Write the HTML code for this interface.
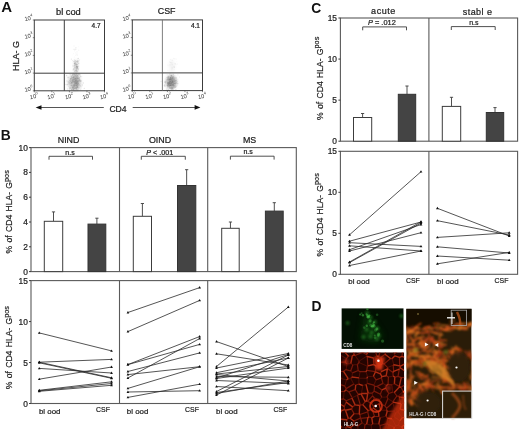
<!DOCTYPE html>
<html><head><meta charset="utf-8"><style>
html,body{margin:0;padding:0;background:#fff;width:520px;height:429px;overflow:hidden}
svg{display:block;filter:grayscale(0)}
text{font-family:"Liberation Sans",sans-serif}
</style></head><body>
<svg width="520" height="429" viewBox="0 0 520 429" font-family="Liberation Sans, sans-serif">
<defs>
<filter id="bl1" x="-50%" y="-50%" width="200%" height="200%"><feGaussianBlur stdDeviation="1.6"/></filter>
<filter id="bl2" x="-50%" y="-50%" width="200%" height="200%"><feGaussianBlur stdDeviation="1.8"/></filter>
<filter id="bl3" x="-50%" y="-50%" width="200%" height="200%"><feGaussianBlur stdDeviation="0.7"/></filter>
<filter id="bl4" x="-50%" y="-50%" width="200%" height="200%"><feGaussianBlur stdDeviation="3"/></filter>
<filter id="bl6" x="-50%" y="-50%" width="200%" height="200%"><feGaussianBlur stdDeviation="1.0"/></filter>
<filter id="bl7" x="-50%" y="-50%" width="200%" height="200%"><feGaussianBlur stdDeviation="0.35"/></filter>
<filter id="bl8" x="-20%" y="-20%" width="140%" height="140%"><feGaussianBlur stdDeviation="0.9"/></filter>
<filter id="bl5" x="-50%" y="-50%" width="200%" height="200%"><feGaussianBlur stdDeviation="0.4"/></filter>
<clipPath id="cg"><rect x="341.4" y="308.2" width="62.3" height="40.7"/></clipPath>
<clipPath id="cr"><rect x="341" y="352.3" width="63.2" height="77"/></clipPath>
<clipPath id="cm"><rect x="406.3" y="308.8" width="65.3" height="109.6"/></clipPath>
</defs>
<text x="1.2" y="12.0" font-size="15" text-anchor="start" font-weight="bold" fill="#111"  >A</text>
<ellipse cx="74.5" cy="82.5" rx="6.2" ry="8" fill="#6a6a6a" opacity="0.34" filter="url(#bl1)"/>
<ellipse cx="76" cy="81" rx="2.2" ry="9" fill="#6a6a6a" opacity="0.25" filter="url(#bl1)"/>
<ellipse cx="76" cy="66" rx="2.0" ry="6.5" fill="#6a6a6a" opacity="0.2" filter="url(#bl1)"/>
<g filter="url(#bl7)">
<circle cx="75.2" cy="75.1" r="0.60" fill="#666" opacity="0.13"/>
<circle cx="75.7" cy="83.2" r="0.70" fill="#666" opacity="0.13"/>
<circle cx="75.0" cy="81.4" r="0.58" fill="#666" opacity="0.15"/>
<circle cx="75.7" cy="80.7" r="0.46" fill="#666" opacity="0.14"/>
<circle cx="78.1" cy="78.7" r="0.51" fill="#666" opacity="0.13"/>
<circle cx="77.4" cy="83.2" r="0.58" fill="#666" opacity="0.13"/>
<circle cx="75.3" cy="88.5" r="0.52" fill="#666" opacity="0.13"/>
<circle cx="74.8" cy="83.8" r="0.70" fill="#666" opacity="0.14"/>
<circle cx="73.6" cy="77.5" r="0.75" fill="#666" opacity="0.17"/>
<circle cx="77.2" cy="87.6" r="0.67" fill="#666" opacity="0.15"/>
<circle cx="78.3" cy="78.3" r="0.70" fill="#666" opacity="0.15"/>
<circle cx="70.5" cy="81.6" r="0.46" fill="#666" opacity="0.11"/>
<circle cx="72.4" cy="88.9" r="0.60" fill="#666" opacity="0.16"/>
<circle cx="71.6" cy="80.8" r="0.60" fill="#666" opacity="0.09"/>
<circle cx="80.1" cy="85.8" r="0.74" fill="#666" opacity="0.14"/>
<circle cx="73.4" cy="85.4" r="0.60" fill="#666" opacity="0.18"/>
<circle cx="76.6" cy="77.0" r="0.60" fill="#666" opacity="0.18"/>
<circle cx="71.7" cy="77.3" r="0.53" fill="#666" opacity="0.14"/>
<circle cx="75.4" cy="81.7" r="0.69" fill="#666" opacity="0.16"/>
<circle cx="71.7" cy="78.4" r="0.47" fill="#666" opacity="0.17"/>
<circle cx="72.9" cy="79.4" r="0.60" fill="#666" opacity="0.13"/>
<circle cx="73.1" cy="88.5" r="0.61" fill="#666" opacity="0.15"/>
<circle cx="72.1" cy="75.5" r="0.46" fill="#666" opacity="0.11"/>
<circle cx="74.3" cy="78.7" r="0.46" fill="#666" opacity="0.09"/>
<circle cx="75.1" cy="75.2" r="0.48" fill="#666" opacity="0.15"/>
<circle cx="74.3" cy="84.8" r="0.50" fill="#666" opacity="0.14"/>
<circle cx="76.3" cy="88.3" r="0.66" fill="#666" opacity="0.13"/>
<circle cx="78.3" cy="83.3" r="0.58" fill="#666" opacity="0.11"/>
<circle cx="72.7" cy="81.6" r="0.63" fill="#666" opacity="0.16"/>
<circle cx="75.6" cy="82.2" r="0.49" fill="#666" opacity="0.15"/>
<circle cx="71.5" cy="89.2" r="0.55" fill="#666" opacity="0.15"/>
<circle cx="77.7" cy="84.7" r="0.74" fill="#666" opacity="0.17"/>
<circle cx="75.0" cy="83.2" r="0.71" fill="#666" opacity="0.09"/>
<circle cx="73.1" cy="79.6" r="0.71" fill="#666" opacity="0.18"/>
<circle cx="72.7" cy="87.8" r="0.51" fill="#666" opacity="0.15"/>
<circle cx="73.0" cy="84.4" r="0.48" fill="#666" opacity="0.15"/>
<circle cx="75.5" cy="81.0" r="0.51" fill="#666" opacity="0.12"/>
<circle cx="80.9" cy="80.7" r="0.55" fill="#666" opacity="0.11"/>
<circle cx="77.8" cy="78.6" r="0.71" fill="#666" opacity="0.15"/>
<circle cx="65.2" cy="84.5" r="0.52" fill="#666" opacity="0.16"/>
<circle cx="76.8" cy="84.8" r="0.72" fill="#666" opacity="0.11"/>
<circle cx="76.8" cy="74.8" r="0.55" fill="#666" opacity="0.12"/>
<circle cx="81.8" cy="76.7" r="0.49" fill="#666" opacity="0.14"/>
<circle cx="75.8" cy="83.5" r="0.47" fill="#666" opacity="0.17"/>
<circle cx="72.8" cy="79.2" r="0.47" fill="#666" opacity="0.11"/>
<circle cx="78.4" cy="74.6" r="0.73" fill="#666" opacity="0.13"/>
<circle cx="75.3" cy="80.7" r="0.65" fill="#666" opacity="0.10"/>
<circle cx="77.4" cy="83.7" r="0.75" fill="#666" opacity="0.13"/>
<circle cx="76.5" cy="85.6" r="0.52" fill="#666" opacity="0.16"/>
<circle cx="77.4" cy="77.9" r="0.53" fill="#666" opacity="0.13"/>
<circle cx="79.0" cy="89.7" r="0.46" fill="#666" opacity="0.09"/>
<circle cx="77.8" cy="81.2" r="0.63" fill="#666" opacity="0.13"/>
<circle cx="74.5" cy="85.0" r="0.72" fill="#666" opacity="0.18"/>
<circle cx="76.6" cy="81.2" r="0.51" fill="#666" opacity="0.15"/>
<circle cx="79.2" cy="80.6" r="0.66" fill="#666" opacity="0.15"/>
<circle cx="74.1" cy="88.3" r="0.47" fill="#666" opacity="0.12"/>
<circle cx="78.7" cy="81.0" r="0.65" fill="#666" opacity="0.15"/>
<circle cx="78.2" cy="78.7" r="0.54" fill="#666" opacity="0.12"/>
<circle cx="77.3" cy="77.3" r="0.55" fill="#666" opacity="0.14"/>
<circle cx="71.0" cy="76.2" r="0.52" fill="#666" opacity="0.09"/>
<circle cx="75.1" cy="85.5" r="0.62" fill="#666" opacity="0.10"/>
<circle cx="79.3" cy="87.8" r="0.54" fill="#666" opacity="0.16"/>
<circle cx="68.2" cy="82.8" r="0.50" fill="#666" opacity="0.14"/>
<circle cx="75.4" cy="78.5" r="0.73" fill="#666" opacity="0.11"/>
<circle cx="76.3" cy="74.9" r="0.48" fill="#666" opacity="0.14"/>
<circle cx="77.5" cy="78.4" r="0.72" fill="#666" opacity="0.10"/>
<circle cx="75.7" cy="80.8" r="0.54" fill="#666" opacity="0.17"/>
<circle cx="74.2" cy="76.8" r="0.58" fill="#666" opacity="0.10"/>
<circle cx="75.0" cy="85.3" r="0.74" fill="#666" opacity="0.16"/>
<circle cx="71.0" cy="78.6" r="0.71" fill="#666" opacity="0.13"/>
<circle cx="72.5" cy="87.0" r="0.53" fill="#666" opacity="0.09"/>
<circle cx="72.9" cy="74.6" r="0.62" fill="#666" opacity="0.10"/>
<circle cx="73.9" cy="85.9" r="0.49" fill="#666" opacity="0.11"/>
<circle cx="76.6" cy="74.0" r="0.57" fill="#666" opacity="0.15"/>
<circle cx="75.0" cy="83.1" r="0.61" fill="#666" opacity="0.14"/>
<circle cx="72.8" cy="74.2" r="0.66" fill="#666" opacity="0.16"/>
<circle cx="72.6" cy="82.9" r="0.57" fill="#666" opacity="0.14"/>
<circle cx="76.3" cy="83.0" r="0.60" fill="#666" opacity="0.17"/>
<circle cx="77.2" cy="76.8" r="0.66" fill="#666" opacity="0.17"/>
<circle cx="79.3" cy="79.1" r="0.50" fill="#666" opacity="0.11"/>
<circle cx="75.1" cy="79.1" r="0.65" fill="#666" opacity="0.15"/>
<circle cx="84.3" cy="88.4" r="0.69" fill="#666" opacity="0.15"/>
<circle cx="76.8" cy="80.8" r="0.68" fill="#666" opacity="0.17"/>
<circle cx="67.7" cy="88.9" r="0.74" fill="#666" opacity="0.12"/>
<circle cx="76.5" cy="88.9" r="0.49" fill="#666" opacity="0.17"/>
<circle cx="76.7" cy="80.9" r="0.63" fill="#666" opacity="0.13"/>
<circle cx="77.1" cy="87.1" r="0.52" fill="#666" opacity="0.16"/>
<circle cx="77.2" cy="82.1" r="0.58" fill="#666" opacity="0.09"/>
<circle cx="76.2" cy="76.7" r="0.54" fill="#666" opacity="0.14"/>
<circle cx="79.2" cy="80.1" r="0.60" fill="#666" opacity="0.17"/>
<circle cx="72.9" cy="86.9" r="0.48" fill="#666" opacity="0.16"/>
<circle cx="66.6" cy="75.5" r="0.68" fill="#666" opacity="0.18"/>
<circle cx="77.6" cy="90.0" r="0.62" fill="#666" opacity="0.12"/>
<circle cx="71.8" cy="81.8" r="0.61" fill="#666" opacity="0.09"/>
<circle cx="71.5" cy="85.5" r="0.54" fill="#666" opacity="0.13"/>
<circle cx="70.1" cy="82.6" r="0.56" fill="#666" opacity="0.11"/>
<circle cx="77.7" cy="82.2" r="0.63" fill="#666" opacity="0.17"/>
<circle cx="78.8" cy="81.2" r="0.70" fill="#666" opacity="0.13"/>
<circle cx="74.3" cy="87.2" r="0.64" fill="#666" opacity="0.14"/>
<circle cx="74.8" cy="82.6" r="0.57" fill="#666" opacity="0.13"/>
<circle cx="70.2" cy="74.6" r="0.72" fill="#666" opacity="0.16"/>
<circle cx="69.4" cy="82.7" r="0.64" fill="#666" opacity="0.15"/>
<circle cx="72.6" cy="75.3" r="0.64" fill="#666" opacity="0.15"/>
<circle cx="80.5" cy="75.9" r="0.70" fill="#666" opacity="0.16"/>
<circle cx="73.4" cy="87.7" r="0.66" fill="#666" opacity="0.17"/>
<circle cx="73.1" cy="80.6" r="0.70" fill="#666" opacity="0.13"/>
<circle cx="74.0" cy="82.6" r="0.60" fill="#666" opacity="0.16"/>
<circle cx="72.2" cy="85.9" r="0.65" fill="#666" opacity="0.09"/>
<circle cx="66.8" cy="81.0" r="0.66" fill="#666" opacity="0.13"/>
<circle cx="75.6" cy="87.9" r="0.72" fill="#666" opacity="0.11"/>
<circle cx="80.7" cy="89.7" r="0.61" fill="#666" opacity="0.12"/>
<circle cx="69.5" cy="80.9" r="0.50" fill="#666" opacity="0.15"/>
<circle cx="77.0" cy="76.0" r="0.52" fill="#666" opacity="0.18"/>
<circle cx="82.2" cy="85.7" r="0.64" fill="#666" opacity="0.12"/>
<circle cx="69.8" cy="88.3" r="0.69" fill="#666" opacity="0.11"/>
<circle cx="73.6" cy="78.1" r="0.74" fill="#666" opacity="0.13"/>
<circle cx="79.7" cy="74.5" r="0.63" fill="#666" opacity="0.11"/>
<circle cx="73.2" cy="81.2" r="0.49" fill="#666" opacity="0.15"/>
<circle cx="74.4" cy="74.5" r="0.48" fill="#666" opacity="0.13"/>
<circle cx="73.4" cy="82.2" r="0.51" fill="#666" opacity="0.09"/>
<circle cx="75.2" cy="84.3" r="0.66" fill="#666" opacity="0.16"/>
<circle cx="79.6" cy="79.2" r="0.55" fill="#666" opacity="0.17"/>
<circle cx="77.8" cy="87.1" r="0.60" fill="#666" opacity="0.12"/>
<circle cx="76.2" cy="87.7" r="0.70" fill="#666" opacity="0.13"/>
<circle cx="72.9" cy="79.0" r="0.66" fill="#666" opacity="0.12"/>
<circle cx="76.0" cy="81.9" r="0.69" fill="#666" opacity="0.17"/>
<circle cx="73.6" cy="90.0" r="0.62" fill="#666" opacity="0.17"/>
<circle cx="75.1" cy="76.8" r="0.72" fill="#666" opacity="0.09"/>
<circle cx="78.1" cy="85.1" r="0.49" fill="#666" opacity="0.13"/>
<circle cx="76.2" cy="82.7" r="0.70" fill="#666" opacity="0.09"/>
<circle cx="74.7" cy="86.4" r="0.48" fill="#666" opacity="0.09"/>
<circle cx="73.2" cy="74.4" r="0.64" fill="#666" opacity="0.18"/>
<circle cx="73.4" cy="76.8" r="0.47" fill="#666" opacity="0.17"/>
<circle cx="72.3" cy="77.5" r="0.63" fill="#666" opacity="0.14"/>
<circle cx="73.8" cy="81.6" r="0.56" fill="#666" opacity="0.13"/>
<circle cx="70.5" cy="88.1" r="0.66" fill="#666" opacity="0.16"/>
<circle cx="76.4" cy="83.3" r="0.69" fill="#666" opacity="0.13"/>
<circle cx="79.1" cy="84.8" r="0.58" fill="#666" opacity="0.10"/>
<circle cx="75.6" cy="80.6" r="0.61" fill="#666" opacity="0.10"/>
<circle cx="75.4" cy="78.4" r="0.46" fill="#666" opacity="0.12"/>
<circle cx="74.7" cy="74.2" r="0.49" fill="#666" opacity="0.16"/>
<circle cx="73.5" cy="89.2" r="0.69" fill="#666" opacity="0.18"/>
<circle cx="73.6" cy="79.9" r="0.65" fill="#666" opacity="0.13"/>
<circle cx="80.4" cy="80.9" r="0.70" fill="#666" opacity="0.15"/>
<circle cx="67.9" cy="77.7" r="0.70" fill="#666" opacity="0.12"/>
<circle cx="76.8" cy="89.2" r="0.61" fill="#666" opacity="0.10"/>
<circle cx="81.0" cy="86.5" r="0.65" fill="#666" opacity="0.12"/>
<circle cx="74.1" cy="90.0" r="0.55" fill="#666" opacity="0.16"/>
<circle cx="70.8" cy="81.9" r="0.49" fill="#666" opacity="0.17"/>
<circle cx="73.6" cy="89.1" r="0.47" fill="#666" opacity="0.18"/>
<circle cx="67.5" cy="84.5" r="0.73" fill="#666" opacity="0.18"/>
<circle cx="80.4" cy="74.4" r="0.49" fill="#666" opacity="0.14"/>
<circle cx="79.6" cy="77.4" r="0.57" fill="#666" opacity="0.13"/>
<circle cx="79.2" cy="80.6" r="0.50" fill="#666" opacity="0.10"/>
<circle cx="76.8" cy="78.8" r="0.57" fill="#666" opacity="0.16"/>
<circle cx="76.5" cy="83.3" r="0.61" fill="#666" opacity="0.11"/>
<circle cx="77.1" cy="86.4" r="0.64" fill="#666" opacity="0.14"/>
<circle cx="76.2" cy="83.7" r="0.71" fill="#666" opacity="0.15"/>
<circle cx="78.2" cy="83.2" r="0.70" fill="#666" opacity="0.15"/>
<circle cx="77.8" cy="76.1" r="0.65" fill="#666" opacity="0.14"/>
<circle cx="80.7" cy="76.5" r="0.67" fill="#666" opacity="0.16"/>
<circle cx="77.6" cy="81.9" r="0.51" fill="#666" opacity="0.16"/>
<circle cx="71.6" cy="82.7" r="0.71" fill="#666" opacity="0.16"/>
<circle cx="74.2" cy="80.7" r="0.71" fill="#666" opacity="0.13"/>
<circle cx="76.1" cy="89.1" r="0.66" fill="#666" opacity="0.09"/>
<circle cx="77.1" cy="87.2" r="0.72" fill="#666" opacity="0.16"/>
<circle cx="79.2" cy="79.9" r="0.62" fill="#666" opacity="0.14"/>
<circle cx="70.8" cy="80.2" r="0.70" fill="#666" opacity="0.18"/>
<circle cx="71.0" cy="88.9" r="0.54" fill="#666" opacity="0.12"/>
<circle cx="70.5" cy="81.5" r="0.61" fill="#666" opacity="0.18"/>
<circle cx="80.5" cy="81.5" r="0.62" fill="#666" opacity="0.12"/>
<circle cx="79.0" cy="73.8" r="0.72" fill="#666" opacity="0.17"/>
<circle cx="76.9" cy="74.7" r="0.59" fill="#666" opacity="0.16"/>
<circle cx="71.9" cy="82.9" r="0.59" fill="#666" opacity="0.10"/>
<circle cx="72.9" cy="89.4" r="0.46" fill="#666" opacity="0.11"/>
<circle cx="72.6" cy="78.0" r="0.75" fill="#666" opacity="0.11"/>
<circle cx="69.4" cy="80.7" r="0.66" fill="#666" opacity="0.13"/>
<circle cx="80.3" cy="79.5" r="0.48" fill="#666" opacity="0.10"/>
<circle cx="77.4" cy="80.6" r="0.46" fill="#666" opacity="0.11"/>
<circle cx="66.7" cy="84.8" r="0.57" fill="#666" opacity="0.16"/>
<circle cx="75.7" cy="78.6" r="0.63" fill="#666" opacity="0.18"/>
<circle cx="71.0" cy="78.6" r="0.55" fill="#666" opacity="0.18"/>
<circle cx="76.6" cy="81.2" r="0.62" fill="#666" opacity="0.13"/>
<circle cx="74.2" cy="78.0" r="0.53" fill="#666" opacity="0.12"/>
<circle cx="69.0" cy="84.0" r="0.71" fill="#666" opacity="0.16"/>
<circle cx="74.4" cy="78.6" r="0.57" fill="#666" opacity="0.15"/>
<circle cx="76.4" cy="79.5" r="0.71" fill="#666" opacity="0.10"/>
<circle cx="77.8" cy="81.6" r="0.60" fill="#666" opacity="0.17"/>
<circle cx="72.7" cy="80.3" r="0.68" fill="#666" opacity="0.12"/>
<circle cx="74.6" cy="82.1" r="0.75" fill="#666" opacity="0.15"/>
<circle cx="69.7" cy="87.6" r="0.70" fill="#666" opacity="0.11"/>
<circle cx="73.5" cy="84.5" r="0.51" fill="#666" opacity="0.14"/>
<circle cx="70.4" cy="79.5" r="0.49" fill="#666" opacity="0.13"/>
<circle cx="74.7" cy="88.2" r="0.56" fill="#666" opacity="0.13"/>
<circle cx="77.8" cy="84.9" r="0.66" fill="#666" opacity="0.15"/>
<circle cx="74.1" cy="86.1" r="0.49" fill="#666" opacity="0.11"/>
<circle cx="78.6" cy="87.9" r="0.66" fill="#666" opacity="0.14"/>
<circle cx="74.0" cy="76.1" r="0.51" fill="#666" opacity="0.14"/>
<circle cx="77.7" cy="75.7" r="0.45" fill="#666" opacity="0.09"/>
<circle cx="77.1" cy="85.3" r="0.65" fill="#666" opacity="0.18"/>
<circle cx="74.3" cy="81.8" r="0.55" fill="#666" opacity="0.10"/>
<circle cx="74.6" cy="79.6" r="0.47" fill="#666" opacity="0.16"/>
<circle cx="77.4" cy="86.7" r="0.53" fill="#666" opacity="0.09"/>
<circle cx="76.8" cy="83.0" r="0.57" fill="#666" opacity="0.17"/>
<circle cx="73.4" cy="76.9" r="0.65" fill="#666" opacity="0.11"/>
<circle cx="72.0" cy="81.2" r="0.73" fill="#666" opacity="0.12"/>
<circle cx="77.4" cy="75.3" r="0.65" fill="#666" opacity="0.15"/>
<circle cx="70.7" cy="80.0" r="0.61" fill="#666" opacity="0.13"/>
<circle cx="78.9" cy="74.4" r="0.61" fill="#666" opacity="0.09"/>
<circle cx="72.9" cy="81.7" r="0.51" fill="#666" opacity="0.13"/>
<circle cx="72.5" cy="80.1" r="0.53" fill="#666" opacity="0.14"/>
<circle cx="71.6" cy="83.5" r="0.48" fill="#666" opacity="0.12"/>
<circle cx="68.7" cy="77.2" r="0.67" fill="#666" opacity="0.15"/>
<circle cx="77.9" cy="83.5" r="0.65" fill="#666" opacity="0.10"/>
<circle cx="76.6" cy="79.4" r="0.71" fill="#666" opacity="0.11"/>
<circle cx="72.3" cy="88.6" r="0.49" fill="#666" opacity="0.14"/>
<circle cx="83.4" cy="83.1" r="0.73" fill="#666" opacity="0.15"/>
<circle cx="71.8" cy="89.9" r="0.71" fill="#666" opacity="0.13"/>
<circle cx="71.1" cy="88.7" r="0.47" fill="#666" opacity="0.13"/>
<circle cx="80.2" cy="85.3" r="0.45" fill="#666" opacity="0.09"/>
<circle cx="76.4" cy="85.2" r="0.60" fill="#666" opacity="0.12"/>
<circle cx="79.2" cy="74.9" r="0.69" fill="#666" opacity="0.16"/>
<circle cx="73.7" cy="86.1" r="0.68" fill="#666" opacity="0.17"/>
<circle cx="80.8" cy="81.6" r="0.47" fill="#666" opacity="0.13"/>
<circle cx="73.0" cy="87.3" r="0.69" fill="#666" opacity="0.13"/>
<circle cx="73.9" cy="81.6" r="0.65" fill="#666" opacity="0.17"/>
<circle cx="71.9" cy="82.6" r="0.66" fill="#666" opacity="0.18"/>
<circle cx="82.2" cy="84.6" r="0.56" fill="#666" opacity="0.17"/>
<circle cx="77.5" cy="86.8" r="0.74" fill="#666" opacity="0.15"/>
<circle cx="71.1" cy="83.9" r="0.68" fill="#666" opacity="0.16"/>
<circle cx="70.7" cy="78.9" r="0.73" fill="#666" opacity="0.17"/>
<circle cx="76.9" cy="89.1" r="0.48" fill="#666" opacity="0.09"/>
<circle cx="76.9" cy="84.6" r="0.68" fill="#666" opacity="0.15"/>
<circle cx="75.8" cy="74.9" r="0.50" fill="#666" opacity="0.18"/>
<circle cx="78.4" cy="83.1" r="0.64" fill="#666" opacity="0.16"/>
<circle cx="78.6" cy="76.2" r="0.57" fill="#666" opacity="0.09"/>
<circle cx="79.2" cy="74.7" r="0.55" fill="#666" opacity="0.11"/>
<circle cx="77.0" cy="80.6" r="0.63" fill="#666" opacity="0.14"/>
<circle cx="69.6" cy="89.0" r="0.73" fill="#666" opacity="0.16"/>
<circle cx="71.7" cy="89.5" r="0.64" fill="#666" opacity="0.13"/>
<circle cx="77.5" cy="81.1" r="0.45" fill="#666" opacity="0.18"/>
<circle cx="74.0" cy="88.7" r="0.57" fill="#666" opacity="0.14"/>
<circle cx="80.3" cy="80.8" r="0.55" fill="#666" opacity="0.14"/>
<circle cx="71.2" cy="85.4" r="0.58" fill="#666" opacity="0.11"/>
<circle cx="72.3" cy="87.5" r="0.51" fill="#666" opacity="0.16"/>
<circle cx="73.8" cy="86.0" r="0.62" fill="#666" opacity="0.17"/>
<circle cx="74.6" cy="73.9" r="0.49" fill="#666" opacity="0.11"/>
<circle cx="73.4" cy="87.9" r="0.59" fill="#666" opacity="0.10"/>
<circle cx="76.8" cy="87.0" r="0.51" fill="#666" opacity="0.16"/>
<circle cx="72.8" cy="80.6" r="0.58" fill="#666" opacity="0.17"/>
<circle cx="71.2" cy="76.6" r="0.57" fill="#666" opacity="0.11"/>
<circle cx="74.0" cy="79.4" r="0.69" fill="#666" opacity="0.10"/>
<circle cx="77.9" cy="90.1" r="0.47" fill="#666" opacity="0.11"/>
<circle cx="72.9" cy="87.0" r="0.65" fill="#666" opacity="0.18"/>
<circle cx="71.1" cy="75.2" r="0.68" fill="#666" opacity="0.11"/>
<circle cx="81.0" cy="88.0" r="0.54" fill="#666" opacity="0.16"/>
<circle cx="79.6" cy="78.6" r="0.48" fill="#666" opacity="0.17"/>
<circle cx="73.3" cy="77.0" r="0.51" fill="#666" opacity="0.14"/>
<circle cx="75.0" cy="82.8" r="0.49" fill="#666" opacity="0.11"/>
<circle cx="70.3" cy="83.4" r="0.53" fill="#666" opacity="0.15"/>
<circle cx="68.3" cy="81.7" r="0.74" fill="#666" opacity="0.16"/>
<circle cx="72.6" cy="85.4" r="0.48" fill="#666" opacity="0.16"/>
<circle cx="78.0" cy="90.4" r="0.59" fill="#666" opacity="0.09"/>
<circle cx="67.5" cy="77.1" r="0.72" fill="#666" opacity="0.10"/>
<circle cx="74.6" cy="79.6" r="0.58" fill="#666" opacity="0.13"/>
<circle cx="79.4" cy="78.8" r="0.51" fill="#666" opacity="0.14"/>
<circle cx="72.8" cy="81.2" r="0.56" fill="#666" opacity="0.17"/>
<circle cx="80.8" cy="80.2" r="0.47" fill="#666" opacity="0.17"/>
<circle cx="68.8" cy="86.4" r="0.50" fill="#666" opacity="0.10"/>
<circle cx="77.3" cy="77.9" r="0.46" fill="#666" opacity="0.14"/>
<circle cx="81.4" cy="81.0" r="0.57" fill="#666" opacity="0.18"/>
<circle cx="72.9" cy="74.8" r="0.72" fill="#666" opacity="0.13"/>
<circle cx="79.0" cy="77.4" r="0.72" fill="#666" opacity="0.13"/>
<circle cx="70.9" cy="87.3" r="0.55" fill="#666" opacity="0.10"/>
<circle cx="78.4" cy="89.7" r="0.45" fill="#666" opacity="0.17"/>
<circle cx="73.3" cy="89.4" r="0.62" fill="#666" opacity="0.15"/>
<circle cx="71.6" cy="76.9" r="0.64" fill="#666" opacity="0.17"/>
<circle cx="71.2" cy="85.5" r="0.69" fill="#666" opacity="0.09"/>
<circle cx="76.6" cy="88.8" r="0.51" fill="#666" opacity="0.17"/>
<circle cx="76.0" cy="85.5" r="0.55" fill="#666" opacity="0.14"/>
<circle cx="76.2" cy="82.8" r="0.64" fill="#666" opacity="0.16"/>
<circle cx="70.8" cy="78.3" r="0.64" fill="#666" opacity="0.10"/>
<circle cx="74.8" cy="85.7" r="0.53" fill="#666" opacity="0.16"/>
<circle cx="74.8" cy="88.2" r="0.53" fill="#666" opacity="0.13"/>
<circle cx="74.8" cy="74.4" r="0.71" fill="#666" opacity="0.18"/>
<circle cx="75.6" cy="78.8" r="0.54" fill="#666" opacity="0.17"/>
<circle cx="76.2" cy="78.3" r="0.58" fill="#666" opacity="0.12"/>
<circle cx="75.0" cy="79.8" r="0.54" fill="#666" opacity="0.16"/>
<circle cx="75.7" cy="80.3" r="0.63" fill="#666" opacity="0.15"/>
<circle cx="77.5" cy="75.2" r="0.74" fill="#666" opacity="0.11"/>
<circle cx="76.3" cy="85.1" r="0.63" fill="#666" opacity="0.10"/>
<circle cx="74.8" cy="87.9" r="0.47" fill="#666" opacity="0.18"/>
<circle cx="74.6" cy="75.7" r="0.73" fill="#666" opacity="0.09"/>
<circle cx="75.9" cy="81.7" r="0.53" fill="#666" opacity="0.14"/>
<circle cx="80.8" cy="82.9" r="0.48" fill="#666" opacity="0.16"/>
<circle cx="79.1" cy="84.4" r="0.51" fill="#666" opacity="0.12"/>
<circle cx="71.7" cy="82.5" r="0.57" fill="#666" opacity="0.15"/>
<circle cx="75.7" cy="87.4" r="0.66" fill="#666" opacity="0.12"/>
<circle cx="78.3" cy="78.1" r="0.59" fill="#666" opacity="0.09"/>
<circle cx="76.6" cy="82.5" r="0.64" fill="#666" opacity="0.15"/>
<circle cx="77.5" cy="64.4" r="0.66" fill="#666" opacity="0.12"/>
<circle cx="77.4" cy="68.3" r="0.66" fill="#666" opacity="0.16"/>
<circle cx="78.7" cy="63.2" r="0.62" fill="#666" opacity="0.14"/>
<circle cx="74.3" cy="66.0" r="0.65" fill="#666" opacity="0.14"/>
<circle cx="77.0" cy="61.7" r="0.59" fill="#666" opacity="0.16"/>
<circle cx="75.2" cy="60.6" r="0.62" fill="#666" opacity="0.16"/>
<circle cx="75.1" cy="63.6" r="0.54" fill="#666" opacity="0.14"/>
<circle cx="77.6" cy="67.6" r="0.72" fill="#666" opacity="0.11"/>
<circle cx="73.8" cy="68.7" r="0.73" fill="#666" opacity="0.15"/>
<circle cx="75.0" cy="62.5" r="0.58" fill="#666" opacity="0.15"/>
<circle cx="74.4" cy="72.9" r="0.45" fill="#666" opacity="0.16"/>
<circle cx="75.9" cy="61.7" r="0.45" fill="#666" opacity="0.12"/>
<circle cx="73.8" cy="61.3" r="0.71" fill="#666" opacity="0.11"/>
<circle cx="76.7" cy="67.2" r="0.75" fill="#666" opacity="0.15"/>
<circle cx="77.6" cy="71.5" r="0.74" fill="#666" opacity="0.14"/>
<circle cx="75.7" cy="63.0" r="0.68" fill="#666" opacity="0.14"/>
<circle cx="74.7" cy="63.9" r="0.54" fill="#666" opacity="0.13"/>
<circle cx="74.4" cy="65.1" r="0.71" fill="#666" opacity="0.10"/>
<circle cx="74.4" cy="61.7" r="0.64" fill="#666" opacity="0.11"/>
<circle cx="75.2" cy="68.1" r="0.50" fill="#666" opacity="0.18"/>
<circle cx="78.3" cy="66.1" r="0.54" fill="#666" opacity="0.13"/>
<circle cx="75.8" cy="64.9" r="0.56" fill="#666" opacity="0.14"/>
<circle cx="77.3" cy="61.7" r="0.55" fill="#666" opacity="0.14"/>
<circle cx="74.9" cy="63.9" r="0.61" fill="#666" opacity="0.11"/>
<circle cx="77.3" cy="66.3" r="0.48" fill="#666" opacity="0.13"/>
<circle cx="73.0" cy="65.9" r="0.67" fill="#666" opacity="0.16"/>
<circle cx="77.2" cy="65.7" r="0.56" fill="#666" opacity="0.11"/>
<circle cx="77.4" cy="69.6" r="0.60" fill="#666" opacity="0.10"/>
<circle cx="79.7" cy="59.5" r="0.47" fill="#666" opacity="0.09"/>
<circle cx="78.3" cy="69.1" r="0.71" fill="#666" opacity="0.10"/>
<circle cx="77.9" cy="66.3" r="0.55" fill="#666" opacity="0.09"/>
<circle cx="77.0" cy="66.2" r="0.51" fill="#666" opacity="0.12"/>
<circle cx="74.9" cy="64.8" r="0.52" fill="#666" opacity="0.11"/>
<circle cx="76.8" cy="63.6" r="0.62" fill="#666" opacity="0.13"/>
<circle cx="75.2" cy="70.5" r="0.45" fill="#666" opacity="0.11"/>
<circle cx="74.4" cy="59.5" r="0.52" fill="#666" opacity="0.11"/>
<circle cx="76.6" cy="64.7" r="0.69" fill="#666" opacity="0.17"/>
<circle cx="76.3" cy="67.2" r="0.54" fill="#666" opacity="0.12"/>
<circle cx="74.6" cy="63.1" r="0.69" fill="#666" opacity="0.15"/>
<circle cx="76.7" cy="68.3" r="0.67" fill="#666" opacity="0.10"/>
<circle cx="78.6" cy="63.3" r="0.52" fill="#666" opacity="0.12"/>
<circle cx="76.0" cy="71.2" r="0.52" fill="#666" opacity="0.09"/>
<circle cx="76.0" cy="69.3" r="0.55" fill="#666" opacity="0.13"/>
<circle cx="77.6" cy="60.8" r="0.63" fill="#666" opacity="0.17"/>
<circle cx="74.8" cy="69.4" r="0.52" fill="#666" opacity="0.16"/>
<circle cx="78.4" cy="58.3" r="0.63" fill="#666" opacity="0.10"/>
<circle cx="78.4" cy="69.9" r="0.72" fill="#666" opacity="0.14"/>
<circle cx="79.0" cy="60.5" r="0.68" fill="#666" opacity="0.12"/>
<circle cx="74.7" cy="67.3" r="0.57" fill="#666" opacity="0.13"/>
<circle cx="76.8" cy="66.3" r="0.50" fill="#666" opacity="0.14"/>
<circle cx="77.6" cy="60.3" r="0.49" fill="#666" opacity="0.13"/>
<circle cx="75.4" cy="64.1" r="0.47" fill="#666" opacity="0.15"/>
<circle cx="76.2" cy="73.2" r="0.50" fill="#666" opacity="0.17"/>
<circle cx="75.4" cy="70.9" r="0.61" fill="#666" opacity="0.17"/>
<circle cx="78.5" cy="61.2" r="0.66" fill="#666" opacity="0.10"/>
<circle cx="76.7" cy="71.7" r="0.75" fill="#666" opacity="0.16"/>
<circle cx="76.5" cy="70.4" r="0.74" fill="#666" opacity="0.14"/>
<circle cx="78.0" cy="58.8" r="0.68" fill="#666" opacity="0.15"/>
<circle cx="75.3" cy="62.0" r="0.49" fill="#666" opacity="0.18"/>
<circle cx="77.2" cy="66.8" r="0.63" fill="#666" opacity="0.18"/>
<circle cx="76.3" cy="69.6" r="0.70" fill="#666" opacity="0.12"/>
<circle cx="74.8" cy="68.7" r="0.46" fill="#666" opacity="0.17"/>
<circle cx="75.9" cy="65.4" r="0.48" fill="#666" opacity="0.10"/>
<circle cx="76.7" cy="68.8" r="0.54" fill="#666" opacity="0.14"/>
<circle cx="77.5" cy="62.4" r="0.72" fill="#666" opacity="0.14"/>
<circle cx="73.2" cy="70.2" r="0.62" fill="#666" opacity="0.13"/>
<circle cx="74.6" cy="65.6" r="0.58" fill="#666" opacity="0.10"/>
<circle cx="76.7" cy="68.5" r="0.50" fill="#666" opacity="0.12"/>
<circle cx="77.4" cy="67.4" r="0.63" fill="#666" opacity="0.15"/>
<circle cx="76.4" cy="64.4" r="0.64" fill="#666" opacity="0.11"/>
<circle cx="74.9" cy="71.5" r="0.70" fill="#666" opacity="0.15"/>
<circle cx="76.3" cy="65.9" r="0.54" fill="#666" opacity="0.13"/>
<circle cx="76.5" cy="66.4" r="0.56" fill="#666" opacity="0.14"/>
<circle cx="76.4" cy="67.4" r="0.55" fill="#666" opacity="0.16"/>
<circle cx="71.4" cy="59.1" r="0.63" fill="#666" opacity="0.17"/>
<circle cx="74.5" cy="63.5" r="0.57" fill="#666" opacity="0.10"/>
<circle cx="78.0" cy="68.8" r="0.71" fill="#666" opacity="0.09"/>
<circle cx="76.6" cy="70.0" r="0.54" fill="#666" opacity="0.17"/>
<circle cx="76.0" cy="70.3" r="0.60" fill="#666" opacity="0.18"/>
<circle cx="75.4" cy="72.8" r="0.46" fill="#666" opacity="0.13"/>
<circle cx="76.9" cy="64.5" r="0.56" fill="#666" opacity="0.15"/>
<circle cx="74.2" cy="63.4" r="0.63" fill="#666" opacity="0.15"/>
<circle cx="75.4" cy="70.2" r="0.57" fill="#666" opacity="0.14"/>
<circle cx="73.2" cy="61.8" r="0.57" fill="#666" opacity="0.13"/>
<circle cx="77.7" cy="67.4" r="0.62" fill="#666" opacity="0.15"/>
<circle cx="78.3" cy="61.6" r="0.62" fill="#666" opacity="0.13"/>
<circle cx="77.9" cy="66.5" r="0.62" fill="#666" opacity="0.16"/>
<circle cx="77.0" cy="71.7" r="0.47" fill="#666" opacity="0.16"/>
<circle cx="76.7" cy="61.2" r="0.66" fill="#666" opacity="0.15"/>
<circle cx="75.8" cy="68.0" r="0.68" fill="#666" opacity="0.12"/>
<circle cx="76.9" cy="70.6" r="0.70" fill="#666" opacity="0.18"/>
<circle cx="72.4" cy="60.6" r="0.50" fill="#666" opacity="0.13"/>
<circle cx="77.1" cy="66.2" r="0.71" fill="#666" opacity="0.10"/>
<circle cx="75.0" cy="61.1" r="0.75" fill="#666" opacity="0.18"/>
<circle cx="76.8" cy="68.7" r="0.75" fill="#666" opacity="0.12"/>
<circle cx="75.0" cy="63.1" r="0.62" fill="#666" opacity="0.13"/>
<circle cx="74.2" cy="67.7" r="0.50" fill="#666" opacity="0.15"/>
<circle cx="77.9" cy="64.1" r="0.69" fill="#666" opacity="0.12"/>
<circle cx="76.1" cy="66.5" r="0.74" fill="#666" opacity="0.10"/>
<circle cx="74.4" cy="71.0" r="0.67" fill="#666" opacity="0.15"/>
<circle cx="73.4" cy="69.4" r="0.58" fill="#666" opacity="0.17"/>
<circle cx="78.3" cy="68.7" r="0.48" fill="#666" opacity="0.12"/>
<circle cx="75.1" cy="67.1" r="0.58" fill="#666" opacity="0.17"/>
<circle cx="77.0" cy="66.7" r="0.74" fill="#666" opacity="0.13"/>
<circle cx="73.5" cy="73.1" r="0.68" fill="#666" opacity="0.11"/>
<circle cx="75.2" cy="64.2" r="0.68" fill="#666" opacity="0.14"/>
<circle cx="76.2" cy="64.3" r="0.73" fill="#666" opacity="0.11"/>
<circle cx="76.9" cy="61.6" r="0.72" fill="#666" opacity="0.10"/>
<circle cx="77.6" cy="67.9" r="0.73" fill="#666" opacity="0.13"/>
<circle cx="75.1" cy="65.9" r="0.61" fill="#666" opacity="0.13"/>
<circle cx="78.5" cy="46.7" r="0.59" fill="#666" opacity="0.03"/>
<circle cx="74.9" cy="49.7" r="0.69" fill="#666" opacity="0.04"/>
<circle cx="72.1" cy="54.9" r="0.48" fill="#666" opacity="0.03"/>
<circle cx="77.1" cy="52.9" r="0.56" fill="#666" opacity="0.04"/>
<circle cx="75.9" cy="52.8" r="0.60" fill="#666" opacity="0.04"/>
<circle cx="75.9" cy="47.8" r="0.62" fill="#666" opacity="0.04"/>
<circle cx="76.0" cy="48.9" r="0.60" fill="#666" opacity="0.04"/>
<circle cx="73.6" cy="53.6" r="0.61" fill="#666" opacity="0.04"/>
<circle cx="73.4" cy="49.4" r="0.67" fill="#666" opacity="0.04"/>
<circle cx="74.1" cy="48.9" r="0.60" fill="#666" opacity="0.04"/>
<circle cx="74.6" cy="51.2" r="0.52" fill="#666" opacity="0.04"/>
<circle cx="74.8" cy="49.9" r="0.68" fill="#666" opacity="0.06"/>
<circle cx="76.1" cy="47.5" r="0.73" fill="#666" opacity="0.04"/>
<circle cx="74.3" cy="57.1" r="0.65" fill="#666" opacity="0.04"/>
<circle cx="75.7" cy="55.5" r="0.57" fill="#666" opacity="0.05"/>
<circle cx="75.4" cy="49.3" r="0.57" fill="#666" opacity="0.06"/>
<circle cx="78.6" cy="50.3" r="0.68" fill="#666" opacity="0.06"/>
<circle cx="76.1" cy="53.8" r="0.63" fill="#666" opacity="0.04"/>
<circle cx="75.6" cy="48.0" r="0.58" fill="#666" opacity="0.05"/>
<circle cx="77.7" cy="54.8" r="0.50" fill="#666" opacity="0.05"/>
<circle cx="76.0" cy="49.2" r="0.58" fill="#666" opacity="0.05"/>
<circle cx="74.0" cy="46.1" r="0.74" fill="#666" opacity="0.06"/>
<circle cx="76.3" cy="54.8" r="0.74" fill="#666" opacity="0.03"/>
<circle cx="77.0" cy="51.5" r="0.63" fill="#666" opacity="0.03"/>
<circle cx="77.2" cy="55.4" r="0.69" fill="#666" opacity="0.05"/>
</g>
<rect x="34.3" y="20.0" width="70.20" height="70.80" fill="none" stroke="#3c3c3c" stroke-width="1.0"/>
<line x1="64.3" y1="20.0" x2="64.3" y2="90.8" stroke="#3c3c3c" stroke-width="1.0"/>
<line x1="34.3" y1="73.2" x2="104.5" y2="73.2" stroke="#3c3c3c" stroke-width="1.0"/>
<text x="68.4" y="15.1" font-size="9.3" text-anchor="middle" font-weight="normal" fill="#222" stroke="#222" stroke-width="0.22" >bl cod</text>
<text x="100.6" y="28.0" font-size="6.5" text-anchor="end" font-weight="normal" fill="#222" stroke="#222" stroke-width="0.22" >4.7</text>
<line x1="32.8" y1="90.8" x2="34.3" y2="90.8" stroke="#3c3c3c" stroke-width="0.6"/>
<text transform="translate(28.699999999999996,89.0) rotate(-12)" font-size="5.7" text-anchor="middle" dominant-baseline="central" fill="#333" font-family="Liberation Sans, sans-serif">10<tspan font-size="3.8" dy="-2.2">0</tspan></text>
<line x1="32.8" y1="73.1" x2="34.3" y2="73.1" stroke="#3c3c3c" stroke-width="0.6"/>
<text transform="translate(28.699999999999996,71.3) rotate(-12)" font-size="5.7" text-anchor="middle" dominant-baseline="central" fill="#333" font-family="Liberation Sans, sans-serif">10<tspan font-size="3.8" dy="-2.2">1</tspan></text>
<line x1="32.8" y1="55.4" x2="34.3" y2="55.4" stroke="#3c3c3c" stroke-width="0.6"/>
<text transform="translate(28.699999999999996,53.6) rotate(-12)" font-size="5.7" text-anchor="middle" dominant-baseline="central" fill="#333" font-family="Liberation Sans, sans-serif">10<tspan font-size="3.8" dy="-2.2">2</tspan></text>
<line x1="32.8" y1="37.7" x2="34.3" y2="37.7" stroke="#3c3c3c" stroke-width="0.6"/>
<text transform="translate(28.699999999999996,35.900000000000006) rotate(-12)" font-size="5.7" text-anchor="middle" dominant-baseline="central" fill="#333" font-family="Liberation Sans, sans-serif">10<tspan font-size="3.8" dy="-2.2">3</tspan></text>
<line x1="32.8" y1="20.0" x2="34.3" y2="20.0" stroke="#3c3c3c" stroke-width="0.6"/>
<text transform="translate(28.699999999999996,18.2) rotate(-12)" font-size="5.7" text-anchor="middle" dominant-baseline="central" fill="#333" font-family="Liberation Sans, sans-serif">10<tspan font-size="3.8" dy="-2.2">4</tspan></text>
<line x1="34.3" y1="90.8" x2="34.3" y2="92.3" stroke="#3c3c3c" stroke-width="0.6"/>
<text transform="translate(34.0,96.39999999999999) rotate(-12)" font-size="5.7" text-anchor="middle" dominant-baseline="central" fill="#333" font-family="Liberation Sans, sans-serif">10<tspan font-size="3.8" dy="-2.2">0</tspan></text>
<line x1="51.849999999999994" y1="90.8" x2="51.849999999999994" y2="92.3" stroke="#3c3c3c" stroke-width="0.6"/>
<text transform="translate(51.55,96.39999999999999) rotate(-12)" font-size="5.7" text-anchor="middle" dominant-baseline="central" fill="#333" font-family="Liberation Sans, sans-serif">10<tspan font-size="3.8" dy="-2.2">1</tspan></text>
<line x1="69.4" y1="90.8" x2="69.4" y2="92.3" stroke="#3c3c3c" stroke-width="0.6"/>
<text transform="translate(69.10000000000001,96.39999999999999) rotate(-12)" font-size="5.7" text-anchor="middle" dominant-baseline="central" fill="#333" font-family="Liberation Sans, sans-serif">10<tspan font-size="3.8" dy="-2.2">2</tspan></text>
<line x1="86.95" y1="90.8" x2="86.95" y2="92.3" stroke="#3c3c3c" stroke-width="0.6"/>
<text transform="translate(86.65,96.39999999999999) rotate(-12)" font-size="5.7" text-anchor="middle" dominant-baseline="central" fill="#333" font-family="Liberation Sans, sans-serif">10<tspan font-size="3.8" dy="-2.2">3</tspan></text>
<line x1="104.5" y1="90.8" x2="104.5" y2="92.3" stroke="#3c3c3c" stroke-width="0.6"/>
<text transform="translate(104.2,96.39999999999999) rotate(-12)" font-size="5.7" text-anchor="middle" dominant-baseline="central" fill="#333" font-family="Liberation Sans, sans-serif">10<tspan font-size="3.8" dy="-2.2">4</tspan></text>
<ellipse cx="171.3" cy="82" rx="5.4" ry="7" fill="#6a6a6a" opacity="0.45" filter="url(#bl1)"/>
<ellipse cx="171.5" cy="82" rx="2.5" ry="5" fill="#6a6a6a" opacity="0.2" filter="url(#bl1)"/>
<ellipse cx="172" cy="66" rx="2.8" ry="6" fill="#6a6a6a" opacity="0.08" filter="url(#bl1)"/>
<g filter="url(#bl7)">
<circle cx="177.8" cy="79.7" r="0.47" fill="#666" opacity="0.11"/>
<circle cx="173.6" cy="76.6" r="0.65" fill="#666" opacity="0.13"/>
<circle cx="168.3" cy="79.0" r="0.62" fill="#666" opacity="0.11"/>
<circle cx="168.8" cy="84.3" r="0.67" fill="#666" opacity="0.20"/>
<circle cx="174.6" cy="80.9" r="0.58" fill="#666" opacity="0.13"/>
<circle cx="171.9" cy="82.7" r="0.59" fill="#666" opacity="0.13"/>
<circle cx="167.0" cy="88.6" r="0.61" fill="#666" opacity="0.15"/>
<circle cx="171.4" cy="83.4" r="0.55" fill="#666" opacity="0.11"/>
<circle cx="161.1" cy="81.5" r="0.65" fill="#666" opacity="0.12"/>
<circle cx="175.2" cy="77.9" r="0.67" fill="#666" opacity="0.19"/>
<circle cx="171.7" cy="75.1" r="0.56" fill="#666" opacity="0.20"/>
<circle cx="172.9" cy="81.9" r="0.68" fill="#666" opacity="0.17"/>
<circle cx="168.0" cy="83.7" r="0.60" fill="#666" opacity="0.19"/>
<circle cx="166.0" cy="82.5" r="0.56" fill="#666" opacity="0.19"/>
<circle cx="173.8" cy="79.7" r="0.62" fill="#666" opacity="0.19"/>
<circle cx="170.8" cy="77.7" r="0.52" fill="#666" opacity="0.13"/>
<circle cx="170.8" cy="80.1" r="0.72" fill="#666" opacity="0.13"/>
<circle cx="173.3" cy="80.6" r="0.74" fill="#666" opacity="0.17"/>
<circle cx="167.9" cy="82.4" r="0.65" fill="#666" opacity="0.16"/>
<circle cx="170.6" cy="85.2" r="0.60" fill="#666" opacity="0.19"/>
<circle cx="170.5" cy="81.3" r="0.70" fill="#666" opacity="0.17"/>
<circle cx="172.8" cy="81.0" r="0.67" fill="#666" opacity="0.10"/>
<circle cx="170.0" cy="79.8" r="0.52" fill="#666" opacity="0.19"/>
<circle cx="174.0" cy="85.7" r="0.71" fill="#666" opacity="0.12"/>
<circle cx="167.4" cy="85.6" r="0.46" fill="#666" opacity="0.13"/>
<circle cx="173.3" cy="88.0" r="0.47" fill="#666" opacity="0.19"/>
<circle cx="175.8" cy="83.6" r="0.46" fill="#666" opacity="0.12"/>
<circle cx="171.9" cy="80.2" r="0.51" fill="#666" opacity="0.17"/>
<circle cx="170.7" cy="83.3" r="0.75" fill="#666" opacity="0.11"/>
<circle cx="173.8" cy="83.4" r="0.63" fill="#666" opacity="0.17"/>
<circle cx="173.2" cy="85.0" r="0.46" fill="#666" opacity="0.14"/>
<circle cx="171.8" cy="75.6" r="0.72" fill="#666" opacity="0.17"/>
<circle cx="174.1" cy="77.5" r="0.59" fill="#666" opacity="0.12"/>
<circle cx="170.0" cy="79.4" r="0.48" fill="#666" opacity="0.14"/>
<circle cx="172.3" cy="80.9" r="0.63" fill="#666" opacity="0.14"/>
<circle cx="169.7" cy="82.3" r="0.74" fill="#666" opacity="0.12"/>
<circle cx="169.0" cy="79.8" r="0.46" fill="#666" opacity="0.15"/>
<circle cx="171.9" cy="83.6" r="0.46" fill="#666" opacity="0.11"/>
<circle cx="174.6" cy="85.9" r="0.60" fill="#666" opacity="0.20"/>
<circle cx="179.6" cy="77.0" r="0.52" fill="#666" opacity="0.14"/>
<circle cx="171.3" cy="88.1" r="0.64" fill="#666" opacity="0.18"/>
<circle cx="170.8" cy="79.4" r="0.58" fill="#666" opacity="0.15"/>
<circle cx="172.1" cy="82.5" r="0.57" fill="#666" opacity="0.11"/>
<circle cx="171.0" cy="79.4" r="0.48" fill="#666" opacity="0.12"/>
<circle cx="171.5" cy="85.4" r="0.61" fill="#666" opacity="0.14"/>
<circle cx="169.8" cy="88.1" r="0.51" fill="#666" opacity="0.19"/>
<circle cx="175.7" cy="80.9" r="0.58" fill="#666" opacity="0.15"/>
<circle cx="170.5" cy="81.8" r="0.58" fill="#666" opacity="0.15"/>
<circle cx="171.8" cy="84.2" r="0.69" fill="#666" opacity="0.14"/>
<circle cx="165.0" cy="81.4" r="0.63" fill="#666" opacity="0.13"/>
<circle cx="174.0" cy="82.1" r="0.46" fill="#666" opacity="0.17"/>
<circle cx="173.2" cy="84.6" r="0.70" fill="#666" opacity="0.17"/>
<circle cx="174.4" cy="83.0" r="0.57" fill="#666" opacity="0.15"/>
<circle cx="172.3" cy="87.9" r="0.47" fill="#666" opacity="0.13"/>
<circle cx="166.7" cy="89.5" r="0.47" fill="#666" opacity="0.17"/>
<circle cx="172.6" cy="87.6" r="0.57" fill="#666" opacity="0.14"/>
<circle cx="171.4" cy="78.3" r="0.49" fill="#666" opacity="0.11"/>
<circle cx="176.1" cy="86.5" r="0.64" fill="#666" opacity="0.19"/>
<circle cx="171.1" cy="81.6" r="0.65" fill="#666" opacity="0.18"/>
<circle cx="170.8" cy="77.6" r="0.56" fill="#666" opacity="0.14"/>
<circle cx="172.0" cy="79.3" r="0.61" fill="#666" opacity="0.15"/>
<circle cx="176.2" cy="80.4" r="0.73" fill="#666" opacity="0.18"/>
<circle cx="170.7" cy="85.4" r="0.60" fill="#666" opacity="0.12"/>
<circle cx="167.5" cy="85.3" r="0.73" fill="#666" opacity="0.16"/>
<circle cx="171.8" cy="80.8" r="0.56" fill="#666" opacity="0.20"/>
<circle cx="173.1" cy="86.0" r="0.47" fill="#666" opacity="0.11"/>
<circle cx="177.9" cy="74.8" r="0.64" fill="#666" opacity="0.11"/>
<circle cx="170.7" cy="85.4" r="0.65" fill="#666" opacity="0.17"/>
<circle cx="168.1" cy="84.4" r="0.48" fill="#666" opacity="0.15"/>
<circle cx="175.8" cy="80.3" r="0.48" fill="#666" opacity="0.15"/>
<circle cx="170.8" cy="79.3" r="0.72" fill="#666" opacity="0.14"/>
<circle cx="170.5" cy="78.4" r="0.75" fill="#666" opacity="0.18"/>
<circle cx="169.9" cy="81.5" r="0.58" fill="#666" opacity="0.10"/>
<circle cx="166.5" cy="77.6" r="0.50" fill="#666" opacity="0.15"/>
<circle cx="168.5" cy="83.0" r="0.66" fill="#666" opacity="0.19"/>
<circle cx="170.4" cy="77.9" r="0.74" fill="#666" opacity="0.13"/>
<circle cx="171.2" cy="76.3" r="0.68" fill="#666" opacity="0.18"/>
<circle cx="171.9" cy="88.3" r="0.57" fill="#666" opacity="0.17"/>
<circle cx="175.2" cy="81.7" r="0.45" fill="#666" opacity="0.14"/>
<circle cx="169.9" cy="74.0" r="0.65" fill="#666" opacity="0.18"/>
<circle cx="178.0" cy="83.6" r="0.67" fill="#666" opacity="0.16"/>
<circle cx="176.1" cy="77.6" r="0.48" fill="#666" opacity="0.18"/>
<circle cx="171.5" cy="79.7" r="0.67" fill="#666" opacity="0.16"/>
<circle cx="173.1" cy="89.6" r="0.49" fill="#666" opacity="0.16"/>
<circle cx="169.3" cy="83.8" r="0.62" fill="#666" opacity="0.15"/>
<circle cx="171.5" cy="82.6" r="0.60" fill="#666" opacity="0.18"/>
<circle cx="168.7" cy="76.6" r="0.60" fill="#666" opacity="0.17"/>
<circle cx="170.2" cy="85.4" r="0.60" fill="#666" opacity="0.10"/>
<circle cx="175.4" cy="85.9" r="0.50" fill="#666" opacity="0.17"/>
<circle cx="171.9" cy="78.3" r="0.65" fill="#666" opacity="0.18"/>
<circle cx="172.3" cy="80.8" r="0.50" fill="#666" opacity="0.14"/>
<circle cx="169.0" cy="83.3" r="0.45" fill="#666" opacity="0.15"/>
<circle cx="173.9" cy="81.7" r="0.61" fill="#666" opacity="0.14"/>
<circle cx="166.0" cy="85.5" r="0.54" fill="#666" opacity="0.16"/>
<circle cx="167.8" cy="83.0" r="0.72" fill="#666" opacity="0.11"/>
<circle cx="172.4" cy="79.3" r="0.64" fill="#666" opacity="0.18"/>
<circle cx="169.7" cy="79.1" r="0.70" fill="#666" opacity="0.11"/>
<circle cx="169.4" cy="79.4" r="0.61" fill="#666" opacity="0.18"/>
<circle cx="172.5" cy="76.9" r="0.54" fill="#666" opacity="0.12"/>
<circle cx="169.3" cy="83.3" r="0.53" fill="#666" opacity="0.19"/>
<circle cx="175.2" cy="87.5" r="0.56" fill="#666" opacity="0.14"/>
<circle cx="170.8" cy="84.0" r="0.59" fill="#666" opacity="0.12"/>
<circle cx="169.1" cy="83.7" r="0.72" fill="#666" opacity="0.19"/>
<circle cx="167.6" cy="84.6" r="0.73" fill="#666" opacity="0.13"/>
<circle cx="173.0" cy="84.3" r="0.51" fill="#666" opacity="0.17"/>
<circle cx="169.5" cy="85.3" r="0.69" fill="#666" opacity="0.12"/>
<circle cx="172.7" cy="77.0" r="0.57" fill="#666" opacity="0.18"/>
<circle cx="168.2" cy="89.7" r="0.73" fill="#666" opacity="0.15"/>
<circle cx="171.1" cy="75.5" r="0.71" fill="#666" opacity="0.19"/>
<circle cx="170.3" cy="88.2" r="0.65" fill="#666" opacity="0.14"/>
<circle cx="169.9" cy="84.1" r="0.74" fill="#666" opacity="0.13"/>
<circle cx="165.4" cy="83.8" r="0.51" fill="#666" opacity="0.19"/>
<circle cx="171.8" cy="83.2" r="0.56" fill="#666" opacity="0.13"/>
<circle cx="176.3" cy="78.2" r="0.68" fill="#666" opacity="0.14"/>
<circle cx="169.3" cy="81.7" r="0.70" fill="#666" opacity="0.14"/>
<circle cx="170.4" cy="88.3" r="0.50" fill="#666" opacity="0.13"/>
<circle cx="172.4" cy="81.7" r="0.49" fill="#666" opacity="0.12"/>
<circle cx="171.3" cy="86.9" r="0.53" fill="#666" opacity="0.13"/>
<circle cx="171.3" cy="85.6" r="0.63" fill="#666" opacity="0.13"/>
<circle cx="168.0" cy="87.6" r="0.47" fill="#666" opacity="0.11"/>
<circle cx="173.1" cy="78.9" r="0.68" fill="#666" opacity="0.11"/>
<circle cx="165.9" cy="81.3" r="0.55" fill="#666" opacity="0.18"/>
<circle cx="169.1" cy="79.8" r="0.75" fill="#666" opacity="0.14"/>
<circle cx="167.5" cy="83.5" r="0.55" fill="#666" opacity="0.18"/>
<circle cx="168.2" cy="79.3" r="0.61" fill="#666" opacity="0.20"/>
<circle cx="176.7" cy="81.9" r="0.59" fill="#666" opacity="0.14"/>
<circle cx="170.4" cy="82.3" r="0.48" fill="#666" opacity="0.20"/>
<circle cx="175.9" cy="89.6" r="0.65" fill="#666" opacity="0.19"/>
<circle cx="173.4" cy="84.2" r="0.69" fill="#666" opacity="0.10"/>
<circle cx="173.3" cy="84.9" r="0.50" fill="#666" opacity="0.11"/>
<circle cx="170.7" cy="80.9" r="0.74" fill="#666" opacity="0.16"/>
<circle cx="177.0" cy="85.3" r="0.52" fill="#666" opacity="0.15"/>
<circle cx="169.9" cy="81.7" r="0.60" fill="#666" opacity="0.10"/>
<circle cx="172.8" cy="77.9" r="0.65" fill="#666" opacity="0.19"/>
<circle cx="173.4" cy="86.3" r="0.49" fill="#666" opacity="0.11"/>
<circle cx="172.8" cy="84.3" r="0.47" fill="#666" opacity="0.12"/>
<circle cx="168.5" cy="86.5" r="0.71" fill="#666" opacity="0.19"/>
<circle cx="170.6" cy="77.6" r="0.73" fill="#666" opacity="0.12"/>
<circle cx="175.4" cy="87.3" r="0.64" fill="#666" opacity="0.12"/>
<circle cx="169.6" cy="85.0" r="0.58" fill="#666" opacity="0.14"/>
<circle cx="167.3" cy="87.0" r="0.69" fill="#666" opacity="0.15"/>
<circle cx="169.0" cy="83.1" r="0.68" fill="#666" opacity="0.20"/>
<circle cx="171.9" cy="89.0" r="0.66" fill="#666" opacity="0.16"/>
<circle cx="174.8" cy="83.5" r="0.51" fill="#666" opacity="0.12"/>
<circle cx="167.8" cy="79.6" r="0.64" fill="#666" opacity="0.17"/>
<circle cx="170.4" cy="77.9" r="0.46" fill="#666" opacity="0.18"/>
<circle cx="173.7" cy="75.3" r="0.63" fill="#666" opacity="0.10"/>
<circle cx="171.7" cy="84.4" r="0.64" fill="#666" opacity="0.15"/>
<circle cx="177.2" cy="81.3" r="0.59" fill="#666" opacity="0.13"/>
<circle cx="172.6" cy="90.1" r="0.66" fill="#666" opacity="0.13"/>
<circle cx="174.3" cy="79.4" r="0.57" fill="#666" opacity="0.14"/>
<circle cx="170.7" cy="77.9" r="0.65" fill="#666" opacity="0.11"/>
<circle cx="170.6" cy="79.3" r="0.72" fill="#666" opacity="0.12"/>
<circle cx="169.6" cy="87.0" r="0.57" fill="#666" opacity="0.15"/>
<circle cx="173.0" cy="81.2" r="0.68" fill="#666" opacity="0.17"/>
<circle cx="172.0" cy="78.0" r="0.59" fill="#666" opacity="0.13"/>
<circle cx="169.2" cy="83.0" r="0.51" fill="#666" opacity="0.15"/>
<circle cx="172.4" cy="86.9" r="0.62" fill="#666" opacity="0.13"/>
<circle cx="173.1" cy="87.5" r="0.71" fill="#666" opacity="0.12"/>
<circle cx="168.2" cy="78.4" r="0.72" fill="#666" opacity="0.17"/>
<circle cx="170.6" cy="85.2" r="0.70" fill="#666" opacity="0.13"/>
<circle cx="176.9" cy="83.2" r="0.51" fill="#666" opacity="0.13"/>
<circle cx="170.4" cy="85.4" r="0.67" fill="#666" opacity="0.13"/>
<circle cx="168.6" cy="84.1" r="0.70" fill="#666" opacity="0.10"/>
<circle cx="170.0" cy="81.4" r="0.50" fill="#666" opacity="0.16"/>
<circle cx="170.6" cy="83.6" r="0.63" fill="#666" opacity="0.19"/>
<circle cx="169.3" cy="78.6" r="0.69" fill="#666" opacity="0.19"/>
<circle cx="172.7" cy="85.4" r="0.74" fill="#666" opacity="0.19"/>
<circle cx="172.6" cy="88.8" r="0.71" fill="#666" opacity="0.16"/>
<circle cx="170.3" cy="77.6" r="0.52" fill="#666" opacity="0.12"/>
<circle cx="175.1" cy="84.9" r="0.49" fill="#666" opacity="0.16"/>
<circle cx="169.0" cy="85.3" r="0.74" fill="#666" opacity="0.14"/>
<circle cx="168.6" cy="83.1" r="0.51" fill="#666" opacity="0.12"/>
<circle cx="166.2" cy="80.9" r="0.48" fill="#666" opacity="0.19"/>
<circle cx="170.9" cy="81.3" r="0.66" fill="#666" opacity="0.14"/>
<circle cx="170.0" cy="82.3" r="0.60" fill="#666" opacity="0.15"/>
<circle cx="172.0" cy="77.1" r="0.66" fill="#666" opacity="0.17"/>
<circle cx="171.4" cy="83.4" r="0.59" fill="#666" opacity="0.11"/>
<circle cx="172.9" cy="85.4" r="0.61" fill="#666" opacity="0.16"/>
<circle cx="167.2" cy="74.5" r="0.48" fill="#666" opacity="0.15"/>
<circle cx="174.9" cy="85.7" r="0.58" fill="#666" opacity="0.11"/>
<circle cx="169.8" cy="88.2" r="0.59" fill="#666" opacity="0.19"/>
<circle cx="169.7" cy="85.5" r="0.73" fill="#666" opacity="0.16"/>
<circle cx="175.1" cy="87.1" r="0.56" fill="#666" opacity="0.19"/>
<circle cx="168.0" cy="76.8" r="0.72" fill="#666" opacity="0.15"/>
<circle cx="171.9" cy="82.3" r="0.55" fill="#666" opacity="0.18"/>
<circle cx="175.5" cy="82.8" r="0.75" fill="#666" opacity="0.17"/>
<circle cx="172.0" cy="81.2" r="0.61" fill="#666" opacity="0.16"/>
<circle cx="168.6" cy="84.2" r="0.69" fill="#666" opacity="0.12"/>
<circle cx="174.9" cy="84.1" r="0.74" fill="#666" opacity="0.18"/>
<circle cx="170.2" cy="79.4" r="0.72" fill="#666" opacity="0.10"/>
<circle cx="171.4" cy="89.9" r="0.72" fill="#666" opacity="0.14"/>
<circle cx="172.4" cy="81.4" r="0.63" fill="#666" opacity="0.11"/>
<circle cx="171.5" cy="85.2" r="0.45" fill="#666" opacity="0.14"/>
<circle cx="169.0" cy="82.5" r="0.65" fill="#666" opacity="0.10"/>
<circle cx="167.9" cy="81.9" r="0.57" fill="#666" opacity="0.19"/>
<circle cx="173.4" cy="85.7" r="0.59" fill="#666" opacity="0.14"/>
<circle cx="174.9" cy="81.6" r="0.60" fill="#666" opacity="0.14"/>
<circle cx="164.9" cy="86.4" r="0.69" fill="#666" opacity="0.16"/>
<circle cx="173.3" cy="87.3" r="0.49" fill="#666" opacity="0.13"/>
<circle cx="175.6" cy="83.4" r="0.74" fill="#666" opacity="0.16"/>
<circle cx="169.4" cy="81.1" r="0.58" fill="#666" opacity="0.14"/>
<circle cx="169.3" cy="84.0" r="0.52" fill="#666" opacity="0.17"/>
<circle cx="176.3" cy="80.2" r="0.64" fill="#666" opacity="0.10"/>
<circle cx="174.8" cy="81.6" r="0.62" fill="#666" opacity="0.17"/>
<circle cx="171.4" cy="89.1" r="0.56" fill="#666" opacity="0.18"/>
<circle cx="167.3" cy="84.0" r="0.62" fill="#666" opacity="0.15"/>
<circle cx="164.6" cy="85.0" r="0.68" fill="#666" opacity="0.14"/>
<circle cx="165.3" cy="82.2" r="0.67" fill="#666" opacity="0.16"/>
<circle cx="172.7" cy="82.0" r="0.63" fill="#666" opacity="0.16"/>
<circle cx="164.4" cy="85.5" r="0.74" fill="#666" opacity="0.14"/>
<circle cx="167.7" cy="77.7" r="0.66" fill="#666" opacity="0.13"/>
<circle cx="172.1" cy="78.8" r="0.49" fill="#666" opacity="0.16"/>
<circle cx="169.6" cy="79.0" r="0.60" fill="#666" opacity="0.20"/>
<circle cx="172.3" cy="78.5" r="0.72" fill="#666" opacity="0.16"/>
<circle cx="168.0" cy="85.9" r="0.69" fill="#666" opacity="0.19"/>
<circle cx="169.3" cy="77.0" r="0.57" fill="#666" opacity="0.10"/>
<circle cx="170.0" cy="83.1" r="0.73" fill="#666" opacity="0.13"/>
<circle cx="167.7" cy="78.3" r="0.50" fill="#666" opacity="0.18"/>
<circle cx="170.8" cy="84.0" r="0.63" fill="#666" opacity="0.14"/>
<circle cx="174.0" cy="80.3" r="0.48" fill="#666" opacity="0.10"/>
<circle cx="174.5" cy="83.4" r="0.66" fill="#666" opacity="0.10"/>
<circle cx="169.8" cy="86.7" r="0.72" fill="#666" opacity="0.20"/>
<circle cx="174.1" cy="78.3" r="0.62" fill="#666" opacity="0.12"/>
<circle cx="170.0" cy="80.9" r="0.54" fill="#666" opacity="0.18"/>
<circle cx="167.2" cy="79.7" r="0.59" fill="#666" opacity="0.13"/>
<circle cx="167.6" cy="82.4" r="0.52" fill="#666" opacity="0.18"/>
<circle cx="173.1" cy="82.2" r="0.52" fill="#666" opacity="0.18"/>
<circle cx="170.9" cy="79.5" r="0.63" fill="#666" opacity="0.12"/>
<circle cx="173.7" cy="78.3" r="0.60" fill="#666" opacity="0.12"/>
<circle cx="168.7" cy="85.2" r="0.56" fill="#666" opacity="0.12"/>
<circle cx="172.7" cy="88.7" r="0.73" fill="#666" opacity="0.18"/>
<circle cx="167.6" cy="77.6" r="0.49" fill="#666" opacity="0.12"/>
<circle cx="171.3" cy="82.3" r="0.48" fill="#666" opacity="0.18"/>
<circle cx="171.9" cy="85.0" r="0.57" fill="#666" opacity="0.18"/>
<circle cx="177.0" cy="83.1" r="0.54" fill="#666" opacity="0.16"/>
<circle cx="169.9" cy="82.9" r="0.74" fill="#666" opacity="0.12"/>
<circle cx="173.2" cy="74.4" r="0.59" fill="#666" opacity="0.19"/>
<circle cx="172.8" cy="83.4" r="0.60" fill="#666" opacity="0.11"/>
<circle cx="172.5" cy="77.7" r="0.69" fill="#666" opacity="0.13"/>
<circle cx="177.1" cy="84.0" r="0.51" fill="#666" opacity="0.14"/>
<circle cx="173.9" cy="86.5" r="0.59" fill="#666" opacity="0.12"/>
<circle cx="173.8" cy="83.4" r="0.69" fill="#666" opacity="0.11"/>
<circle cx="171.8" cy="88.3" r="0.64" fill="#666" opacity="0.18"/>
<circle cx="168.0" cy="76.0" r="0.50" fill="#666" opacity="0.19"/>
<circle cx="172.7" cy="82.9" r="0.48" fill="#666" opacity="0.18"/>
<circle cx="165.0" cy="82.2" r="0.74" fill="#666" opacity="0.19"/>
<circle cx="169.3" cy="79.9" r="0.74" fill="#666" opacity="0.17"/>
<circle cx="172.5" cy="87.5" r="0.46" fill="#666" opacity="0.10"/>
<circle cx="168.4" cy="77.4" r="0.71" fill="#666" opacity="0.17"/>
<circle cx="174.3" cy="87.7" r="0.74" fill="#666" opacity="0.17"/>
<circle cx="169.0" cy="82.9" r="0.47" fill="#666" opacity="0.16"/>
<circle cx="172.6" cy="82.0" r="0.70" fill="#666" opacity="0.19"/>
<circle cx="168.1" cy="89.0" r="0.50" fill="#666" opacity="0.13"/>
<circle cx="166.0" cy="79.0" r="0.61" fill="#666" opacity="0.11"/>
<circle cx="174.6" cy="80.2" r="0.68" fill="#666" opacity="0.12"/>
<circle cx="170.7" cy="84.1" r="0.51" fill="#666" opacity="0.14"/>
<circle cx="167.8" cy="85.8" r="0.70" fill="#666" opacity="0.13"/>
<circle cx="174.9" cy="79.7" r="0.55" fill="#666" opacity="0.12"/>
<circle cx="175.2" cy="80.8" r="0.46" fill="#666" opacity="0.17"/>
<circle cx="169.2" cy="85.5" r="0.68" fill="#666" opacity="0.12"/>
<circle cx="170.9" cy="87.7" r="0.72" fill="#666" opacity="0.11"/>
<circle cx="173.6" cy="76.7" r="0.50" fill="#666" opacity="0.16"/>
<circle cx="168.1" cy="77.9" r="0.61" fill="#666" opacity="0.13"/>
<circle cx="169.2" cy="82.4" r="0.59" fill="#666" opacity="0.14"/>
<circle cx="172.9" cy="84.4" r="0.55" fill="#666" opacity="0.14"/>
<circle cx="167.0" cy="79.8" r="0.53" fill="#666" opacity="0.15"/>
<circle cx="170.2" cy="85.1" r="0.49" fill="#666" opacity="0.19"/>
<circle cx="176.1" cy="79.2" r="0.50" fill="#666" opacity="0.11"/>
<circle cx="173.2" cy="84.7" r="0.58" fill="#666" opacity="0.10"/>
<circle cx="167.5" cy="85.5" r="0.70" fill="#666" opacity="0.12"/>
<circle cx="176.3" cy="82.6" r="0.56" fill="#666" opacity="0.13"/>
<circle cx="172.5" cy="85.2" r="0.53" fill="#666" opacity="0.12"/>
<circle cx="171.7" cy="87.5" r="0.69" fill="#666" opacity="0.13"/>
<circle cx="168.5" cy="84.9" r="0.70" fill="#666" opacity="0.17"/>
<circle cx="173.0" cy="82.3" r="0.69" fill="#666" opacity="0.13"/>
<circle cx="168.3" cy="80.1" r="0.62" fill="#666" opacity="0.13"/>
<circle cx="171.6" cy="82.7" r="0.73" fill="#666" opacity="0.19"/>
<circle cx="170.1" cy="83.0" r="0.70" fill="#666" opacity="0.15"/>
<circle cx="167.4" cy="83.6" r="0.50" fill="#666" opacity="0.12"/>
<circle cx="173.6" cy="58.5" r="0.75" fill="#666" opacity="0.05"/>
<circle cx="177.2" cy="64.1" r="0.60" fill="#666" opacity="0.07"/>
<circle cx="172.5" cy="67.6" r="0.69" fill="#666" opacity="0.04"/>
<circle cx="167.9" cy="65.2" r="0.65" fill="#666" opacity="0.04"/>
<circle cx="172.2" cy="64.6" r="0.62" fill="#666" opacity="0.07"/>
<circle cx="170.0" cy="64.8" r="0.75" fill="#666" opacity="0.06"/>
<circle cx="175.0" cy="63.4" r="0.70" fill="#666" opacity="0.05"/>
<circle cx="171.9" cy="70.0" r="0.53" fill="#666" opacity="0.04"/>
<circle cx="170.2" cy="62.5" r="0.72" fill="#666" opacity="0.04"/>
<circle cx="172.3" cy="62.8" r="0.55" fill="#666" opacity="0.05"/>
<circle cx="175.5" cy="64.1" r="0.59" fill="#666" opacity="0.04"/>
<circle cx="174.3" cy="67.4" r="0.74" fill="#666" opacity="0.05"/>
<circle cx="174.1" cy="67.3" r="0.58" fill="#666" opacity="0.04"/>
<circle cx="169.2" cy="71.1" r="0.49" fill="#666" opacity="0.06"/>
<circle cx="167.9" cy="70.6" r="0.74" fill="#666" opacity="0.06"/>
<circle cx="174.4" cy="66.6" r="0.74" fill="#666" opacity="0.06"/>
<circle cx="172.2" cy="60.3" r="0.73" fill="#666" opacity="0.07"/>
<circle cx="169.5" cy="61.7" r="0.48" fill="#666" opacity="0.04"/>
<circle cx="174.5" cy="59.0" r="0.72" fill="#666" opacity="0.04"/>
<circle cx="173.9" cy="66.7" r="0.46" fill="#666" opacity="0.06"/>
<circle cx="176.8" cy="61.4" r="0.48" fill="#666" opacity="0.06"/>
<circle cx="170.3" cy="59.6" r="0.57" fill="#666" opacity="0.04"/>
<circle cx="176.1" cy="58.9" r="0.66" fill="#666" opacity="0.06"/>
<circle cx="174.0" cy="66.8" r="0.52" fill="#666" opacity="0.04"/>
<circle cx="171.3" cy="63.2" r="0.72" fill="#666" opacity="0.04"/>
<circle cx="175.2" cy="64.2" r="0.64" fill="#666" opacity="0.05"/>
<circle cx="172.4" cy="68.6" r="0.69" fill="#666" opacity="0.04"/>
<circle cx="174.3" cy="69.6" r="0.51" fill="#666" opacity="0.04"/>
<circle cx="171.8" cy="68.1" r="0.70" fill="#666" opacity="0.06"/>
<circle cx="170.8" cy="62.6" r="0.68" fill="#666" opacity="0.07"/>
</g>
<rect x="132.3" y="19.9" width="70.20" height="70.70" fill="none" stroke="#3c3c3c" stroke-width="1.0"/>
<line x1="162.4" y1="19.9" x2="162.4" y2="90.6" stroke="#707070" stroke-width="0.9"/>
<line x1="132.3" y1="72.9" x2="202.5" y2="72.9" stroke="#3c3c3c" stroke-width="1.0"/>
<text x="166.6" y="13.9" font-size="8.9" text-anchor="middle" font-weight="normal" fill="#222" stroke="#222" stroke-width="0.22" >CSF</text>
<text x="200" y="28.0" font-size="6.5" text-anchor="end" font-weight="normal" fill="#222" stroke="#222" stroke-width="0.22" >4.1</text>
<line x1="130.8" y1="90.6" x2="132.3" y2="90.6" stroke="#3c3c3c" stroke-width="0.6"/>
<text transform="translate(126.70000000000002,88.8) rotate(-12)" font-size="5.7" text-anchor="middle" dominant-baseline="central" fill="#333" font-family="Liberation Sans, sans-serif">10<tspan font-size="3.8" dy="-2.2">0</tspan></text>
<line x1="130.8" y1="72.925" x2="132.3" y2="72.925" stroke="#3c3c3c" stroke-width="0.6"/>
<text transform="translate(126.70000000000002,71.125) rotate(-12)" font-size="5.7" text-anchor="middle" dominant-baseline="central" fill="#333" font-family="Liberation Sans, sans-serif">10<tspan font-size="3.8" dy="-2.2">1</tspan></text>
<line x1="130.8" y1="55.25" x2="132.3" y2="55.25" stroke="#3c3c3c" stroke-width="0.6"/>
<text transform="translate(126.70000000000002,53.45) rotate(-12)" font-size="5.7" text-anchor="middle" dominant-baseline="central" fill="#333" font-family="Liberation Sans, sans-serif">10<tspan font-size="3.8" dy="-2.2">2</tspan></text>
<line x1="130.8" y1="37.575" x2="132.3" y2="37.575" stroke="#3c3c3c" stroke-width="0.6"/>
<text transform="translate(126.70000000000002,35.775000000000006) rotate(-12)" font-size="5.7" text-anchor="middle" dominant-baseline="central" fill="#333" font-family="Liberation Sans, sans-serif">10<tspan font-size="3.8" dy="-2.2">3</tspan></text>
<line x1="130.8" y1="19.900000000000006" x2="132.3" y2="19.900000000000006" stroke="#3c3c3c" stroke-width="0.6"/>
<text transform="translate(126.70000000000002,18.100000000000005) rotate(-12)" font-size="5.7" text-anchor="middle" dominant-baseline="central" fill="#333" font-family="Liberation Sans, sans-serif">10<tspan font-size="3.8" dy="-2.2">4</tspan></text>
<line x1="132.3" y1="90.6" x2="132.3" y2="92.1" stroke="#3c3c3c" stroke-width="0.6"/>
<text transform="translate(132.0,96.19999999999999) rotate(-12)" font-size="5.7" text-anchor="middle" dominant-baseline="central" fill="#333" font-family="Liberation Sans, sans-serif">10<tspan font-size="3.8" dy="-2.2">0</tspan></text>
<line x1="149.85000000000002" y1="90.6" x2="149.85000000000002" y2="92.1" stroke="#3c3c3c" stroke-width="0.6"/>
<text transform="translate(149.55,96.19999999999999) rotate(-12)" font-size="5.7" text-anchor="middle" dominant-baseline="central" fill="#333" font-family="Liberation Sans, sans-serif">10<tspan font-size="3.8" dy="-2.2">1</tspan></text>
<line x1="167.4" y1="90.6" x2="167.4" y2="92.1" stroke="#3c3c3c" stroke-width="0.6"/>
<text transform="translate(167.1,96.19999999999999) rotate(-12)" font-size="5.7" text-anchor="middle" dominant-baseline="central" fill="#333" font-family="Liberation Sans, sans-serif">10<tspan font-size="3.8" dy="-2.2">2</tspan></text>
<line x1="184.95" y1="90.6" x2="184.95" y2="92.1" stroke="#3c3c3c" stroke-width="0.6"/>
<text transform="translate(184.64999999999998,96.19999999999999) rotate(-12)" font-size="5.7" text-anchor="middle" dominant-baseline="central" fill="#333" font-family="Liberation Sans, sans-serif">10<tspan font-size="3.8" dy="-2.2">3</tspan></text>
<line x1="202.5" y1="90.6" x2="202.5" y2="92.1" stroke="#3c3c3c" stroke-width="0.6"/>
<text transform="translate(202.2,96.19999999999999) rotate(-12)" font-size="5.7" text-anchor="middle" dominant-baseline="central" fill="#333" font-family="Liberation Sans, sans-serif">10<tspan font-size="3.8" dy="-2.2">4</tspan></text>
<text transform="translate(19.3,56) rotate(-90)" font-size="9" text-anchor="middle" fill="#222" stroke="#222" stroke-width="0.22" font-family="Liberation Sans, sans-serif">HLA- G</text>
<text x="118" y="111.9" font-size="8.6" text-anchor="middle" font-weight="normal" fill="#222" stroke="#222" stroke-width="0.22" >CD4</text>
<line x1="38" y1="107.5" x2="103.8" y2="107.5" stroke="#555" stroke-width="1"/>
<line x1="132.7" y1="107.5" x2="198" y2="107.5" stroke="#555" stroke-width="1"/>
<polygon points="35.6,107.5 41.5,105.2 41.5,109.8" fill="#111"/>
<polygon points="200.4,107.4 194.6,105.1 194.6,109.7" fill="#111"/>
<text x="0.8" y="139.6" font-size="13.8" text-anchor="start" font-weight="bold" fill="#111"  >B</text>
<rect x="31.0" y="147.6" width="265.30" height="124.00" fill="none" stroke="#5a5a5a" stroke-width="1.1"/>
<line x1="119.5" y1="147.6" x2="119.5" y2="271.6" stroke="#5a5a5a" stroke-width="1.1"/>
<line x1="207.7" y1="147.6" x2="207.7" y2="271.6" stroke="#5a5a5a" stroke-width="1.1"/>
<line x1="29.0" y1="271.6" x2="31.0" y2="271.6" stroke="#3c3c3c" stroke-width="1.0"/>
<text x="27.8" y="274.6" font-size="8.4" text-anchor="end" font-weight="normal" fill="#222" stroke="#222" stroke-width="0.22" >0</text>
<line x1="29.0" y1="246.8" x2="31.0" y2="246.8" stroke="#3c3c3c" stroke-width="1.0"/>
<text x="27.8" y="249.8" font-size="8.4" text-anchor="end" font-weight="normal" fill="#222" stroke="#222" stroke-width="0.22" >2</text>
<line x1="29.0" y1="222.0" x2="31.0" y2="222.0" stroke="#3c3c3c" stroke-width="1.0"/>
<text x="27.8" y="225.0" font-size="8.4" text-anchor="end" font-weight="normal" fill="#222" stroke="#222" stroke-width="0.22" >4</text>
<line x1="29.0" y1="197.2" x2="31.0" y2="197.2" stroke="#3c3c3c" stroke-width="1.0"/>
<text x="27.8" y="200.2" font-size="8.4" text-anchor="end" font-weight="normal" fill="#222" stroke="#222" stroke-width="0.22" >6</text>
<line x1="29.0" y1="172.4" x2="31.0" y2="172.4" stroke="#3c3c3c" stroke-width="1.0"/>
<text x="27.8" y="175.4" font-size="8.4" text-anchor="end" font-weight="normal" fill="#222" stroke="#222" stroke-width="0.22" >8</text>
<line x1="29.0" y1="147.6" x2="31.0" y2="147.6" stroke="#3c3c3c" stroke-width="1.0"/>
<text x="27.8" y="150.6" font-size="8.4" text-anchor="end" font-weight="normal" fill="#222" stroke="#222" stroke-width="0.22" >10</text>
<text x="68.6" y="142.8" font-size="8.9" text-anchor="middle" font-weight="normal" fill="#222" stroke="#222" stroke-width="0.22" >NIND</text>
<text x="160.0" y="142.8" font-size="8.9" text-anchor="middle" font-weight="normal" fill="#222" stroke="#222" stroke-width="0.22" >OIND</text>
<text x="249.6" y="142.8" font-size="8.9" text-anchor="middle" font-weight="normal" fill="#222" stroke="#222" stroke-width="0.22" >MS</text>
<polyline points="49,159.70000000000002 49,156.3 92.5,156.3 92.5,159.70000000000002" fill="none" stroke="#3c3c3c" stroke-width="0.9"/>
<text x="70" y="154.8" font-size="7" text-anchor="middle" font-weight="normal" fill="#222" stroke="#222" stroke-width="0.22" >n.s</text>
<polyline points="141.3,159.70000000000002 141.3,156.3 185.3,156.3 185.3,159.70000000000002" fill="none" stroke="#3c3c3c" stroke-width="0.9"/>
<text x="146.2" y="154.8" font-size="7.2" fill="#222" stroke="#222" stroke-width="0.22" font-family="Liberation Sans, sans-serif"><tspan font-style="italic">P</tspan> &lt; .001</text>
<polyline points="230.4,159.6 230.4,156.2 274.1,156.2 274.1,159.6" fill="none" stroke="#3c3c3c" stroke-width="0.9"/>
<text x="248.1" y="154.4" font-size="7" text-anchor="middle" font-weight="normal" fill="#222" stroke="#222" stroke-width="0.22" >n.s</text>
<line x1="53.5" y1="211.9" x2="53.5" y2="221.3" stroke="#3c3c3c" stroke-width="0.9"/>
<line x1="51.9" y1="211.9" x2="55.1" y2="211.9" stroke="#3c3c3c" stroke-width="0.9"/>
<rect x="44.3" y="221.3" width="18.40" height="50.30" fill="#fff" stroke="#3c3c3c" stroke-width="1.0"/>
<line x1="96.9" y1="218.2" x2="96.9" y2="224.1" stroke="#3c3c3c" stroke-width="0.9"/>
<line x1="95.30000000000001" y1="218.2" x2="98.5" y2="218.2" stroke="#3c3c3c" stroke-width="0.9"/>
<rect x="88" y="224.1" width="17.80" height="47.50" fill="#444" stroke="#333" stroke-width="1.0"/>
<line x1="142.4" y1="203.5" x2="142.4" y2="216.3" stroke="#3c3c3c" stroke-width="0.9"/>
<line x1="140.8" y1="203.5" x2="144.0" y2="203.5" stroke="#3c3c3c" stroke-width="0.9"/>
<rect x="133.3" y="216.3" width="18.20" height="55.30" fill="#fff" stroke="#3c3c3c" stroke-width="1.0"/>
<line x1="186.65" y1="169.7" x2="186.65" y2="185.5" stroke="#3c3c3c" stroke-width="0.9"/>
<line x1="185.05" y1="169.7" x2="188.25" y2="169.7" stroke="#3c3c3c" stroke-width="0.9"/>
<rect x="177.5" y="185.5" width="18.30" height="86.10" fill="#444" stroke="#333" stroke-width="1.0"/>
<line x1="230.45" y1="222" x2="230.45" y2="228.3" stroke="#3c3c3c" stroke-width="0.9"/>
<line x1="228.85" y1="222" x2="232.04999999999998" y2="222" stroke="#3c3c3c" stroke-width="0.9"/>
<rect x="221.7" y="228.3" width="17.50" height="43.30" fill="#fff" stroke="#3c3c3c" stroke-width="1.0"/>
<line x1="274.29999999999995" y1="202.7" x2="274.29999999999995" y2="211.1" stroke="#3c3c3c" stroke-width="0.9"/>
<line x1="272.69999999999993" y1="202.7" x2="275.9" y2="202.7" stroke="#3c3c3c" stroke-width="0.9"/>
<rect x="265.4" y="211.1" width="17.80" height="60.50" fill="#444" stroke="#333" stroke-width="1.0"/>
<text transform="translate(12.4,211.8) rotate(-90)" font-size="8.6" word-spacing="0.9" text-anchor="middle" fill="#222" stroke="#222" stroke-width="0.2" font-family="Liberation Sans, sans-serif">% of CD4 HLA- G<tspan font-size="7.3" dy="-3.2">pos</tspan></text>
<rect x="31.0" y="280.6" width="265.30" height="122.90" fill="none" stroke="#5a5a5a" stroke-width="1.1"/>
<line x1="119.5" y1="280.6" x2="119.5" y2="403.5" stroke="#5a5a5a" stroke-width="1.1"/>
<line x1="207.7" y1="280.6" x2="207.7" y2="403.5" stroke="#5a5a5a" stroke-width="1.1"/>
<line x1="29.0" y1="403.5" x2="31.0" y2="403.5" stroke="#3c3c3c" stroke-width="1.0"/>
<text x="27.8" y="406.5" font-size="8.4" text-anchor="end" font-weight="normal" fill="#222" stroke="#222" stroke-width="0.22" >0</text>
<line x1="29.0" y1="362.53333333333336" x2="31.0" y2="362.53333333333336" stroke="#3c3c3c" stroke-width="1.0"/>
<text x="27.8" y="365.53333333333336" font-size="8.4" text-anchor="end" font-weight="normal" fill="#222" stroke="#222" stroke-width="0.22" >5</text>
<line x1="29.0" y1="321.56666666666666" x2="31.0" y2="321.56666666666666" stroke="#3c3c3c" stroke-width="1.0"/>
<text x="27.8" y="324.56666666666666" font-size="8.4" text-anchor="end" font-weight="normal" fill="#222" stroke="#222" stroke-width="0.22" >10</text>
<line x1="29.0" y1="280.6" x2="31.0" y2="280.6" stroke="#3c3c3c" stroke-width="1.0"/>
<text x="27.8" y="283.6" font-size="8.4" text-anchor="end" font-weight="normal" fill="#222" stroke="#222" stroke-width="0.22" >15</text>
<text transform="translate(12.4,347.6) rotate(-90)" font-size="8.6" word-spacing="0.9" text-anchor="middle" fill="#222" stroke="#222" stroke-width="0.2" font-family="Liberation Sans, sans-serif">% of CD4 HLA- G<tspan font-size="7.3" dy="-3.2">pos</tspan></text>
<line x1="39.2" y1="332.9" x2="111.6" y2="350.9" stroke="#2a2a2a" stroke-width="0.8"/>
<line x1="39.2" y1="362.2" x2="111.6" y2="359.4" stroke="#2a2a2a" stroke-width="0.8"/>
<line x1="39.2" y1="362.2" x2="111.6" y2="377.8" stroke="#2a2a2a" stroke-width="0.8"/>
<line x1="39.2" y1="362.8" x2="111.6" y2="378.3" stroke="#2a2a2a" stroke-width="0.8"/>
<line x1="39.2" y1="368.4" x2="111.6" y2="373" stroke="#2a2a2a" stroke-width="0.8"/>
<line x1="39.2" y1="379.2" x2="111.6" y2="367" stroke="#2a2a2a" stroke-width="0.8"/>
<line x1="39.2" y1="390.3" x2="111.6" y2="381.8" stroke="#2a2a2a" stroke-width="0.8"/>
<line x1="39.2" y1="390.8" x2="111.6" y2="383.5" stroke="#2a2a2a" stroke-width="0.8"/>
<line x1="39.2" y1="391.3" x2="111.6" y2="385.3" stroke="#2a2a2a" stroke-width="0.8"/>
<polygon points="39.2,331.4 37.9,333.8 40.6,333.8" fill="#111"/>
<polygon points="111.6,349.4 110.2,351.8 112.9,351.8" fill="#111"/>
<polygon points="39.2,360.7 37.9,363.1 40.6,363.1" fill="#111"/>
<polygon points="111.6,357.9 110.2,360.3 112.9,360.3" fill="#111"/>
<polygon points="39.2,360.7 37.9,363.1 40.6,363.1" fill="#111"/>
<polygon points="111.6,376.3 110.2,378.8 112.9,378.8" fill="#111"/>
<polygon points="39.2,361.3 37.9,363.8 40.6,363.8" fill="#111"/>
<polygon points="111.6,376.8 110.2,379.2 112.9,379.2" fill="#111"/>
<polygon points="39.2,366.9 37.9,369.3 40.6,369.3" fill="#111"/>
<polygon points="111.6,371.5 110.2,373.9 112.9,373.9" fill="#111"/>
<polygon points="39.2,377.7 37.9,380.1 40.6,380.1" fill="#111"/>
<polygon points="111.6,365.5 110.2,367.9 112.9,367.9" fill="#111"/>
<polygon points="39.2,388.8 37.9,391.2 40.6,391.2" fill="#111"/>
<polygon points="111.6,380.3 110.2,382.8 112.9,382.8" fill="#111"/>
<polygon points="39.2,389.3 37.9,391.8 40.6,391.8" fill="#111"/>
<polygon points="111.6,382.0 110.2,384.4 112.9,384.4" fill="#111"/>
<polygon points="39.2,389.8 37.9,392.2 40.6,392.2" fill="#111"/>
<polygon points="111.6,383.8 110.2,386.2 112.9,386.2" fill="#111"/>
<line x1="127.9" y1="312.5" x2="199.7" y2="287.6" stroke="#2a2a2a" stroke-width="0.8"/>
<line x1="127.9" y1="331.6" x2="199.7" y2="300.4" stroke="#2a2a2a" stroke-width="0.8"/>
<line x1="127.9" y1="364.6" x2="199.7" y2="336.5" stroke="#2a2a2a" stroke-width="0.8"/>
<line x1="127.9" y1="364.6" x2="199.7" y2="344.4" stroke="#2a2a2a" stroke-width="0.8"/>
<line x1="127.9" y1="371.5" x2="199.7" y2="352.9" stroke="#2a2a2a" stroke-width="0.8"/>
<line x1="127.9" y1="374.6" x2="199.7" y2="366.7" stroke="#2a2a2a" stroke-width="0.8"/>
<line x1="127.9" y1="378" x2="199.7" y2="338.5" stroke="#2a2a2a" stroke-width="0.8"/>
<line x1="127.9" y1="388.4" x2="199.7" y2="366.7" stroke="#2a2a2a" stroke-width="0.8"/>
<line x1="127.9" y1="392" x2="199.7" y2="390.7" stroke="#2a2a2a" stroke-width="0.8"/>
<line x1="127.9" y1="397.4" x2="199.7" y2="384.2" stroke="#2a2a2a" stroke-width="0.8"/>
<polygon points="127.9,311.0 126.6,313.4 129.2,313.4" fill="#111"/>
<polygon points="199.7,286.1 198.3,288.6 201.0,288.6" fill="#111"/>
<polygon points="127.9,330.1 126.6,332.6 129.2,332.6" fill="#111"/>
<polygon points="199.7,298.9 198.3,301.3 201.0,301.3" fill="#111"/>
<polygon points="127.9,363.1 126.6,365.6 129.2,365.6" fill="#111"/>
<polygon points="199.7,335.0 198.3,337.4 201.0,337.4" fill="#111"/>
<polygon points="127.9,363.1 126.6,365.6 129.2,365.6" fill="#111"/>
<polygon points="199.7,342.9 198.3,345.3 201.0,345.3" fill="#111"/>
<polygon points="127.9,370.0 126.6,372.4 129.2,372.4" fill="#111"/>
<polygon points="199.7,351.4 198.3,353.8 201.0,353.8" fill="#111"/>
<polygon points="127.9,373.1 126.6,375.6 129.2,375.6" fill="#111"/>
<polygon points="199.7,365.2 198.3,367.6 201.0,367.6" fill="#111"/>
<polygon points="127.9,376.5 126.6,378.9 129.2,378.9" fill="#111"/>
<polygon points="199.7,337.0 198.3,339.4 201.0,339.4" fill="#111"/>
<polygon points="127.9,386.9 126.6,389.3 129.2,389.3" fill="#111"/>
<polygon points="199.7,365.2 198.3,367.6 201.0,367.6" fill="#111"/>
<polygon points="127.9,390.5 126.6,392.9 129.2,392.9" fill="#111"/>
<polygon points="199.7,389.2 198.3,391.6 201.0,391.6" fill="#111"/>
<polygon points="127.9,395.9 126.6,398.3 129.2,398.3" fill="#111"/>
<polygon points="199.7,382.7 198.3,385.1 201.0,385.1" fill="#111"/>
<line x1="216.5" y1="341.6" x2="288.3" y2="366.5" stroke="#2a2a2a" stroke-width="0.8"/>
<line x1="216.5" y1="353.8" x2="288.3" y2="365" stroke="#2a2a2a" stroke-width="0.8"/>
<line x1="216.5" y1="366.5" x2="288.3" y2="307" stroke="#2a2a2a" stroke-width="0.8"/>
<line x1="216.5" y1="368" x2="288.3" y2="353.5" stroke="#2a2a2a" stroke-width="0.8"/>
<line x1="216.5" y1="372.7" x2="288.3" y2="358" stroke="#2a2a2a" stroke-width="0.8"/>
<line x1="216.5" y1="374.5" x2="288.3" y2="381" stroke="#2a2a2a" stroke-width="0.8"/>
<line x1="216.5" y1="376.5" x2="288.3" y2="377.3" stroke="#2a2a2a" stroke-width="0.8"/>
<line x1="216.5" y1="378.5" x2="288.3" y2="368" stroke="#2a2a2a" stroke-width="0.8"/>
<line x1="216.5" y1="380.5" x2="288.3" y2="383.5" stroke="#2a2a2a" stroke-width="0.8"/>
<line x1="216.5" y1="386.5" x2="288.3" y2="390.7" stroke="#2a2a2a" stroke-width="0.8"/>
<line x1="216.5" y1="391.5" x2="288.3" y2="355" stroke="#2a2a2a" stroke-width="0.8"/>
<line x1="216.5" y1="395" x2="288.3" y2="358" stroke="#2a2a2a" stroke-width="0.8"/>
<line x1="216.5" y1="393.5" x2="288.3" y2="381" stroke="#2a2a2a" stroke-width="0.8"/>
<line x1="216.5" y1="392.5" x2="288.3" y2="382.5" stroke="#2a2a2a" stroke-width="0.8"/>
<line x1="216.5" y1="374" x2="288.3" y2="366.5" stroke="#2a2a2a" stroke-width="0.8"/>
<line x1="216.5" y1="378" x2="288.3" y2="354.5" stroke="#2a2a2a" stroke-width="0.8"/>
<polygon points="216.5,340.1 215.2,342.6 217.8,342.6" fill="#111"/>
<polygon points="288.3,365.0 286.9,367.4 289.7,367.4" fill="#111"/>
<polygon points="216.5,352.3 215.2,354.8 217.8,354.8" fill="#111"/>
<polygon points="288.3,363.5 286.9,365.9 289.7,365.9" fill="#111"/>
<polygon points="216.5,365.0 215.2,367.4 217.8,367.4" fill="#111"/>
<polygon points="288.3,305.5 286.9,307.9 289.7,307.9" fill="#111"/>
<polygon points="216.5,366.5 215.2,368.9 217.8,368.9" fill="#111"/>
<polygon points="288.3,352.0 286.9,354.4 289.7,354.4" fill="#111"/>
<polygon points="216.5,371.2 215.2,373.6 217.8,373.6" fill="#111"/>
<polygon points="288.3,356.5 286.9,358.9 289.7,358.9" fill="#111"/>
<polygon points="216.5,373.0 215.2,375.4 217.8,375.4" fill="#111"/>
<polygon points="288.3,379.5 286.9,381.9 289.7,381.9" fill="#111"/>
<polygon points="216.5,375.0 215.2,377.4 217.8,377.4" fill="#111"/>
<polygon points="288.3,375.8 286.9,378.2 289.7,378.2" fill="#111"/>
<polygon points="216.5,377.0 215.2,379.4 217.8,379.4" fill="#111"/>
<polygon points="288.3,366.5 286.9,368.9 289.7,368.9" fill="#111"/>
<polygon points="216.5,379.0 215.2,381.4 217.8,381.4" fill="#111"/>
<polygon points="288.3,382.0 286.9,384.4 289.7,384.4" fill="#111"/>
<polygon points="216.5,385.0 215.2,387.4 217.8,387.4" fill="#111"/>
<polygon points="288.3,389.2 286.9,391.6 289.7,391.6" fill="#111"/>
<polygon points="216.5,390.0 215.2,392.4 217.8,392.4" fill="#111"/>
<polygon points="288.3,353.5 286.9,355.9 289.7,355.9" fill="#111"/>
<polygon points="216.5,393.5 215.2,395.9 217.8,395.9" fill="#111"/>
<polygon points="288.3,356.5 286.9,358.9 289.7,358.9" fill="#111"/>
<polygon points="216.5,392.0 215.2,394.4 217.8,394.4" fill="#111"/>
<polygon points="288.3,379.5 286.9,381.9 289.7,381.9" fill="#111"/>
<polygon points="216.5,391.0 215.2,393.4 217.8,393.4" fill="#111"/>
<polygon points="288.3,381.0 286.9,383.4 289.7,383.4" fill="#111"/>
<polygon points="216.5,372.5 215.2,374.9 217.8,374.9" fill="#111"/>
<polygon points="288.3,365.0 286.9,367.4 289.7,367.4" fill="#111"/>
<polygon points="216.5,376.5 215.2,378.9 217.8,378.9" fill="#111"/>
<polygon points="288.3,353.0 286.9,355.4 289.7,355.4" fill="#111"/>
<text x="49.7" y="413.8" font-size="7.9" text-anchor="middle" font-weight="normal" fill="#222" stroke="#222" stroke-width="0.22" >bl  ood</text>
<text x="137.6" y="413.8" font-size="7.9" text-anchor="middle" font-weight="normal" fill="#222" stroke="#222" stroke-width="0.22" >bl  ood</text>
<text x="226.8" y="413.8" font-size="7.9" text-anchor="middle" font-weight="normal" fill="#222" stroke="#222" stroke-width="0.22" >bl  ood</text>
<text x="103" y="412" font-size="7.6" text-anchor="middle" font-weight="normal" fill="#222" stroke="#222" stroke-width="0.22" textLength="13.8" lengthAdjust="spacingAndGlyphs">CSF</text>
<text x="192" y="412" font-size="7.6" text-anchor="middle" font-weight="normal" fill="#222" stroke="#222" stroke-width="0.22" textLength="13.8" lengthAdjust="spacingAndGlyphs">CSF</text>
<text x="280.3" y="412" font-size="7.6" text-anchor="middle" font-weight="normal" fill="#222" stroke="#222" stroke-width="0.22" textLength="13.8" lengthAdjust="spacingAndGlyphs">CSF</text>
<text x="311.3" y="12.6" font-size="13.8" text-anchor="start" font-weight="bold" fill="#111"  >C</text>
<rect x="340.4" y="18.0" width="177.20" height="123.20" fill="none" stroke="#5a5a5a" stroke-width="1.1"/>
<line x1="428.9" y1="18.0" x2="428.9" y2="141.2" stroke="#5a5a5a" stroke-width="1.1"/>
<line x1="338.4" y1="141.2" x2="340.4" y2="141.2" stroke="#3c3c3c" stroke-width="1.0"/>
<text x="337" y="144.2" font-size="8.4" text-anchor="end" font-weight="normal" fill="#222" stroke="#222" stroke-width="0.22" >0</text>
<line x1="338.4" y1="100.13333333333333" x2="340.4" y2="100.13333333333333" stroke="#3c3c3c" stroke-width="1.0"/>
<text x="337" y="103.13333333333333" font-size="8.4" text-anchor="end" font-weight="normal" fill="#222" stroke="#222" stroke-width="0.22" >5</text>
<line x1="338.4" y1="59.06666666666665" x2="340.4" y2="59.06666666666665" stroke="#3c3c3c" stroke-width="1.0"/>
<text x="337" y="62.06666666666665" font-size="8.4" text-anchor="end" font-weight="normal" fill="#222" stroke="#222" stroke-width="0.22" >10</text>
<line x1="338.4" y1="18.0" x2="340.4" y2="18.0" stroke="#3c3c3c" stroke-width="1.0"/>
<text x="337" y="21.0" font-size="8.4" text-anchor="end" font-weight="normal" fill="#222" stroke="#222" stroke-width="0.22" >15</text>
<text x="383.5" y="14.3" font-size="9" text-anchor="middle" font-weight="normal" fill="#222" stroke="#222" stroke-width="0.22" letter-spacing="0.55">acute</text>
<text x="477.6" y="14.7" font-size="9" text-anchor="middle" font-weight="normal" fill="#222" stroke="#222" stroke-width="0.22" letter-spacing="0.45">stabl e</text>
<polyline points="362.7,30.299999999999997 362.7,26.9 406.5,26.9 406.5,30.299999999999997" fill="none" stroke="#3c3c3c" stroke-width="0.9"/>
<text x="368" y="25.2" font-size="7.4" fill="#222" stroke="#222" stroke-width="0.22" font-family="Liberation Sans, sans-serif"><tspan font-style="italic">P</tspan> = .012</text>
<polyline points="451.3,30.0 451.3,26.6 495.2,26.6 495.2,30.0" fill="none" stroke="#3c3c3c" stroke-width="0.9"/>
<text x="473.8" y="24.7" font-size="7" text-anchor="middle" font-weight="normal" fill="#222" stroke="#222" stroke-width="0.22" >n.s</text>
<line x1="362.6" y1="113.5" x2="362.6" y2="117.5" stroke="#3c3c3c" stroke-width="0.9"/>
<line x1="361.0" y1="113.5" x2="364.20000000000005" y2="113.5" stroke="#3c3c3c" stroke-width="0.9"/>
<rect x="353.5" y="117.5" width="18.20" height="23.70" fill="#fff" stroke="#3c3c3c" stroke-width="1.0"/>
<line x1="407.0" y1="86" x2="407.0" y2="94.3" stroke="#3c3c3c" stroke-width="0.9"/>
<line x1="405.4" y1="86" x2="408.6" y2="86" stroke="#3c3c3c" stroke-width="0.9"/>
<rect x="398.3" y="94.3" width="17.40" height="46.90" fill="#444" stroke="#333" stroke-width="1.0"/>
<line x1="451.5" y1="97.3" x2="451.5" y2="106.4" stroke="#3c3c3c" stroke-width="0.9"/>
<line x1="449.9" y1="97.3" x2="453.1" y2="97.3" stroke="#3c3c3c" stroke-width="0.9"/>
<rect x="442.3" y="106.4" width="18.40" height="34.80" fill="#fff" stroke="#3c3c3c" stroke-width="1.0"/>
<line x1="495.0" y1="107.6" x2="495.0" y2="112.5" stroke="#3c3c3c" stroke-width="0.9"/>
<line x1="493.4" y1="107.6" x2="496.6" y2="107.6" stroke="#3c3c3c" stroke-width="0.9"/>
<rect x="486.3" y="112.5" width="17.40" height="28.70" fill="#444" stroke="#333" stroke-width="1.0"/>
<text transform="translate(322.6,78.3) rotate(-90)" font-size="8.6" word-spacing="0.9" text-anchor="middle" fill="#222" stroke="#222" stroke-width="0.2" font-family="Liberation Sans, sans-serif">% of CD4 HLA- G<tspan font-size="7.3" dy="-3.2">pos</tspan></text>
<rect x="340.4" y="151.3" width="177.20" height="123.00" fill="none" stroke="#5a5a5a" stroke-width="1.1"/>
<line x1="428.9" y1="151.3" x2="428.9" y2="274.3" stroke="#5a5a5a" stroke-width="1.1"/>
<line x1="338.4" y1="274.3" x2="340.4" y2="274.3" stroke="#3c3c3c" stroke-width="1.0"/>
<text x="337" y="277.3" font-size="8.4" text-anchor="end" font-weight="normal" fill="#222" stroke="#222" stroke-width="0.22" >0</text>
<line x1="338.4" y1="233.3" x2="340.4" y2="233.3" stroke="#3c3c3c" stroke-width="1.0"/>
<text x="337" y="236.3" font-size="8.4" text-anchor="end" font-weight="normal" fill="#222" stroke="#222" stroke-width="0.22" >5</text>
<line x1="338.4" y1="192.3" x2="340.4" y2="192.3" stroke="#3c3c3c" stroke-width="1.0"/>
<text x="337" y="195.3" font-size="8.4" text-anchor="end" font-weight="normal" fill="#222" stroke="#222" stroke-width="0.22" >10</text>
<line x1="338.4" y1="151.3" x2="340.4" y2="151.3" stroke="#3c3c3c" stroke-width="1.0"/>
<text x="337" y="154.3" font-size="8.4" text-anchor="end" font-weight="normal" fill="#222" stroke="#222" stroke-width="0.22" >15</text>
<text transform="translate(322.6,214.8) rotate(-90)" font-size="8.6" word-spacing="0.9" text-anchor="middle" fill="#222" stroke="#222" stroke-width="0.2" font-family="Liberation Sans, sans-serif">% of CD4 HLA- G<tspan font-size="7.3" dy="-3.2">pos</tspan></text>
<line x1="349.5" y1="234.8" x2="421" y2="171.7" stroke="#2a2a2a" stroke-width="0.8"/>
<line x1="349.5" y1="241.2" x2="421" y2="222" stroke="#2a2a2a" stroke-width="0.8"/>
<line x1="349.5" y1="242.7" x2="421" y2="246.4" stroke="#2a2a2a" stroke-width="0.8"/>
<line x1="349.5" y1="245.8" x2="421" y2="251" stroke="#2a2a2a" stroke-width="0.8"/>
<line x1="349.5" y1="249.7" x2="421" y2="224.5" stroke="#2a2a2a" stroke-width="0.8"/>
<line x1="349.5" y1="251" x2="421" y2="232.7" stroke="#2a2a2a" stroke-width="0.8"/>
<line x1="349.5" y1="262" x2="421" y2="221.8" stroke="#2a2a2a" stroke-width="0.8"/>
<line x1="349.5" y1="262.6" x2="421" y2="223" stroke="#2a2a2a" stroke-width="0.8"/>
<line x1="349.5" y1="265.5" x2="421" y2="251" stroke="#2a2a2a" stroke-width="0.8"/>
<polygon points="349.5,233.3 348.1,235.8 350.9,235.8" fill="#111"/>
<polygon points="421.0,170.2 419.6,172.6 422.4,172.6" fill="#111"/>
<polygon points="349.5,239.7 348.1,242.1 350.9,242.1" fill="#111"/>
<polygon points="421.0,220.5 419.6,222.9 422.4,222.9" fill="#111"/>
<polygon points="349.5,241.2 348.1,243.6 350.9,243.6" fill="#111"/>
<polygon points="421.0,244.9 419.6,247.3 422.4,247.3" fill="#111"/>
<polygon points="349.5,244.3 348.1,246.8 350.9,246.8" fill="#111"/>
<polygon points="421.0,249.5 419.6,251.9 422.4,251.9" fill="#111"/>
<polygon points="349.5,248.2 348.1,250.6 350.9,250.6" fill="#111"/>
<polygon points="421.0,223.0 419.6,225.4 422.4,225.4" fill="#111"/>
<polygon points="349.5,249.5 348.1,251.9 350.9,251.9" fill="#111"/>
<polygon points="421.0,231.2 419.6,233.6 422.4,233.6" fill="#111"/>
<polygon points="349.5,260.5 348.1,262.9 350.9,262.9" fill="#111"/>
<polygon points="421.0,220.3 419.6,222.8 422.4,222.8" fill="#111"/>
<polygon points="349.5,261.1 348.1,263.6 350.9,263.6" fill="#111"/>
<polygon points="421.0,221.5 419.6,223.9 422.4,223.9" fill="#111"/>
<polygon points="349.5,264.0 348.1,266.4 350.9,266.4" fill="#111"/>
<polygon points="421.0,249.5 419.6,251.9 422.4,251.9" fill="#111"/>
<line x1="437.4" y1="208.3" x2="509.2" y2="236" stroke="#2a2a2a" stroke-width="0.8"/>
<line x1="437.4" y1="220.7" x2="509.2" y2="235" stroke="#2a2a2a" stroke-width="0.8"/>
<line x1="437.4" y1="237.4" x2="509.2" y2="232.8" stroke="#2a2a2a" stroke-width="0.8"/>
<line x1="437.4" y1="246.8" x2="509.2" y2="253" stroke="#2a2a2a" stroke-width="0.8"/>
<line x1="437.4" y1="256" x2="509.2" y2="260.2" stroke="#2a2a2a" stroke-width="0.8"/>
<line x1="437.4" y1="263.8" x2="509.2" y2="252.4" stroke="#2a2a2a" stroke-width="0.8"/>
<polygon points="437.4,206.8 436.0,209.2 438.8,209.2" fill="#111"/>
<polygon points="509.2,234.5 507.8,236.9 510.6,236.9" fill="#111"/>
<polygon points="437.4,219.2 436.0,221.6 438.8,221.6" fill="#111"/>
<polygon points="509.2,233.5 507.8,235.9 510.6,235.9" fill="#111"/>
<polygon points="437.4,235.9 436.0,238.3 438.8,238.3" fill="#111"/>
<polygon points="509.2,231.3 507.8,233.8 510.6,233.8" fill="#111"/>
<polygon points="437.4,245.3 436.0,247.8 438.8,247.8" fill="#111"/>
<polygon points="509.2,251.5 507.8,253.9 510.6,253.9" fill="#111"/>
<polygon points="437.4,254.5 436.0,256.9 438.8,256.9" fill="#111"/>
<polygon points="509.2,258.7 507.8,261.1 510.6,261.1" fill="#111"/>
<polygon points="437.4,262.3 436.0,264.8 438.8,264.8" fill="#111"/>
<polygon points="509.2,250.9 507.8,253.3 510.6,253.3" fill="#111"/>
<text x="359" y="284.4" font-size="7.9" text-anchor="middle" font-weight="normal" fill="#222" stroke="#222" stroke-width="0.22" >bl  ood</text>
<text x="412.9" y="282.7" font-size="7.6" text-anchor="middle" font-weight="normal" fill="#222" stroke="#222" stroke-width="0.22" textLength="13.8" lengthAdjust="spacingAndGlyphs">CSF</text>
<text x="447.8" y="284.4" font-size="7.9" text-anchor="middle" font-weight="normal" fill="#222" stroke="#222" stroke-width="0.22" >bl  ood</text>
<text x="501.5" y="282.7" font-size="7.6" text-anchor="middle" font-weight="normal" fill="#222" stroke="#222" stroke-width="0.22" textLength="13.8" lengthAdjust="spacingAndGlyphs">CSF</text>
<text x="311.5" y="311.1" font-size="13.8" text-anchor="start" font-weight="bold" fill="#111"  >D</text>
<g clip-path="url(#cg)">
<rect x="341.4" y="308.2" width="62.3" height="40.7" fill="#031003"/>
<path d="M365,310 L383,336 L377,343 L360,340 Z" fill="#114a11" opacity="0.55" filter="url(#bl4)"/>
<circle cx="367.3" cy="313" r="2.0" fill="#2a8a2a" opacity="0.55" filter="url(#bl6)"/>
<circle cx="370.5" cy="317.4" r="2.0" fill="#2a8a2a" opacity="0.55" filter="url(#bl6)"/>
<circle cx="369.8" cy="321.9" r="2.0" fill="#2a8a2a" opacity="0.55" filter="url(#bl6)"/>
<circle cx="374.9" cy="321.9" r="2.0" fill="#2a8a2a" opacity="0.55" filter="url(#bl6)"/>
<circle cx="373" cy="326.3" r="2.0" fill="#2a8a2a" opacity="0.55" filter="url(#bl6)"/>
<circle cx="377.4" cy="328.2" r="2.0" fill="#2a8a2a" opacity="0.55" filter="url(#bl6)"/>
<circle cx="366.6" cy="329.5" r="2.0" fill="#2a8a2a" opacity="0.55" filter="url(#bl6)"/>
<circle cx="371.7" cy="332.6" r="2.0" fill="#2a8a2a" opacity="0.55" filter="url(#bl6)"/>
<circle cx="378.7" cy="335.8" r="2.0" fill="#2a8a2a" opacity="0.55" filter="url(#bl6)"/>
<circle cx="370.5" cy="336.5" r="2.0" fill="#2a8a2a" opacity="0.55" filter="url(#bl6)"/>
<circle cx="363.5" cy="337.1" r="2.0" fill="#2a8a2a" opacity="0.55" filter="url(#bl6)"/>
<circle cx="376.8" cy="339" r="2.0" fill="#2a8a2a" opacity="0.55" filter="url(#bl6)"/>
<circle cx="347.6" cy="323" r="2.0" fill="#2a8a2a" opacity="0.55" filter="url(#bl6)"/>
<circle cx="401.5" cy="316" r="2.0" fill="#2a8a2a" opacity="0.55" filter="url(#bl6)"/>
<circle cx="370.8" cy="325.3" r="1.5" fill="#48c048" opacity="0.30" filter="url(#bl3)"/>
<circle cx="373.6" cy="325.1" r="1.3" fill="#48c048" opacity="0.48" filter="url(#bl3)"/>
<circle cx="362.9" cy="315.3" r="1.2" fill="#48c048" opacity="0.52" filter="url(#bl3)"/>
<circle cx="368.2" cy="317.2" r="1.3" fill="#48c048" opacity="0.58" filter="url(#bl3)"/>
<circle cx="374.2" cy="326.0" r="1.4" fill="#48c048" opacity="0.33" filter="url(#bl3)"/>
<circle cx="367.4" cy="317.0" r="1.2" fill="#48c048" opacity="0.33" filter="url(#bl3)"/>
<circle cx="370.1" cy="320.8" r="1.5" fill="#48c048" opacity="0.36" filter="url(#bl3)"/>
<circle cx="378.3" cy="335.5" r="1.2" fill="#48c048" opacity="0.45" filter="url(#bl3)"/>
<circle cx="360.1" cy="314.6" r="1.0" fill="#48c048" opacity="0.48" filter="url(#bl3)"/>
<circle cx="361.6" cy="313.3" r="1.0" fill="#48c048" opacity="0.30" filter="url(#bl3)"/>
<circle cx="366.5" cy="314.2" r="1.0" fill="#48c048" opacity="0.45" filter="url(#bl3)"/>
<circle cx="375.1" cy="337.8" r="1.3" fill="#48c048" opacity="0.33" filter="url(#bl3)"/>
<circle cx="375.6" cy="330.1" r="1.6" fill="#48c048" opacity="0.32" filter="url(#bl3)"/>
<circle cx="371.8" cy="326.3" r="1.1" fill="#48c048" opacity="0.60" filter="url(#bl3)"/>
<circle cx="382.6" cy="341.1" r="1.6" fill="#48c048" opacity="0.37" filter="url(#bl3)"/>
<circle cx="376.9" cy="329.0" r="1.4" fill="#48c048" opacity="0.48" filter="url(#bl3)"/>
<circle cx="378.6" cy="333.9" r="1.5" fill="#48c048" opacity="0.48" filter="url(#bl3)"/>
<circle cx="364.2" cy="327.6" r="1.3" fill="#48c048" opacity="0.31" filter="url(#bl3)"/>
<circle cx="374.8" cy="335.5" r="1.0" fill="#48c048" opacity="0.43" filter="url(#bl3)"/>
<circle cx="374.0" cy="322.3" r="1.0" fill="#48c048" opacity="0.54" filter="url(#bl3)"/>
<circle cx="367.4" cy="309.1" r="1.2" fill="#48c048" opacity="0.51" filter="url(#bl3)"/>
<circle cx="369.0" cy="316.6" r="1.1" fill="#48c048" opacity="0.59" filter="url(#bl3)"/>
<circle cx="366.8" cy="325.7" r="1.2" fill="#48c048" opacity="0.50" filter="url(#bl3)"/>
<circle cx="369.6" cy="315.3" r="0.9" fill="#48c048" opacity="0.59" filter="url(#bl3)"/>
<circle cx="377.1" cy="314.7" r="1.3" fill="#48c048" opacity="0.30" filter="url(#bl3)"/>
<circle cx="367.6" cy="315.6" r="1.3" fill="#48c048" opacity="0.59" filter="url(#bl3)"/>
<circle cx="373.2" cy="323.6" r="1.0" fill="#48c048" opacity="0.33" filter="url(#bl3)"/>
<circle cx="372.8" cy="326.3" r="1.2" fill="#48c048" opacity="0.51" filter="url(#bl3)"/>
</g>
<text x="343.2" y="346.8" font-size="4.6" text-anchor="start" font-weight="bold" fill="#ddd"  >CD8</text>
<g clip-path="url(#cr)">
<rect x="341.0" y="352.3" width="63.2" height="76.7" fill="#240401"/>
<path d="M381,432 C388,418 396,404 406,390 L406,432 Z" fill="#d0300f" opacity="0.75" filter="url(#bl2)"/>
<path d="M345.2,434.1L345.3,434.0M371.6,431.9L371.2,425.1M378.8,423.9L372.7,423.9M366.7,424.2L371.2,425.1M331.8,406.0L332.4,406.5M332.3,413.2L326.5,414.9M408.5,343.7L408.9,344.6M408.9,344.6L438.3,348.6M406.5,358.2L409.5,351.5M401.7,348.4L402.8,349.3M407.7,359.9L423.0,351.5M409.7,363.7L408.1,371.5M396.4,344.3L393.0,340.6M333.4,409.5L340.9,411.3M334.4,416.5L339.4,417.1M380.1,417.6L378.9,416.5M357.5,395.3L352.2,397.7M358.3,394.5L357.5,395.3M366.0,384.4L362.7,385.5M362.7,385.5L361.5,393.5M403.0,391.3L398.4,396.1M408.8,410.8L408.4,411.1M404.8,417.5L408.4,411.1M386.9,397.0L381.8,397.2M381.8,397.2L379.7,399.6M379.7,399.6L379.3,403.5M394.3,392.5L392.7,392.2M388.0,398.6L392.9,401.7M406.9,379.9L404.7,377.3M331.3,368.7L334.0,371.7M334.0,371.7L330.6,378.2M335.5,383.4L332.4,379.0M353.7,384.1L355.7,385.0M346.1,427.4L341.5,427.0M365.0,424.6L362.1,423.1M358.1,431.2L357.8,426.1M372.2,393.2L372.6,395.8M344.2,391.5L343.5,398.8M339.4,399.5L336.8,397.8M337.8,384.0L338.5,383.8M395.0,411.0L392.9,402.6M396.4,411.8L395.0,411.0M393.0,402.1L392.9,402.6M380.7,410.1L386.7,410.4M380.1,417.6L385.9,416.3M340.3,371.7L339.6,375.5M338.5,383.8L340.9,378.5M344.8,386.2L346.5,379.9M340.9,378.5L346.5,379.9M394.1,416.8L392.1,418.8M385.5,431.6L387.7,424.4M386.4,385.5L383.0,383.4M373.8,385.2L376.1,379.8M373.4,376.2L367.5,376.7M367.3,383.3L367.0,378.4M366.0,384.4L367.3,383.3M359.0,378.0L358.8,384.1M359.0,378.0L367.0,378.4M359.0,377.9L360.0,371.7M366.0,371.6L367.5,376.7M394.7,355.9L394.3,353.8M396.4,344.3L392.1,350.4M394.3,353.8L392.1,350.4M340.3,371.7L340.4,371.5M350.8,363.5L347.0,363.9M348.5,356.2L352.3,355.8M339.6,352.9L337.1,350.0M331.1,355.1L335.5,357.6M335.5,357.6L338.2,356.9M333.0,351.1L336.4,349.9M337.1,350.0L336.4,349.9M346.4,358.6L339.3,354.6M332.1,344.4L336.4,349.9M348.8,343.6L350.8,343.9M344.1,351.4L344.6,350.5M346.0,344.8L340.9,342.6M392.7,392.2L391.9,384.8M394.4,383.7L391.9,384.8M381.1,343.6L385.8,342.2M381.1,343.6L382.3,348.4M387.9,343.5L385.8,342.2M350.7,371.0L352.5,372.8M352.5,372.8L351.8,377.0M350.8,378.4L348.2,378.6M347.0,363.9L346.1,369.6M350.8,363.5L352.9,364.7M352.9,364.7L357.4,364.6M353.7,384.1L350.8,378.4M359.0,362.5L367.4,366.3M381.2,371.6L380.7,364.9M380.7,364.9L376.2,366.1M363.3,343.2L370.9,343.7M363.3,343.2L377.3,269.9M370.9,343.7L377.4,281.7M388.4,376.9L393.2,376.2M400.0,366.3L399.6,365.9M387.5,367.4L393.2,365.2M392.2,358.5L393.8,364.8M380.9,348.9L374.6,348.9M380.8,357.4L378.7,356.5M373.6,358.0L376.9,356.1M373.2,347.6L374.6,348.9M366.8,356.1L359.1,361.1M355.0,355.5L359.1,361.1M366.8,356.1L366.5,354.5M363.3,343.2L363.0,343.4M353.9,354.1L360.9,348.4M353.3,346.5L360.4,345.1" stroke="#8a1e0c" stroke-width="1.1" fill="none" opacity="0.4" filter="url(#bl3)"/>
<path d="M372.3,432.5L378.2,433.1M372.3,432.5L371.6,431.9M406.9,379.9L421.2,374.8M380.5,430.9L385.0,431.9M399.9,435.1L394.7,433.5M345.3,434.0L346.1,427.4M345.3,434.0L352.7,435.4M352.7,435.4L353.9,433.9M353.9,433.9L350.5,427.5M347.0,426.6L346.1,427.4M356.5,433.1L353.9,433.9M380.5,430.9L380.0,425.5M378.8,423.9L380.0,425.5M371.2,425.1L372.7,423.9M366.7,424.2L365.0,424.6M365.0,424.6L364.2,431.0M358.1,431.2L364.2,431.0M332.4,406.5L333.4,409.5M399.9,435.1L403.9,430.4M407.4,433.4L404.5,430.5M403.9,430.4L404.5,430.5M401.0,387.3L403.0,391.3M401.0,387.3L407.4,383.4M408.5,343.7L401.5,342.9M402.8,349.3L402.0,356.3M409.5,351.5L406.7,349.3M407.7,359.9L406.5,358.2M407.7,359.9L408.0,362.1M400.0,344.8L396.4,344.3M402.3,417.6L397.7,411.7M396.4,411.8L397.7,411.7M396.4,411.8L394.1,416.8M399.9,420.7L394.1,416.8M351.5,409.0L352.6,406.9M344.3,406.5L346.2,402.1M344.3,406.5L344.4,409.6M337.6,404.7L341.7,410.7M337.6,404.7L338.9,403.4M337.6,404.7L332.4,406.5M332.3,413.2L334.4,416.5M348.3,418.4L346.8,419.8M339.4,417.1L340.8,419.3M331.3,421.9L331.3,422.2M372.1,409.2L373.3,408.0M372.1,409.2L374.5,416.4M374.5,416.4L378.9,416.5M357.5,395.3L360.4,405.1M360.4,405.1L359.7,405.5M352.2,397.7L352.0,398.2M352.6,406.9L355.1,404.9M346.2,400.8L346.2,402.1M346.2,400.8L352.0,398.2M348.9,391.9L355.3,389.6M348.9,391.9L352.2,397.7M358.3,394.5L355.3,389.6M351.5,409.0L354.1,413.6M348.3,418.4L350.1,418.3M354.1,413.6L359.3,413.8M368.2,393.0L367.7,393.3M362.7,404.6L360.4,405.1M362.7,404.6L365.3,401.6M373.3,408.0L373.7,406.5M373.7,406.5L379.1,403.8M335.5,383.4L331.1,387.8M335.5,383.4L337.8,384.0M337.8,384.0L337.5,390.1M337.5,390.1L331.4,392.1M331.8,397.4L331.4,392.1M404.8,417.6L404.8,417.5M407.3,422.5L412.2,424.7M401.6,427.0L398.2,425.1M398.2,425.1L399.9,420.7M404.5,430.5L412.2,424.7M394.3,392.5L396.9,396.0M396.9,396.0L398.4,396.1M398.4,396.1L399.1,396.9M405.1,402.7L408.6,406.9M405.1,402.7L401.2,404.0M408.6,406.9L408.8,410.8M407.1,398.6L405.1,402.7M401.0,403.8L399.1,396.9M401.0,403.8L401.2,404.0M397.7,411.7L400.1,409.3M386.9,397.0L388.0,398.6M379.3,403.5L384.9,405.8M388.0,398.6L384.9,405.8M392.7,392.2L388.7,393.5M388.7,393.5L386.9,397.0M396.9,396.0L392.9,401.7M392.9,401.7L393.0,402.1M408.1,371.5L406.5,372.2M404.7,377.3L406.5,372.2M332.4,379.0L330.6,378.2M348.9,391.9L346.1,389.9M346.1,389.9L346.1,388.6M346.1,388.6L353.7,384.1M358.8,384.1L355.7,385.0M385.5,431.6L393.8,429.0M341.5,427.0L339.2,431.8M338.5,423.8L334.3,425.0M334.3,425.0L333.3,430.6M339.2,431.8L334.0,431.4M333.3,430.6L334.0,431.4M347.0,426.6L346.8,419.8M340.8,419.3L338.5,423.8M341.5,434.2L339.2,431.8M331.3,422.2L334.3,425.0M362.1,423.1L357.8,426.1M357.8,426.1L354.5,424.5M354.5,424.5L353.8,421.0M359.9,414.5L360.5,418.1M359.9,414.5L367.7,411.9M367.7,411.9L368.9,416.8M360.7,418.4L360.5,418.1M360.7,418.4L367.9,417.7M353.8,421.0L360.5,418.1M368.3,410.7L367.7,411.9M371.8,417.9L368.9,416.8M372.1,409.2L368.3,410.7M362.1,423.1L360.7,418.4M367.5,401.3L372.6,395.8M367.5,401.3L371.7,403.6M371.7,403.6L374.5,398.0M372.6,395.8L374.5,398.0M372.2,393.2L368.2,393.0M366.6,401.2L367.5,401.3M373.7,406.5L371.7,403.6M379.7,399.6L374.5,398.0M374.1,391.1L372.2,393.2M374.1,391.1L380.4,394.3M380.4,394.3L381.8,397.2M344.2,391.5L340.1,391.7M340.1,391.7L336.8,397.8M343.5,398.8L339.4,399.5M346.1,388.6L344.8,386.2M337.5,390.1L340.1,391.7M338.5,383.8L344.8,386.2M346.2,400.8L343.5,398.8M331.8,397.4L336.8,397.8M395.0,411.0L387.2,411.3M392.9,402.6L386.6,408.2M386.6,408.2L386.7,410.4M384.9,405.8L386.6,408.2M399.6,386.7L399.3,386.4M404.7,377.3L401.3,377.7M388.7,393.5L385.8,388.1M380.4,394.3L382.0,389.9M374.1,391.1L374.6,386.3M374.6,386.3L377.1,386.4M382.0,389.9L377.1,386.4M334.0,371.7L340.3,371.7M332.4,379.0L339.6,375.5M331.9,364.5L331.0,363.1M387.6,418.2L387.0,423.7M392.1,418.8L395.8,425.8M387.0,423.7L387.7,424.4M387.7,424.4L394.3,427.1M395.8,425.8L394.3,427.1M380.0,425.5L387.0,423.7M385.9,416.3L387.6,418.2M398.2,425.1L395.8,425.8M385.8,388.1L386.4,385.5M377.1,386.4L383.0,383.4M373.8,385.2L367.3,383.3M376.1,379.8L373.4,376.2M374.6,386.3L373.8,385.2M383.0,383.4L381.3,377.8M381.3,377.8L376.1,379.8M359.0,378.0L359.0,377.9M360.0,371.7L366.0,371.6M401.7,348.4L394.3,353.8M331.9,364.5L338.6,365.2M346.4,358.6L345.3,362.2M346.4,358.6L348.5,356.2M347.0,363.9L345.3,362.2M339.3,354.6L338.2,356.9M331.1,355.1L333.0,351.1M340.5,362.2L345.3,362.2M332.1,344.4L315.8,344.5M346.0,344.8L348.8,343.6M344.6,350.5L353.0,350.8M350.8,343.9L353.3,346.5M353.3,346.5L353.0,350.8M353.9,354.1L353.0,350.8M340.9,342.6L339.8,343.9M337.1,350.0L339.8,343.9M332.1,344.4L332.7,343.8M399.3,386.4L394.4,383.7M401.3,377.7L398.0,376.4M398.0,376.4L394.8,377.2M391.9,384.8L388.1,384.5M392.1,350.4L387.3,349.4M387.3,349.4L387.9,343.5M390.5,358.5L392.2,358.5M387.3,349.4L386.1,350.1M385.0,354.2L386.1,350.1M381.1,343.6L378.8,342.1M346.1,369.6L343.5,371.3M346.1,369.6L350.7,371.0M351.8,377.0L350.8,378.4M340.4,371.5L343.5,371.3M352.9,364.7L350.7,371.0M357.4,364.6L358.2,370.5M358.2,370.5L352.5,372.8M360.0,371.7L358.2,370.5M375.5,371.8L375.4,371.6M375.4,371.6L366.8,370.4M357.4,364.6L359.0,362.5M366.8,370.4L367.4,366.3M384.0,363.9L390.5,358.5M384.0,363.9L382.6,363.5M385.0,354.2L380.8,357.4M380.8,357.4L382.6,363.5M380.4,373.9L381.2,371.6M375.4,371.6L376.2,366.1M367.4,366.3L367.9,365.9M367.9,365.9L367.2,356.5M373.7,364.5L373.6,358.0M373.1,346.1L370.9,343.7M387.6,368.4L392.9,372.4M386.2,375.7L388.4,376.9M393.2,376.2L392.9,372.4M384.0,363.9L387.5,367.4M387.5,367.4L387.6,368.4M382.6,363.5L380.7,364.9M388.1,384.5L388.4,376.9M393.7,371.3L393.2,365.2M400.2,367.7L399.3,369.2M398.0,376.4L399.3,369.2M399.5,357.4L399.6,365.9M378.7,356.5L380.9,348.9M376.9,356.1L374.6,348.9M382.3,348.4L380.9,348.9M373.1,346.1L373.2,347.6M359.0,362.5L359.1,361.1M368.0,351.9L363.0,343.4M366.5,354.5L362.6,352.4M362.6,352.4L360.9,348.4M360.4,345.1L361.4,344.0M355.0,355.5L362.6,352.4" stroke="#b82a12" stroke-width="1.25" fill="none" opacity="0.55" filter="url(#bl3)"/>
<path d="M371.6,431.9L365.6,432.4M331.8,406.0L312.0,412.5M331.1,387.8L331.4,392.0M406.9,379.9L407.4,383.4M407.4,383.4L410.4,385.7M378.2,433.1L380.5,430.9M345.2,434.1L341.5,434.2M350.5,427.5L347.0,426.6M365.6,432.4L364.2,431.0M356.5,433.1L358.1,431.2M332.3,413.2L333.4,409.5M407.1,398.6L407.0,398.3M402.8,349.3L406.7,349.3M402.0,356.3L406.5,358.2M401.5,342.9L400.0,344.8M400.0,344.8L401.7,348.4M408.9,344.6L406.7,349.3M409.7,363.7L408.0,362.1M402.3,417.6L399.9,420.7M351.5,409.0L345.5,410.2M352.6,406.9L346.2,402.1M345.5,410.2L344.4,409.6M338.9,403.4L344.3,406.5M344.4,409.6L341.7,410.7M340.9,411.3L341.7,410.7M340.9,411.3L339.4,417.1M334.4,416.5L331.3,421.9M348.3,418.4L345.5,410.2M346.8,419.8L340.8,419.3M373.3,408.0L378.5,412.0M378.5,412.0L378.9,416.5M378.8,423.9L380.1,417.6M371.8,417.9L372.7,423.9M371.8,417.9L374.5,416.4M355.1,404.9L359.7,405.5M355.1,404.9L352.0,398.2M350.1,418.3L354.1,413.6M359.7,405.5L359.3,413.8M367.7,393.3L366.6,401.2M367.7,393.3L361.5,393.5M361.0,393.9L361.5,393.5M361.0,393.9L365.3,401.6M365.3,401.6L366.6,401.2M366.0,384.4L368.2,393.0M358.3,394.5L361.0,393.9M380.7,410.1L378.5,412.0M380.7,410.1L379.1,403.8M331.4,392.0L331.4,392.1M404.8,417.6L407.3,422.5M404.8,417.5L433.1,419.2M402.3,417.6L404.8,417.6M401.6,427.0L407.3,422.5M403.9,430.4L401.6,427.0M401.0,387.3L399.6,386.7M399.6,386.7L394.3,392.5M407.0,398.3L399.1,396.9M401.2,404.0L400.1,409.3M400.1,409.3L408.4,411.1M401.0,403.8L393.0,402.1M355.3,389.6L355.7,385.0M362.7,385.5L358.8,384.1M385.0,431.9L385.5,431.6M394.7,433.5L393.8,429.0M341.5,427.0L338.5,423.8M350.5,427.5L354.5,424.5M350.1,418.3L353.8,421.0M368.9,416.8L367.9,417.7M359.3,413.8L359.9,414.5M362.7,404.6L368.3,410.7M366.7,424.2L367.9,417.7M379.1,403.8L379.3,403.5M346.1,389.9L344.2,391.5M338.9,403.4L339.4,399.5M387.2,411.3L386.7,410.4M385.9,416.3L387.2,411.3M399.3,386.4L401.3,377.7M385.8,388.1L382.0,389.9M340.9,378.5L339.6,375.5M331.3,368.7L331.9,364.5M387.6,418.2L392.1,418.8M393.8,429.0L394.3,427.1M367.0,378.4L367.5,376.7M402.0,356.3L399.5,357.4M399.5,357.4L394.7,355.9M340.4,371.5L338.6,365.2M350.8,363.5L352.3,355.8M339.6,352.9L339.3,354.6M348.5,356.2L344.1,351.4M344.1,351.4L339.6,352.9M340.5,362.2L338.2,356.9M338.6,365.2L340.5,362.2M346.0,344.8L344.6,350.5M352.3,355.8L354.0,354.9M353.9,354.1L354.0,354.9M340.9,342.6L337.8,333.6M339.8,343.9L332.7,343.8M394.8,377.2L394.4,383.7M386.4,385.5L388.1,384.5M381.9,376.6L381.3,377.8M381.9,376.6L380.4,373.9M373.4,376.2L375.5,371.8M375.5,371.8L380.4,373.9M394.7,355.9L392.2,358.5M390.5,358.5L385.0,354.2M382.3,348.4L386.1,350.1M343.5,371.3L348.2,378.6M346.5,379.9L348.2,378.6M359.0,377.9L351.8,377.0M366.0,371.6L366.8,370.4M367.9,365.9L373.7,364.5M373.7,364.5L376.2,366.1M373.6,358.0L367.2,356.5M387.4,368.8L387.6,368.4M387.4,368.8L386.2,375.7M381.2,371.6L387.4,368.8M381.9,376.6L386.2,375.7M394.8,377.2L393.2,376.2M393.7,371.3L399.3,369.2M393.8,364.8L393.2,365.2M393.8,364.8L399.6,365.9M400.0,366.3L400.2,367.7M392.9,372.4L393.7,371.3M408.0,362.1L400.0,366.3M406.5,372.2L400.2,367.7M378.7,356.5L376.9,356.1M367.2,356.5L366.8,356.1M354.0,354.9L355.0,355.5M368.0,351.9L366.5,354.5M360.9,348.4L360.4,345.1M361.4,344.0L363.0,343.4M373.2,347.6L368.0,351.9" stroke="#e03c1a" stroke-width="1.4" fill="none" opacity="0.7" filter="url(#bl3)"/>
<path d="M410.4,385.7L406.8,393.2M403.0,391.3L406.8,393.2M407.0,398.3L406.8,393.3M406.8,393.3L406.8,393.2M412.2,424.7L451.8,424.7M407.4,433.4L451.8,424.7" stroke="#ff4a22" stroke-width="2.0" fill="none" opacity="0.9" filter="url(#bl3)"/>
<circle cx="376" cy="406" r="6" fill="none" stroke="#d83414" stroke-width="1.8" opacity="0.8" filter="url(#bl3)"/>
<path d="M374,357 L385,357 L382,370 L376,370 Z" fill="#f03c16" opacity="0.85" filter="url(#bl2)"/>
<circle cx="346" cy="362" r="3" fill="#c83014" opacity="0.6" filter="url(#bl2)"/>
<circle cx="388" cy="388" r="3" fill="#c83014" opacity="0.5" filter="url(#bl2)"/>
</g>
<circle cx="378.4" cy="360.8" r="1.3" fill="#fff" filter="url(#bl5)"/>
<circle cx="375.7" cy="406" r="1.3" fill="#fff" filter="url(#bl5)"/>
<text x="343.8" y="426" font-size="4.6" text-anchor="start" font-weight="bold" fill="#ddd"  >HLA-G</text>
<g clip-path="url(#cm)">
<rect x="406.3" y="308.8" width="65.3" height="109.6" fill="#2a1c08"/>
<path d="M400,300 L480,300 L480,322 L400,330 Z" fill="#170e04" filter="url(#bl2)"/>
<g filter="url(#bl8)">
<line x1="433.5" y1="323.7" x2="438.8" y2="323.2" stroke="#c84a16" stroke-width="1.4" stroke-linecap="round" opacity="0.77"/>
<line x1="435.2" y1="326.7" x2="440.8" y2="324.3" stroke="#e07a24" stroke-width="1.5" stroke-linecap="round" opacity="0.49"/>
<line x1="459.9" y1="326.4" x2="467.3" y2="329.2" stroke="#d06a20" stroke-width="2.0" stroke-linecap="round" opacity="0.71"/>
<line x1="446.1" y1="327.2" x2="452.3" y2="323.5" stroke="#c04418" stroke-width="1.4" stroke-linecap="round" opacity="0.55"/>
<line x1="402.2" y1="329.2" x2="409.4" y2="328.6" stroke="#d06a20" stroke-width="1.5" stroke-linecap="round" opacity="0.45"/>
<line x1="406.3" y1="332.0" x2="412.4" y2="330.8" stroke="#c84a16" stroke-width="2.3" stroke-linecap="round" opacity="0.79"/>
<line x1="452.4" y1="326.6" x2="456.2" y2="324.3" stroke="#c04418" stroke-width="1.6" stroke-linecap="round" opacity="0.79"/>
<line x1="428.6" y1="331.1" x2="436.2" y2="333.0" stroke="#c04418" stroke-width="1.4" stroke-linecap="round" opacity="0.82"/>
<line x1="403.9" y1="328.9" x2="409.0" y2="328.7" stroke="#d85a1c" stroke-width="2.1" stroke-linecap="round" opacity="0.56"/>
<line x1="406.4" y1="334.2" x2="410.8" y2="335.8" stroke="#c04418" stroke-width="1.3" stroke-linecap="round" opacity="0.73"/>
<line x1="400.8" y1="329.1" x2="406.7" y2="326.5" stroke="#c84a16" stroke-width="1.4" stroke-linecap="round" opacity="0.74"/>
<line x1="409.7" y1="331.8" x2="415.2" y2="328.9" stroke="#e07a24" stroke-width="2.3" stroke-linecap="round" opacity="0.45"/>
<line x1="464.0" y1="329.6" x2="470.6" y2="325.2" stroke="#d85a1c" stroke-width="1.6" stroke-linecap="round" opacity="0.79"/>
<line x1="447.5" y1="327.2" x2="450.7" y2="328.5" stroke="#d85a1c" stroke-width="1.7" stroke-linecap="round" opacity="0.45"/>
<line x1="445.2" y1="329.1" x2="448.3" y2="327.8" stroke="#d06a20" stroke-width="1.5" stroke-linecap="round" opacity="0.69"/>
<line x1="427.5" y1="327.4" x2="432.4" y2="329.2" stroke="#e07a24" stroke-width="2.1" stroke-linecap="round" opacity="0.50"/>
<line x1="428.6" y1="327.9" x2="432.7" y2="328.0" stroke="#d06a20" stroke-width="1.4" stroke-linecap="round" opacity="0.75"/>
<line x1="469.6" y1="324.2" x2="473.3" y2="325.6" stroke="#e07a24" stroke-width="1.9" stroke-linecap="round" opacity="0.62"/>
<line x1="407.7" y1="337.5" x2="411.9" y2="338.0" stroke="#a83414" stroke-width="1.7" stroke-linecap="round" opacity="0.81"/>
<line x1="436.3" y1="330.3" x2="441.6" y2="332.1" stroke="#c04418" stroke-width="1.3" stroke-linecap="round" opacity="0.64"/>
<line x1="448.4" y1="326.9" x2="452.2" y2="328.2" stroke="#d06a20" stroke-width="1.2" stroke-linecap="round" opacity="0.56"/>
<line x1="433.0" y1="328.4" x2="436.0" y2="327.0" stroke="#a83414" stroke-width="1.8" stroke-linecap="round" opacity="0.84"/>
<line x1="406.8" y1="333.2" x2="411.4" y2="333.8" stroke="#c84a16" stroke-width="1.8" stroke-linecap="round" opacity="0.51"/>
<line x1="402.6" y1="333.9" x2="405.5" y2="334.8" stroke="#d06a20" stroke-width="1.5" stroke-linecap="round" opacity="0.46"/>
<line x1="444.3" y1="328.8" x2="448.4" y2="326.8" stroke="#c04418" stroke-width="1.3" stroke-linecap="round" opacity="0.67"/>
<line x1="454.5" y1="327.5" x2="462.0" y2="328.5" stroke="#d06a20" stroke-width="1.3" stroke-linecap="round" opacity="0.84"/>
<line x1="425.3" y1="332.2" x2="428.6" y2="333.0" stroke="#c04418" stroke-width="2.1" stroke-linecap="round" opacity="0.68"/>
<line x1="446.2" y1="329.3" x2="451.2" y2="329.2" stroke="#c84a16" stroke-width="1.3" stroke-linecap="round" opacity="0.49"/>
<line x1="408.6" y1="331.1" x2="412.9" y2="332.6" stroke="#d06a20" stroke-width="1.8" stroke-linecap="round" opacity="0.63"/>
<line x1="462.0" y1="329.0" x2="465.4" y2="329.5" stroke="#c04418" stroke-width="1.5" stroke-linecap="round" opacity="0.49"/>
<line x1="401.6" y1="333.0" x2="408.5" y2="333.4" stroke="#e07a24" stroke-width="1.5" stroke-linecap="round" opacity="0.45"/>
<line x1="422.3" y1="329.7" x2="428.2" y2="327.2" stroke="#d85a1c" stroke-width="2.0" stroke-linecap="round" opacity="0.59"/>
<line x1="468.8" y1="323.9" x2="473.6" y2="322.2" stroke="#d06a20" stroke-width="1.7" stroke-linecap="round" opacity="0.77"/>
<line x1="467.7" y1="325.9" x2="474.9" y2="324.3" stroke="#c84a16" stroke-width="2.2" stroke-linecap="round" opacity="0.53"/>
<line x1="410.0" y1="328.0" x2="412.7" y2="326.3" stroke="#a83414" stroke-width="2.1" stroke-linecap="round" opacity="0.50"/>
<line x1="434.9" y1="333.1" x2="442.3" y2="334.9" stroke="#e07a24" stroke-width="1.9" stroke-linecap="round" opacity="0.65"/>
<line x1="423.3" y1="333.7" x2="427.9" y2="331.0" stroke="#c04418" stroke-width="1.5" stroke-linecap="round" opacity="0.69"/>
<line x1="450.2" y1="321.5" x2="454.5" y2="320.4" stroke="#d06a20" stroke-width="2.1" stroke-linecap="round" opacity="0.46"/>
<line x1="410.1" y1="330.6" x2="416.7" y2="328.0" stroke="#d85a1c" stroke-width="2.1" stroke-linecap="round" opacity="0.84"/>
<line x1="408.5" y1="331.4" x2="412.1" y2="331.2" stroke="#d06a20" stroke-width="2.1" stroke-linecap="round" opacity="0.83"/>
<line x1="450.7" y1="328.3" x2="453.9" y2="326.2" stroke="#e07a24" stroke-width="1.8" stroke-linecap="round" opacity="0.46"/>
<line x1="416.8" y1="333.2" x2="423.6" y2="332.8" stroke="#c84a16" stroke-width="1.8" stroke-linecap="round" opacity="0.85"/>
<line x1="411.8" y1="333.2" x2="415.8" y2="332.4" stroke="#d06a20" stroke-width="1.6" stroke-linecap="round" opacity="0.63"/>
<line x1="414.6" y1="327.5" x2="420.7" y2="323.4" stroke="#c84a16" stroke-width="1.8" stroke-linecap="round" opacity="0.80"/>
<line x1="459.0" y1="329.3" x2="464.7" y2="326.9" stroke="#d06a20" stroke-width="2.2" stroke-linecap="round" opacity="0.77"/>
<line x1="468.4" y1="324.9" x2="471.8" y2="323.6" stroke="#e07a24" stroke-width="2.3" stroke-linecap="round" opacity="0.84"/>
<line x1="439.7" y1="329.0" x2="447.0" y2="330.9" stroke="#a83414" stroke-width="1.8" stroke-linecap="round" opacity="0.46"/>
<line x1="425.3" y1="327.6" x2="430.2" y2="326.0" stroke="#c04418" stroke-width="1.4" stroke-linecap="round" opacity="0.80"/>
<line x1="431.7" y1="332.2" x2="437.9" y2="334.2" stroke="#e07a24" stroke-width="1.4" stroke-linecap="round" opacity="0.66"/>
<line x1="453.5" y1="327.9" x2="460.7" y2="328.5" stroke="#e07a24" stroke-width="1.8" stroke-linecap="round" opacity="0.73"/>
<line x1="456.1" y1="324.0" x2="463.2" y2="323.7" stroke="#d85a1c" stroke-width="1.8" stroke-linecap="round" opacity="0.79"/>
<line x1="441.4" y1="329.5" x2="445.9" y2="328.5" stroke="#c84a16" stroke-width="1.4" stroke-linecap="round" opacity="0.79"/>
<line x1="471.7" y1="322.3" x2="475.7" y2="322.1" stroke="#c84a16" stroke-width="1.2" stroke-linecap="round" opacity="0.60"/>
<line x1="439.8" y1="327.9" x2="442.9" y2="328.9" stroke="#c84a16" stroke-width="2.1" stroke-linecap="round" opacity="0.68"/>
<line x1="436.3" y1="328.4" x2="441.9" y2="327.3" stroke="#e07a24" stroke-width="1.5" stroke-linecap="round" opacity="0.64"/>
<line x1="409.4" y1="330.3" x2="414.4" y2="331.4" stroke="#e07a24" stroke-width="1.8" stroke-linecap="round" opacity="0.49"/>
<line x1="431.0" y1="331.1" x2="437.1" y2="333.5" stroke="#c04418" stroke-width="1.4" stroke-linecap="round" opacity="0.54"/>
<line x1="450.8" y1="327.8" x2="455.3" y2="326.7" stroke="#c84a16" stroke-width="1.7" stroke-linecap="round" opacity="0.65"/>
<line x1="443.1" y1="330.2" x2="449.6" y2="330.9" stroke="#e07a24" stroke-width="1.2" stroke-linecap="round" opacity="0.70"/>
<line x1="461.1" y1="323.7" x2="467.1" y2="323.3" stroke="#d06a20" stroke-width="1.8" stroke-linecap="round" opacity="0.54"/>
<line x1="416.0" y1="327.4" x2="419.5" y2="328.5" stroke="#d06a20" stroke-width="2.1" stroke-linecap="round" opacity="0.81"/>
<line x1="423.4" y1="329.0" x2="427.7" y2="330.5" stroke="#d85a1c" stroke-width="2.1" stroke-linecap="round" opacity="0.53"/>
<line x1="407.2" y1="332.4" x2="410.5" y2="331.7" stroke="#e07a24" stroke-width="2.1" stroke-linecap="round" opacity="0.62"/>
<line x1="458.5" y1="325.9" x2="462.0" y2="325.2" stroke="#d06a20" stroke-width="2.1" stroke-linecap="round" opacity="0.49"/>
<line x1="442.2" y1="325.3" x2="447.0" y2="325.8" stroke="#d06a20" stroke-width="2.0" stroke-linecap="round" opacity="0.65"/>
<line x1="450.7" y1="331.1" x2="454.1" y2="329.1" stroke="#c04418" stroke-width="1.2" stroke-linecap="round" opacity="0.75"/>
<line x1="445.4" y1="330.3" x2="448.9" y2="328.4" stroke="#d85a1c" stroke-width="2.1" stroke-linecap="round" opacity="0.85"/>
<line x1="468.6" y1="324.2" x2="471.6" y2="322.4" stroke="#d06a20" stroke-width="1.7" stroke-linecap="round" opacity="0.76"/>
<line x1="424.2" y1="326.9" x2="429.3" y2="326.9" stroke="#c04418" stroke-width="1.9" stroke-linecap="round" opacity="0.47"/>
<line x1="414.8" y1="331.3" x2="419.7" y2="330.1" stroke="#a83414" stroke-width="1.6" stroke-linecap="round" opacity="0.53"/>
<line x1="408.3" y1="350.4" x2="410.1" y2="352.8" stroke="#d06a20" stroke-width="2.4" stroke-linecap="round" opacity="0.81"/>
<line x1="437.7" y1="352.0" x2="441.6" y2="352.7" stroke="#a83414" stroke-width="2.3" stroke-linecap="round" opacity="0.55"/>
<line x1="436.6" y1="356.8" x2="441.6" y2="361.6" stroke="#e07a24" stroke-width="1.5" stroke-linecap="round" opacity="0.58"/>
<line x1="422.5" y1="346.4" x2="426.2" y2="342.8" stroke="#d85a1c" stroke-width="2.2" stroke-linecap="round" opacity="0.48"/>
<line x1="415.0" y1="349.1" x2="417.9" y2="348.1" stroke="#d06a20" stroke-width="2.4" stroke-linecap="round" opacity="0.47"/>
<line x1="412.4" y1="362.9" x2="415.9" y2="360.1" stroke="#e07a24" stroke-width="2.0" stroke-linecap="round" opacity="0.66"/>
<line x1="416.8" y1="364.0" x2="422.3" y2="366.9" stroke="#e07a24" stroke-width="2.5" stroke-linecap="round" opacity="0.46"/>
<line x1="425.4" y1="356.7" x2="429.5" y2="355.7" stroke="#c04418" stroke-width="2.2" stroke-linecap="round" opacity="0.71"/>
<line x1="402.4" y1="343.2" x2="406.5" y2="341.6" stroke="#c84a16" stroke-width="2.0" stroke-linecap="round" opacity="0.84"/>
<line x1="423.6" y1="363.9" x2="428.1" y2="368.0" stroke="#c04418" stroke-width="2.0" stroke-linecap="round" opacity="0.72"/>
<line x1="438.3" y1="346.8" x2="445.7" y2="344.7" stroke="#d85a1c" stroke-width="2.3" stroke-linecap="round" opacity="0.67"/>
<line x1="424.7" y1="348.0" x2="429.4" y2="345.3" stroke="#e07a24" stroke-width="2.1" stroke-linecap="round" opacity="0.60"/>
<line x1="412.9" y1="354.3" x2="417.9" y2="351.5" stroke="#d06a20" stroke-width="2.2" stroke-linecap="round" opacity="0.46"/>
<line x1="431.4" y1="352.4" x2="437.4" y2="351.1" stroke="#d06a20" stroke-width="1.8" stroke-linecap="round" opacity="0.81"/>
<line x1="430.4" y1="337.4" x2="434.3" y2="344.4" stroke="#c04418" stroke-width="2.3" stroke-linecap="round" opacity="0.54"/>
<line x1="429.3" y1="343.0" x2="432.5" y2="337.0" stroke="#c04418" stroke-width="2.4" stroke-linecap="round" opacity="0.74"/>
<line x1="419.8" y1="363.4" x2="426.7" y2="365.2" stroke="#c04418" stroke-width="1.5" stroke-linecap="round" opacity="0.62"/>
<line x1="406.5" y1="360.1" x2="409.7" y2="356.6" stroke="#a83414" stroke-width="1.9" stroke-linecap="round" opacity="0.72"/>
<line x1="419.3" y1="343.3" x2="425.1" y2="342.2" stroke="#d06a20" stroke-width="2.0" stroke-linecap="round" opacity="0.85"/>
<line x1="438.2" y1="356.6" x2="440.7" y2="353.2" stroke="#a83414" stroke-width="2.3" stroke-linecap="round" opacity="0.70"/>
<line x1="415.6" y1="343.6" x2="422.0" y2="344.6" stroke="#c84a16" stroke-width="1.6" stroke-linecap="round" opacity="0.56"/>
<line x1="411.1" y1="362.7" x2="416.2" y2="364.6" stroke="#d85a1c" stroke-width="2.4" stroke-linecap="round" opacity="0.47"/>
<line x1="404.3" y1="343.6" x2="409.2" y2="345.1" stroke="#c04418" stroke-width="1.6" stroke-linecap="round" opacity="0.56"/>
<line x1="430.7" y1="361.6" x2="433.8" y2="359.3" stroke="#a83414" stroke-width="1.9" stroke-linecap="round" opacity="0.59"/>
<line x1="414.9" y1="349.8" x2="417.2" y2="352.7" stroke="#c04418" stroke-width="1.9" stroke-linecap="round" opacity="0.78"/>
<line x1="433.8" y1="357.5" x2="438.2" y2="360.5" stroke="#e07a24" stroke-width="2.3" stroke-linecap="round" opacity="0.60"/>
<line x1="426.8" y1="363.7" x2="431.4" y2="364.2" stroke="#d06a20" stroke-width="2.3" stroke-linecap="round" opacity="0.52"/>
<line x1="426.8" y1="352.3" x2="431.7" y2="350.1" stroke="#c84a16" stroke-width="1.5" stroke-linecap="round" opacity="0.68"/>
<line x1="420.4" y1="355.2" x2="424.0" y2="357.9" stroke="#c04418" stroke-width="1.7" stroke-linecap="round" opacity="0.81"/>
<line x1="424.9" y1="355.5" x2="429.4" y2="358.7" stroke="#a83414" stroke-width="1.7" stroke-linecap="round" opacity="0.51"/>
<line x1="415.6" y1="356.3" x2="418.5" y2="352.5" stroke="#d06a20" stroke-width="1.9" stroke-linecap="round" opacity="0.69"/>
<line x1="436.3" y1="355.2" x2="440.7" y2="355.6" stroke="#a83414" stroke-width="1.9" stroke-linecap="round" opacity="0.54"/>
<line x1="438.8" y1="356.4" x2="441.8" y2="351.7" stroke="#a83414" stroke-width="1.4" stroke-linecap="round" opacity="0.72"/>
<line x1="424.2" y1="358.3" x2="430.6" y2="356.2" stroke="#e07a24" stroke-width="2.0" stroke-linecap="round" opacity="0.78"/>
<line x1="423.4" y1="340.9" x2="427.5" y2="346.3" stroke="#a83414" stroke-width="2.3" stroke-linecap="round" opacity="0.54"/>
<line x1="404.2" y1="340.4" x2="406.0" y2="336.4" stroke="#e07a24" stroke-width="1.5" stroke-linecap="round" opacity="0.67"/>
<line x1="431.9" y1="338.4" x2="434.8" y2="340.2" stroke="#a83414" stroke-width="1.5" stroke-linecap="round" opacity="0.70"/>
<line x1="407.5" y1="356.9" x2="412.6" y2="353.3" stroke="#d85a1c" stroke-width="1.9" stroke-linecap="round" opacity="0.81"/>
<line x1="414.9" y1="348.9" x2="418.4" y2="352.0" stroke="#a83414" stroke-width="2.1" stroke-linecap="round" opacity="0.65"/>
<line x1="422.4" y1="356.2" x2="426.0" y2="361.7" stroke="#e07a24" stroke-width="2.2" stroke-linecap="round" opacity="0.84"/>
<line x1="415.3" y1="336.1" x2="418.0" y2="332.0" stroke="#e07a24" stroke-width="2.5" stroke-linecap="round" opacity="0.71"/>
<line x1="421.9" y1="355.9" x2="428.8" y2="354.6" stroke="#e07a24" stroke-width="2.4" stroke-linecap="round" opacity="0.55"/>
<line x1="408.2" y1="353.8" x2="414.0" y2="351.1" stroke="#e07a24" stroke-width="1.9" stroke-linecap="round" opacity="0.57"/>
<line x1="438.9" y1="337.7" x2="441.6" y2="334.0" stroke="#d06a20" stroke-width="1.6" stroke-linecap="round" opacity="0.82"/>
<line x1="436.7" y1="357.1" x2="439.7" y2="356.9" stroke="#c04418" stroke-width="1.7" stroke-linecap="round" opacity="0.53"/>
<line x1="415.7" y1="352.5" x2="421.6" y2="352.1" stroke="#c84a16" stroke-width="1.6" stroke-linecap="round" opacity="0.52"/>
<line x1="412.7" y1="340.8" x2="418.8" y2="337.9" stroke="#c84a16" stroke-width="2.4" stroke-linecap="round" opacity="0.67"/>
<line x1="434.4" y1="349.6" x2="436.7" y2="354.0" stroke="#d06a20" stroke-width="2.0" stroke-linecap="round" opacity="0.83"/>
<line x1="420.3" y1="342.2" x2="421.9" y2="345.0" stroke="#e07a24" stroke-width="2.5" stroke-linecap="round" opacity="0.77"/>
<line x1="431.4" y1="358.1" x2="433.1" y2="360.9" stroke="#c04418" stroke-width="2.4" stroke-linecap="round" opacity="0.81"/>
<line x1="419.1" y1="342.9" x2="422.3" y2="346.9" stroke="#e07a24" stroke-width="1.6" stroke-linecap="round" opacity="0.58"/>
<line x1="411.9" y1="360.3" x2="417.1" y2="362.1" stroke="#c84a16" stroke-width="1.7" stroke-linecap="round" opacity="0.66"/>
<line x1="407.7" y1="357.6" x2="409.9" y2="359.7" stroke="#d85a1c" stroke-width="2.3" stroke-linecap="round" opacity="0.48"/>
<line x1="412.3" y1="356.1" x2="415.7" y2="355.9" stroke="#e07a24" stroke-width="1.5" stroke-linecap="round" opacity="0.75"/>
<line x1="422.6" y1="350.2" x2="424.9" y2="348.1" stroke="#d85a1c" stroke-width="2.4" stroke-linecap="round" opacity="0.49"/>
<line x1="433.4" y1="341.8" x2="439.1" y2="342.2" stroke="#d85a1c" stroke-width="2.4" stroke-linecap="round" opacity="0.84"/>
<line x1="414.0" y1="347.4" x2="416.1" y2="352.7" stroke="#d06a20" stroke-width="2.2" stroke-linecap="round" opacity="0.59"/>
<line x1="428.1" y1="339.0" x2="433.1" y2="338.5" stroke="#c04418" stroke-width="2.1" stroke-linecap="round" opacity="0.45"/>
<line x1="416.3" y1="355.9" x2="420.5" y2="356.5" stroke="#e07a24" stroke-width="2.2" stroke-linecap="round" opacity="0.79"/>
<line x1="434.1" y1="356.1" x2="439.1" y2="350.6" stroke="#d06a20" stroke-width="1.8" stroke-linecap="round" opacity="0.67"/>
<line x1="413.3" y1="345.4" x2="417.9" y2="347.4" stroke="#a83414" stroke-width="1.6" stroke-linecap="round" opacity="0.60"/>
<line x1="406.2" y1="344.7" x2="410.5" y2="344.4" stroke="#d06a20" stroke-width="1.8" stroke-linecap="round" opacity="0.78"/>
<line x1="405.5" y1="339.9" x2="408.7" y2="341.4" stroke="#d06a20" stroke-width="1.6" stroke-linecap="round" opacity="0.53"/>
<line x1="403.4" y1="349.0" x2="407.1" y2="343.6" stroke="#c04418" stroke-width="1.6" stroke-linecap="round" opacity="0.50"/>
<line x1="417.5" y1="338.0" x2="424.9" y2="336.7" stroke="#c84a16" stroke-width="1.6" stroke-linecap="round" opacity="0.53"/>
<line x1="407.6" y1="355.4" x2="410.5" y2="359.9" stroke="#c84a16" stroke-width="1.4" stroke-linecap="round" opacity="0.61"/>
<line x1="428.6" y1="363.5" x2="435.0" y2="366.1" stroke="#c84a16" stroke-width="2.0" stroke-linecap="round" opacity="0.55"/>
<line x1="409.2" y1="344.6" x2="414.3" y2="345.3" stroke="#d85a1c" stroke-width="2.0" stroke-linecap="round" opacity="0.77"/>
<line x1="433.4" y1="353.1" x2="436.4" y2="355.4" stroke="#a83414" stroke-width="2.0" stroke-linecap="round" opacity="0.59"/>
<line x1="421.0" y1="340.0" x2="423.6" y2="346.0" stroke="#c84a16" stroke-width="2.5" stroke-linecap="round" opacity="0.73"/>
<line x1="437.6" y1="351.9" x2="440.5" y2="353.1" stroke="#c04418" stroke-width="1.5" stroke-linecap="round" opacity="0.64"/>
<line x1="417.9" y1="345.3" x2="420.0" y2="348.0" stroke="#a83414" stroke-width="1.9" stroke-linecap="round" opacity="0.50"/>
<line x1="439.0" y1="339.8" x2="446.5" y2="340.6" stroke="#c84a16" stroke-width="1.5" stroke-linecap="round" opacity="0.82"/>
<line x1="408.4" y1="356.9" x2="415.3" y2="354.0" stroke="#d85a1c" stroke-width="1.5" stroke-linecap="round" opacity="0.78"/>
<line x1="413.0" y1="361.1" x2="417.1" y2="361.9" stroke="#d85a1c" stroke-width="1.6" stroke-linecap="round" opacity="0.67"/>
<line x1="404.9" y1="336.9" x2="406.4" y2="340.5" stroke="#d06a20" stroke-width="1.6" stroke-linecap="round" opacity="0.75"/>
<line x1="434.2" y1="361.4" x2="439.9" y2="363.4" stroke="#c04418" stroke-width="1.6" stroke-linecap="round" opacity="0.61"/>
<line x1="403.3" y1="350.8" x2="406.8" y2="350.0" stroke="#a83414" stroke-width="2.0" stroke-linecap="round" opacity="0.56"/>
<line x1="423.6" y1="345.3" x2="426.4" y2="339.7" stroke="#d06a20" stroke-width="2.3" stroke-linecap="round" opacity="0.61"/>
<line x1="420.9" y1="338.9" x2="423.6" y2="342.7" stroke="#d06a20" stroke-width="2.0" stroke-linecap="round" opacity="0.61"/>
<line x1="412.7" y1="360.9" x2="415.7" y2="365.3" stroke="#d06a20" stroke-width="1.8" stroke-linecap="round" opacity="0.62"/>
<line x1="423.5" y1="361.3" x2="429.1" y2="361.7" stroke="#e07a24" stroke-width="1.9" stroke-linecap="round" opacity="0.46"/>
<line x1="436.5" y1="344.3" x2="442.5" y2="343.3" stroke="#e07a24" stroke-width="2.1" stroke-linecap="round" opacity="0.75"/>
<line x1="413.6" y1="352.6" x2="415.7" y2="350.0" stroke="#e07a24" stroke-width="1.7" stroke-linecap="round" opacity="0.80"/>
<line x1="439.0" y1="349.3" x2="440.9" y2="352.3" stroke="#c84a16" stroke-width="1.7" stroke-linecap="round" opacity="0.61"/>
<line x1="411.0" y1="337.9" x2="414.3" y2="344.7" stroke="#d06a20" stroke-width="1.8" stroke-linecap="round" opacity="0.67"/>
<line x1="423.4" y1="340.6" x2="429.6" y2="339.4" stroke="#c04418" stroke-width="2.4" stroke-linecap="round" opacity="0.49"/>
<line x1="432.1" y1="339.5" x2="434.8" y2="344.5" stroke="#c04418" stroke-width="1.7" stroke-linecap="round" opacity="0.74"/>
<line x1="402.9" y1="340.8" x2="408.1" y2="340.2" stroke="#c84a16" stroke-width="1.8" stroke-linecap="round" opacity="0.59"/>
<line x1="424.2" y1="337.3" x2="426.1" y2="339.9" stroke="#a83414" stroke-width="1.8" stroke-linecap="round" opacity="0.51"/>
<line x1="431.5" y1="357.7" x2="437.1" y2="352.9" stroke="#d06a20" stroke-width="2.4" stroke-linecap="round" opacity="0.53"/>
<line x1="433.8" y1="345.9" x2="437.6" y2="342.1" stroke="#d06a20" stroke-width="2.5" stroke-linecap="round" opacity="0.53"/>
<line x1="426.0" y1="341.4" x2="429.5" y2="334.8" stroke="#c04418" stroke-width="1.7" stroke-linecap="round" opacity="0.78"/>
<line x1="438.5" y1="343.7" x2="441.7" y2="347.7" stroke="#a83414" stroke-width="2.2" stroke-linecap="round" opacity="0.83"/>
<line x1="418.9" y1="338.2" x2="422.6" y2="336.4" stroke="#d06a20" stroke-width="2.2" stroke-linecap="round" opacity="0.56"/>
<line x1="429.4" y1="350.0" x2="433.2" y2="347.7" stroke="#d06a20" stroke-width="2.0" stroke-linecap="round" opacity="0.50"/>
<line x1="421.6" y1="363.4" x2="427.0" y2="358.2" stroke="#d85a1c" stroke-width="1.7" stroke-linecap="round" opacity="0.71"/>
<line x1="405.4" y1="363.5" x2="410.6" y2="363.9" stroke="#c84a16" stroke-width="2.4" stroke-linecap="round" opacity="0.45"/>
<line x1="424.3" y1="351.0" x2="429.3" y2="351.9" stroke="#d85a1c" stroke-width="1.7" stroke-linecap="round" opacity="0.75"/>
<line x1="411.3" y1="343.8" x2="415.5" y2="339.9" stroke="#d85a1c" stroke-width="2.5" stroke-linecap="round" opacity="0.46"/>
<line x1="419.5" y1="357.0" x2="422.1" y2="361.2" stroke="#e07a24" stroke-width="1.5" stroke-linecap="round" opacity="0.48"/>
<line x1="431.5" y1="361.5" x2="436.1" y2="361.3" stroke="#c04418" stroke-width="2.0" stroke-linecap="round" opacity="0.65"/>
<line x1="434.1" y1="355.2" x2="436.7" y2="360.1" stroke="#d85a1c" stroke-width="2.1" stroke-linecap="round" opacity="0.76"/>
<line x1="406.3" y1="348.2" x2="412.6" y2="348.9" stroke="#a83414" stroke-width="2.3" stroke-linecap="round" opacity="0.77"/>
<line x1="411.0" y1="349.7" x2="415.0" y2="350.5" stroke="#e07a24" stroke-width="1.7" stroke-linecap="round" opacity="0.53"/>
<line x1="438.9" y1="337.5" x2="442.1" y2="341.6" stroke="#a83414" stroke-width="1.6" stroke-linecap="round" opacity="0.46"/>
<line x1="420.9" y1="348.2" x2="425.2" y2="345.4" stroke="#c04418" stroke-width="1.5" stroke-linecap="round" opacity="0.81"/>
<line x1="423.6" y1="351.2" x2="429.2" y2="347.1" stroke="#d85a1c" stroke-width="1.5" stroke-linecap="round" opacity="0.62"/>
<line x1="428.4" y1="359.0" x2="433.7" y2="363.1" stroke="#c84a16" stroke-width="1.9" stroke-linecap="round" opacity="0.71"/>
<line x1="421.4" y1="346.6" x2="425.6" y2="346.6" stroke="#d06a20" stroke-width="2.3" stroke-linecap="round" opacity="0.76"/>
<line x1="453.9" y1="385.4" x2="452.5" y2="389.2" stroke="#c04418" stroke-width="1.3" stroke-linecap="round" opacity="0.70"/>
<line x1="445.4" y1="361.9" x2="443.2" y2="367.1" stroke="#c04418" stroke-width="1.5" stroke-linecap="round" opacity="0.76"/>
<line x1="450.6" y1="383.9" x2="455.6" y2="384.7" stroke="#c04418" stroke-width="1.9" stroke-linecap="round" opacity="0.69"/>
<line x1="455.9" y1="346.2" x2="455.4" y2="349.8" stroke="#e07a24" stroke-width="1.7" stroke-linecap="round" opacity="0.77"/>
<line x1="442.1" y1="377.5" x2="448.2" y2="378.0" stroke="#e07a24" stroke-width="1.8" stroke-linecap="round" opacity="0.80"/>
<line x1="444.0" y1="351.7" x2="441.9" y2="358.9" stroke="#d85a1c" stroke-width="1.7" stroke-linecap="round" opacity="0.56"/>
<line x1="449.0" y1="351.0" x2="452.1" y2="353.7" stroke="#d85a1c" stroke-width="2.1" stroke-linecap="round" opacity="0.72"/>
<line x1="441.4" y1="368.4" x2="445.4" y2="373.9" stroke="#e07a24" stroke-width="2.3" stroke-linecap="round" opacity="0.67"/>
<line x1="452.1" y1="350.2" x2="452.8" y2="353.5" stroke="#a83414" stroke-width="2.2" stroke-linecap="round" opacity="0.65"/>
<line x1="442.9" y1="363.1" x2="444.5" y2="368.7" stroke="#d85a1c" stroke-width="1.5" stroke-linecap="round" opacity="0.54"/>
<line x1="452.3" y1="382.3" x2="453.2" y2="389.1" stroke="#c04418" stroke-width="1.2" stroke-linecap="round" opacity="0.53"/>
<line x1="446.7" y1="374.3" x2="446.8" y2="378.9" stroke="#c84a16" stroke-width="1.9" stroke-linecap="round" opacity="0.52"/>
<line x1="442.9" y1="359.8" x2="448.3" y2="361.2" stroke="#d85a1c" stroke-width="1.5" stroke-linecap="round" opacity="0.57"/>
<line x1="444.7" y1="365.2" x2="445.2" y2="369.4" stroke="#d06a20" stroke-width="1.6" stroke-linecap="round" opacity="0.75"/>
<line x1="449.0" y1="349.2" x2="450.8" y2="352.3" stroke="#a83414" stroke-width="1.4" stroke-linecap="round" opacity="0.52"/>
<line x1="444.8" y1="375.3" x2="445.8" y2="378.3" stroke="#c84a16" stroke-width="1.2" stroke-linecap="round" opacity="0.70"/>
<line x1="446.9" y1="352.4" x2="450.1" y2="358.9" stroke="#a83414" stroke-width="1.9" stroke-linecap="round" opacity="0.78"/>
<line x1="452.2" y1="350.7" x2="454.4" y2="353.3" stroke="#e07a24" stroke-width="1.7" stroke-linecap="round" opacity="0.60"/>
<line x1="454.3" y1="349.7" x2="453.1" y2="353.7" stroke="#d85a1c" stroke-width="1.7" stroke-linecap="round" opacity="0.47"/>
<line x1="445.0" y1="357.2" x2="448.1" y2="360.8" stroke="#d85a1c" stroke-width="1.7" stroke-linecap="round" opacity="0.50"/>
<line x1="450.1" y1="352.1" x2="457.4" y2="353.9" stroke="#c04418" stroke-width="2.2" stroke-linecap="round" opacity="0.51"/>
<line x1="444.8" y1="372.1" x2="443.5" y2="378.6" stroke="#c04418" stroke-width="1.2" stroke-linecap="round" opacity="0.54"/>
<line x1="451.9" y1="347.6" x2="457.8" y2="349.9" stroke="#e07a24" stroke-width="1.6" stroke-linecap="round" opacity="0.54"/>
<line x1="455.6" y1="348.4" x2="459.6" y2="349.0" stroke="#c04418" stroke-width="1.9" stroke-linecap="round" opacity="0.56"/>
<line x1="443.1" y1="373.8" x2="448.4" y2="378.9" stroke="#e07a24" stroke-width="1.2" stroke-linecap="round" opacity="0.45"/>
<line x1="442.5" y1="366.9" x2="450.0" y2="369.2" stroke="#d85a1c" stroke-width="1.5" stroke-linecap="round" opacity="0.50"/>
<line x1="445.0" y1="380.2" x2="452.9" y2="380.3" stroke="#c84a16" stroke-width="1.7" stroke-linecap="round" opacity="0.66"/>
<line x1="441.8" y1="361.8" x2="439.2" y2="368.5" stroke="#a83414" stroke-width="1.5" stroke-linecap="round" opacity="0.44"/>
<line x1="457.4" y1="384.0" x2="462.2" y2="385.5" stroke="#d85a1c" stroke-width="2.1" stroke-linecap="round" opacity="0.46"/>
<line x1="442.2" y1="359.0" x2="446.2" y2="361.7" stroke="#d06a20" stroke-width="1.9" stroke-linecap="round" opacity="0.60"/>
<line x1="443.0" y1="359.4" x2="443.8" y2="366.9" stroke="#c04418" stroke-width="2.3" stroke-linecap="round" opacity="0.73"/>
<line x1="451.6" y1="350.9" x2="452.8" y2="356.4" stroke="#c04418" stroke-width="1.4" stroke-linecap="round" opacity="0.75"/>
<line x1="453.1" y1="348.9" x2="453.0" y2="354.5" stroke="#e07a24" stroke-width="1.5" stroke-linecap="round" opacity="0.65"/>
<line x1="443.9" y1="372.8" x2="450.6" y2="375.7" stroke="#c84a16" stroke-width="2.1" stroke-linecap="round" opacity="0.63"/>
<line x1="442.9" y1="368.7" x2="442.7" y2="375.8" stroke="#d85a1c" stroke-width="1.4" stroke-linecap="round" opacity="0.65"/>
<line x1="443.8" y1="374.2" x2="444.7" y2="379.5" stroke="#d85a1c" stroke-width="1.5" stroke-linecap="round" opacity="0.51"/>
<line x1="446.6" y1="378.1" x2="452.7" y2="379.8" stroke="#d85a1c" stroke-width="2.0" stroke-linecap="round" opacity="0.45"/>
<line x1="455.5" y1="387.2" x2="463.2" y2="389.1" stroke="#a83414" stroke-width="2.2" stroke-linecap="round" opacity="0.73"/>
<line x1="451.7" y1="349.4" x2="450.8" y2="354.5" stroke="#d06a20" stroke-width="1.5" stroke-linecap="round" opacity="0.56"/>
<line x1="444.4" y1="354.9" x2="445.3" y2="359.8" stroke="#c84a16" stroke-width="1.5" stroke-linecap="round" opacity="0.75"/>
<line x1="444.2" y1="367.8" x2="442.8" y2="375.1" stroke="#e07a24" stroke-width="1.3" stroke-linecap="round" opacity="0.53"/>
<line x1="456.3" y1="384.6" x2="461.6" y2="387.8" stroke="#d85a1c" stroke-width="1.3" stroke-linecap="round" opacity="0.48"/>
<line x1="442.4" y1="362.6" x2="442.5" y2="365.7" stroke="#d06a20" stroke-width="1.3" stroke-linecap="round" opacity="0.47"/>
<line x1="444.0" y1="367.0" x2="448.2" y2="373.0" stroke="#e07a24" stroke-width="1.6" stroke-linecap="round" opacity="0.62"/>
<line x1="443.7" y1="364.6" x2="449.9" y2="368.1" stroke="#d85a1c" stroke-width="2.2" stroke-linecap="round" opacity="0.75"/>
<line x1="455.1" y1="348.0" x2="461.3" y2="350.3" stroke="#c04418" stroke-width="2.2" stroke-linecap="round" opacity="0.62"/>
<line x1="445.2" y1="356.4" x2="450.9" y2="357.1" stroke="#e07a24" stroke-width="1.2" stroke-linecap="round" opacity="0.48"/>
<line x1="457.9" y1="347.3" x2="457.8" y2="354.3" stroke="#d06a20" stroke-width="1.7" stroke-linecap="round" opacity="0.52"/>
<line x1="441.7" y1="361.8" x2="439.7" y2="368.3" stroke="#e07a24" stroke-width="1.6" stroke-linecap="round" opacity="0.68"/>
<line x1="447.7" y1="379.2" x2="452.9" y2="381.8" stroke="#e07a24" stroke-width="2.0" stroke-linecap="round" opacity="0.60"/>
<line x1="471.6" y1="353.6" x2="474.1" y2="358.3" stroke="#c04418" stroke-width="2.2" stroke-linecap="round" opacity="0.40"/>
<line x1="461.1" y1="350.0" x2="461.0" y2="354.0" stroke="#c84a16" stroke-width="1.5" stroke-linecap="round" opacity="0.36"/>
<line x1="472.1" y1="358.4" x2="475.0" y2="361.0" stroke="#e07a24" stroke-width="1.8" stroke-linecap="round" opacity="0.42"/>
<line x1="467.1" y1="355.0" x2="466.4" y2="359.0" stroke="#a83414" stroke-width="1.3" stroke-linecap="round" opacity="0.48"/>
<line x1="471.8" y1="372.2" x2="473.9" y2="379.6" stroke="#d06a20" stroke-width="2.2" stroke-linecap="round" opacity="0.54"/>
<line x1="458.7" y1="349.6" x2="458.2" y2="357.0" stroke="#c84a16" stroke-width="2.3" stroke-linecap="round" opacity="0.34"/>
<line x1="470.1" y1="375.3" x2="470.7" y2="379.3" stroke="#e07a24" stroke-width="2.1" stroke-linecap="round" opacity="0.49"/>
<line x1="472.3" y1="366.0" x2="472.6" y2="373.2" stroke="#e07a24" stroke-width="1.7" stroke-linecap="round" opacity="0.44"/>
<line x1="463.9" y1="382.5" x2="468.1" y2="386.4" stroke="#c04418" stroke-width="1.8" stroke-linecap="round" opacity="0.44"/>
<line x1="470.2" y1="354.2" x2="471.2" y2="358.7" stroke="#a83414" stroke-width="2.3" stroke-linecap="round" opacity="0.52"/>
<line x1="470.1" y1="351.0" x2="469.3" y2="355.9" stroke="#d85a1c" stroke-width="2.0" stroke-linecap="round" opacity="0.57"/>
<line x1="464.4" y1="351.3" x2="468.9" y2="356.6" stroke="#c04418" stroke-width="2.1" stroke-linecap="round" opacity="0.45"/>
<line x1="461.1" y1="386.2" x2="464.6" y2="391.7" stroke="#a83414" stroke-width="1.7" stroke-linecap="round" opacity="0.46"/>
<line x1="464.6" y1="384.5" x2="468.9" y2="388.9" stroke="#c84a16" stroke-width="1.7" stroke-linecap="round" opacity="0.53"/>
<line x1="465.2" y1="384.4" x2="464.7" y2="387.6" stroke="#c04418" stroke-width="2.1" stroke-linecap="round" opacity="0.35"/>
<line x1="472.0" y1="358.5" x2="471.2" y2="363.1" stroke="#a83414" stroke-width="1.3" stroke-linecap="round" opacity="0.35"/>
<line x1="473.3" y1="357.8" x2="478.6" y2="363.1" stroke="#d06a20" stroke-width="1.4" stroke-linecap="round" opacity="0.49"/>
<line x1="463.5" y1="382.6" x2="465.7" y2="388.6" stroke="#c04418" stroke-width="2.1" stroke-linecap="round" opacity="0.51"/>
<line x1="467.1" y1="382.0" x2="469.5" y2="385.3" stroke="#d85a1c" stroke-width="1.4" stroke-linecap="round" opacity="0.47"/>
<line x1="459.7" y1="348.3" x2="460.3" y2="353.0" stroke="#a83414" stroke-width="1.4" stroke-linecap="round" opacity="0.60"/>
<line x1="470.2" y1="375.3" x2="471.9" y2="379.6" stroke="#d85a1c" stroke-width="1.3" stroke-linecap="round" opacity="0.38"/>
<line x1="470.9" y1="357.9" x2="473.4" y2="360.7" stroke="#c04418" stroke-width="1.6" stroke-linecap="round" opacity="0.51"/>
<line x1="467.0" y1="351.4" x2="470.7" y2="357.7" stroke="#c04418" stroke-width="1.9" stroke-linecap="round" opacity="0.44"/>
<line x1="459.2" y1="386.2" x2="461.2" y2="391.9" stroke="#c04418" stroke-width="1.6" stroke-linecap="round" opacity="0.40"/>
<line x1="471.8" y1="370.0" x2="476.6" y2="374.1" stroke="#c84a16" stroke-width="1.5" stroke-linecap="round" opacity="0.42"/>
<line x1="413.3" y1="393.8" x2="418.1" y2="392.0" stroke="#c84a16" stroke-width="1.3" stroke-linecap="round" opacity="0.66"/>
<line x1="426.2" y1="387.7" x2="427.5" y2="385.0" stroke="#c84a16" stroke-width="1.9" stroke-linecap="round" opacity="0.54"/>
<line x1="444.4" y1="395.9" x2="450.6" y2="395.4" stroke="#a83414" stroke-width="1.4" stroke-linecap="round" opacity="0.60"/>
<line x1="426.6" y1="384.6" x2="428.3" y2="380.8" stroke="#e07a24" stroke-width="1.7" stroke-linecap="round" opacity="0.49"/>
<line x1="430.6" y1="385.5" x2="438.0" y2="388.4" stroke="#d06a20" stroke-width="2.2" stroke-linecap="round" opacity="0.61"/>
<line x1="429.6" y1="385.6" x2="432.8" y2="381.0" stroke="#c04418" stroke-width="1.2" stroke-linecap="round" opacity="0.78"/>
<line x1="438.6" y1="384.8" x2="441.3" y2="390.5" stroke="#e07a24" stroke-width="2.1" stroke-linecap="round" opacity="0.45"/>
<line x1="429.3" y1="385.4" x2="433.8" y2="391.7" stroke="#c04418" stroke-width="1.3" stroke-linecap="round" opacity="0.57"/>
<line x1="433.8" y1="384.9" x2="435.1" y2="388.1" stroke="#c84a16" stroke-width="1.3" stroke-linecap="round" opacity="0.63"/>
<line x1="413.9" y1="395.6" x2="417.4" y2="398.4" stroke="#d85a1c" stroke-width="1.8" stroke-linecap="round" opacity="0.59"/>
<line x1="444.2" y1="400.0" x2="446.5" y2="397.3" stroke="#c04418" stroke-width="2.1" stroke-linecap="round" opacity="0.60"/>
<line x1="411.9" y1="393.6" x2="414.6" y2="399.1" stroke="#d06a20" stroke-width="2.3" stroke-linecap="round" opacity="0.57"/>
<line x1="412.6" y1="402.7" x2="418.4" y2="406.0" stroke="#d85a1c" stroke-width="1.5" stroke-linecap="round" opacity="0.65"/>
<line x1="419.7" y1="385.8" x2="424.3" y2="389.2" stroke="#c04418" stroke-width="1.6" stroke-linecap="round" opacity="0.52"/>
<line x1="412.6" y1="390.5" x2="415.6" y2="394.7" stroke="#d85a1c" stroke-width="1.9" stroke-linecap="round" opacity="0.75"/>
<line x1="443.2" y1="397.6" x2="450.4" y2="395.7" stroke="#a83414" stroke-width="1.5" stroke-linecap="round" opacity="0.64"/>
<line x1="417.2" y1="392.1" x2="421.8" y2="393.9" stroke="#a83414" stroke-width="1.7" stroke-linecap="round" opacity="0.42"/>
<line x1="444.5" y1="393.8" x2="450.1" y2="392.4" stroke="#d85a1c" stroke-width="1.9" stroke-linecap="round" opacity="0.69"/>
<line x1="408.7" y1="402.2" x2="414.3" y2="402.6" stroke="#d06a20" stroke-width="1.2" stroke-linecap="round" opacity="0.56"/>
<line x1="446.9" y1="399.4" x2="454.3" y2="396.9" stroke="#c84a16" stroke-width="2.0" stroke-linecap="round" opacity="0.74"/>
<line x1="414.6" y1="390.7" x2="417.0" y2="387.6" stroke="#a83414" stroke-width="1.3" stroke-linecap="round" opacity="0.44"/>
<line x1="415.7" y1="392.3" x2="419.0" y2="396.2" stroke="#e07a24" stroke-width="1.3" stroke-linecap="round" opacity="0.63"/>
<line x1="410.9" y1="396.8" x2="412.8" y2="393.0" stroke="#d85a1c" stroke-width="2.1" stroke-linecap="round" opacity="0.72"/>
<line x1="437.7" y1="387.5" x2="440.8" y2="388.4" stroke="#c84a16" stroke-width="1.4" stroke-linecap="round" opacity="0.54"/>
<line x1="437.1" y1="387.1" x2="441.1" y2="387.5" stroke="#d06a20" stroke-width="1.7" stroke-linecap="round" opacity="0.53"/>
<line x1="436.9" y1="384.8" x2="439.0" y2="381.5" stroke="#d06a20" stroke-width="2.0" stroke-linecap="round" opacity="0.55"/>
<line x1="424.5" y1="385.5" x2="428.4" y2="388.0" stroke="#c04418" stroke-width="2.1" stroke-linecap="round" opacity="0.78"/>
<line x1="421.7" y1="384.5" x2="428.0" y2="383.0" stroke="#d06a20" stroke-width="2.2" stroke-linecap="round" opacity="0.62"/>
<line x1="444.9" y1="398.6" x2="448.8" y2="402.8" stroke="#c04418" stroke-width="1.4" stroke-linecap="round" opacity="0.51"/>
<line x1="425.9" y1="383.6" x2="429.4" y2="385.4" stroke="#e07a24" stroke-width="1.7" stroke-linecap="round" opacity="0.68"/>
<line x1="422.3" y1="385.3" x2="426.9" y2="380.5" stroke="#c84a16" stroke-width="1.6" stroke-linecap="round" opacity="0.41"/>
<line x1="441.6" y1="391.4" x2="447.9" y2="394.4" stroke="#e07a24" stroke-width="1.8" stroke-linecap="round" opacity="0.74"/>
<line x1="419.2" y1="385.7" x2="426.4" y2="382.5" stroke="#d06a20" stroke-width="1.7" stroke-linecap="round" opacity="0.65"/>
<line x1="419.9" y1="387.0" x2="425.6" y2="392.0" stroke="#a83414" stroke-width="1.6" stroke-linecap="round" opacity="0.69"/>
<line x1="423.0" y1="384.1" x2="427.4" y2="390.6" stroke="#e07a24" stroke-width="1.6" stroke-linecap="round" opacity="0.45"/>
<line x1="412.2" y1="390.6" x2="415.9" y2="386.5" stroke="#d06a20" stroke-width="1.6" stroke-linecap="round" opacity="0.46"/>
<line x1="425.8" y1="385.1" x2="433.2" y2="382.5" stroke="#a83414" stroke-width="1.3" stroke-linecap="round" opacity="0.71"/>
<line x1="415.4" y1="392.6" x2="419.1" y2="387.8" stroke="#d85a1c" stroke-width="1.8" stroke-linecap="round" opacity="0.76"/>
<line x1="444.0" y1="395.9" x2="450.7" y2="399.8" stroke="#a83414" stroke-width="1.9" stroke-linecap="round" opacity="0.73"/>
<line x1="446.1" y1="401.0" x2="448.4" y2="404.1" stroke="#d06a20" stroke-width="1.5" stroke-linecap="round" opacity="0.50"/>
<line x1="411.2" y1="394.7" x2="415.0" y2="392.4" stroke="#c84a16" stroke-width="1.4" stroke-linecap="round" opacity="0.56"/>
<line x1="441.6" y1="392.3" x2="444.2" y2="394.6" stroke="#d85a1c" stroke-width="1.8" stroke-linecap="round" opacity="0.66"/>
<line x1="444.6" y1="395.8" x2="446.3" y2="398.7" stroke="#a83414" stroke-width="1.9" stroke-linecap="round" opacity="0.62"/>
<line x1="426.4" y1="383.8" x2="430.3" y2="385.1" stroke="#a83414" stroke-width="1.8" stroke-linecap="round" opacity="0.54"/>
<line x1="416.0" y1="390.1" x2="423.2" y2="392.9" stroke="#c04418" stroke-width="1.5" stroke-linecap="round" opacity="0.40"/>
<line x1="445.6" y1="397.4" x2="450.1" y2="395.8" stroke="#d85a1c" stroke-width="1.3" stroke-linecap="round" opacity="0.67"/>
<line x1="413.3" y1="398.0" x2="420.4" y2="401.4" stroke="#c84a16" stroke-width="1.8" stroke-linecap="round" opacity="0.57"/>
<line x1="439.1" y1="388.7" x2="442.2" y2="393.8" stroke="#d06a20" stroke-width="1.3" stroke-linecap="round" opacity="0.46"/>
<line x1="413.9" y1="391.5" x2="418.3" y2="397.8" stroke="#c04418" stroke-width="1.3" stroke-linecap="round" opacity="0.52"/>
<line x1="418.6" y1="383.7" x2="422.3" y2="390.6" stroke="#d85a1c" stroke-width="2.1" stroke-linecap="round" opacity="0.77"/>
<line x1="402.2" y1="389.4" x2="402.3" y2="395.3" stroke="#c84a16" stroke-width="2.4" stroke-linecap="round" opacity="0.58"/>
<line x1="403.7" y1="406.2" x2="403.1" y2="409.9" stroke="#c04418" stroke-width="1.5" stroke-linecap="round" opacity="0.80"/>
<line x1="411.6" y1="361.4" x2="411.3" y2="364.6" stroke="#d06a20" stroke-width="2.1" stroke-linecap="round" opacity="0.79"/>
<line x1="409.7" y1="400.3" x2="410.6" y2="403.5" stroke="#d85a1c" stroke-width="2.5" stroke-linecap="round" opacity="0.78"/>
<line x1="406.1" y1="380.1" x2="408.6" y2="384.1" stroke="#d85a1c" stroke-width="1.7" stroke-linecap="round" opacity="0.68"/>
<line x1="407.3" y1="380.1" x2="408.6" y2="386.4" stroke="#d85a1c" stroke-width="2.4" stroke-linecap="round" opacity="0.62"/>
<line x1="404.0" y1="372.7" x2="406.0" y2="377.5" stroke="#a83414" stroke-width="1.6" stroke-linecap="round" opacity="0.72"/>
<line x1="408.1" y1="395.7" x2="408.8" y2="401.6" stroke="#c04418" stroke-width="1.6" stroke-linecap="round" opacity="0.54"/>
<line x1="405.0" y1="379.8" x2="405.2" y2="386.4" stroke="#d85a1c" stroke-width="2.0" stroke-linecap="round" opacity="0.48"/>
<line x1="409.6" y1="374.7" x2="410.6" y2="378.6" stroke="#d85a1c" stroke-width="1.8" stroke-linecap="round" opacity="0.59"/>
<line x1="411.1" y1="419.4" x2="413.3" y2="423.8" stroke="#d06a20" stroke-width="2.3" stroke-linecap="round" opacity="0.59"/>
<line x1="409.9" y1="382.8" x2="410.3" y2="387.2" stroke="#d06a20" stroke-width="1.5" stroke-linecap="round" opacity="0.84"/>
<line x1="411.1" y1="363.1" x2="410.5" y2="366.2" stroke="#e07a24" stroke-width="2.4" stroke-linecap="round" opacity="0.51"/>
<line x1="404.1" y1="412.7" x2="402.7" y2="420.4" stroke="#a83414" stroke-width="1.6" stroke-linecap="round" opacity="0.50"/>
<line x1="410.0" y1="379.2" x2="411.2" y2="382.2" stroke="#d06a20" stroke-width="2.1" stroke-linecap="round" opacity="0.80"/>
<line x1="409.3" y1="417.0" x2="410.7" y2="422.0" stroke="#c04418" stroke-width="2.4" stroke-linecap="round" opacity="0.51"/>
<line x1="410.7" y1="419.0" x2="410.9" y2="425.6" stroke="#c04418" stroke-width="1.7" stroke-linecap="round" opacity="0.52"/>
<line x1="403.2" y1="391.6" x2="403.9" y2="397.3" stroke="#c84a16" stroke-width="1.7" stroke-linecap="round" opacity="0.49"/>
<line x1="408.5" y1="361.0" x2="407.0" y2="368.4" stroke="#d06a20" stroke-width="2.0" stroke-linecap="round" opacity="0.51"/>
<line x1="405.3" y1="394.1" x2="405.0" y2="398.6" stroke="#c84a16" stroke-width="1.9" stroke-linecap="round" opacity="0.69"/>
<line x1="410.5" y1="387.9" x2="409.7" y2="391.8" stroke="#d06a20" stroke-width="1.4" stroke-linecap="round" opacity="0.76"/>
<line x1="406.0" y1="363.1" x2="407.6" y2="366.6" stroke="#d06a20" stroke-width="2.3" stroke-linecap="round" opacity="0.83"/>
<line x1="402.2" y1="385.4" x2="402.9" y2="393.2" stroke="#c04418" stroke-width="1.9" stroke-linecap="round" opacity="0.52"/>
<line x1="402.2" y1="378.3" x2="403.3" y2="381.3" stroke="#c84a16" stroke-width="2.0" stroke-linecap="round" opacity="0.73"/>
<line x1="404.5" y1="404.6" x2="406.2" y2="408.0" stroke="#c84a16" stroke-width="2.0" stroke-linecap="round" opacity="0.62"/>
<line x1="407.4" y1="387.6" x2="406.7" y2="392.2" stroke="#d85a1c" stroke-width="2.1" stroke-linecap="round" opacity="0.70"/>
<line x1="410.9" y1="399.5" x2="411.6" y2="404.8" stroke="#a83414" stroke-width="2.2" stroke-linecap="round" opacity="0.82"/>
<line x1="405.1" y1="393.3" x2="405.2" y2="398.3" stroke="#a83414" stroke-width="1.7" stroke-linecap="round" opacity="0.49"/>
<line x1="408.9" y1="380.8" x2="409.9" y2="386.5" stroke="#c84a16" stroke-width="2.1" stroke-linecap="round" opacity="0.72"/>
<line x1="408.6" y1="384.1" x2="408.0" y2="389.5" stroke="#c84a16" stroke-width="1.9" stroke-linecap="round" opacity="0.49"/>
<line x1="407.0" y1="388.9" x2="405.7" y2="395.0" stroke="#a83414" stroke-width="2.0" stroke-linecap="round" opacity="0.47"/>
<line x1="404.8" y1="363.0" x2="406.3" y2="368.8" stroke="#c04418" stroke-width="1.7" stroke-linecap="round" opacity="0.81"/>
<line x1="407.0" y1="385.6" x2="406.0" y2="391.2" stroke="#e07a24" stroke-width="2.3" stroke-linecap="round" opacity="0.51"/>
<line x1="405.2" y1="399.9" x2="404.2" y2="405.4" stroke="#d06a20" stroke-width="1.6" stroke-linecap="round" opacity="0.78"/>
<line x1="410.0" y1="418.7" x2="410.2" y2="426.3" stroke="#d06a20" stroke-width="2.2" stroke-linecap="round" opacity="0.77"/>
<line x1="410.0" y1="370.6" x2="412.3" y2="377.3" stroke="#d85a1c" stroke-width="1.4" stroke-linecap="round" opacity="0.77"/>
<line x1="411.6" y1="399.5" x2="411.9" y2="404.8" stroke="#d06a20" stroke-width="2.4" stroke-linecap="round" opacity="0.82"/>
<line x1="408.4" y1="363.9" x2="411.4" y2="369.5" stroke="#a83414" stroke-width="2.4" stroke-linecap="round" opacity="0.57"/>
<line x1="403.9" y1="401.7" x2="402.4" y2="408.3" stroke="#c84a16" stroke-width="2.1" stroke-linecap="round" opacity="0.75"/>
<line x1="408.7" y1="386.2" x2="410.0" y2="391.0" stroke="#c04418" stroke-width="2.0" stroke-linecap="round" opacity="0.83"/>
<line x1="460.5" y1="389.0" x2="465.3" y2="388.2" stroke="#c04418" stroke-width="2.2" stroke-linecap="round" opacity="0.55"/>
<line x1="471.3" y1="387.4" x2="477.0" y2="385.1" stroke="#d85a1c" stroke-width="1.8" stroke-linecap="round" opacity="0.49"/>
<line x1="448.7" y1="387.1" x2="454.9" y2="388.3" stroke="#c04418" stroke-width="1.6" stroke-linecap="round" opacity="0.68"/>
<line x1="469.2" y1="387.7" x2="476.9" y2="388.7" stroke="#e07a24" stroke-width="2.1" stroke-linecap="round" opacity="0.50"/>
<line x1="448.9" y1="389.1" x2="453.8" y2="386.7" stroke="#d06a20" stroke-width="1.8" stroke-linecap="round" opacity="0.54"/>
<line x1="463.8" y1="387.5" x2="467.8" y2="387.8" stroke="#d85a1c" stroke-width="1.7" stroke-linecap="round" opacity="0.52"/>
<line x1="450.9" y1="391.8" x2="455.1" y2="393.3" stroke="#d06a20" stroke-width="1.8" stroke-linecap="round" opacity="0.46"/>
<line x1="469.4" y1="390.7" x2="476.4" y2="387.6" stroke="#e07a24" stroke-width="1.7" stroke-linecap="round" opacity="0.61"/>
<line x1="464.4" y1="389.3" x2="470.0" y2="392.0" stroke="#a83414" stroke-width="1.8" stroke-linecap="round" opacity="0.53"/>
<line x1="440.4" y1="386.5" x2="443.8" y2="388.4" stroke="#c84a16" stroke-width="1.4" stroke-linecap="round" opacity="0.57"/>
<line x1="448.7" y1="390.3" x2="455.2" y2="389.1" stroke="#d06a20" stroke-width="1.2" stroke-linecap="round" opacity="0.42"/>
<line x1="441.9" y1="391.9" x2="449.3" y2="389.5" stroke="#a83414" stroke-width="2.2" stroke-linecap="round" opacity="0.42"/>
<line x1="442.3" y1="387.6" x2="448.7" y2="387.2" stroke="#d85a1c" stroke-width="2.3" stroke-linecap="round" opacity="0.55"/>
<line x1="465.1" y1="387.5" x2="471.9" y2="385.6" stroke="#c84a16" stroke-width="1.6" stroke-linecap="round" opacity="0.43"/>
<line x1="458.0" y1="387.5" x2="463.9" y2="386.9" stroke="#e07a24" stroke-width="1.3" stroke-linecap="round" opacity="0.52"/>
<line x1="426.9" y1="362.7" x2="432.0" y2="368.6" stroke="#e07a24" stroke-width="2.3" stroke-linecap="round" opacity="0.66"/>
<line x1="443.3" y1="376.6" x2="445.3" y2="372.3" stroke="#d06a20" stroke-width="1.8" stroke-linecap="round" opacity="0.49"/>
<line x1="424.4" y1="383.1" x2="427.6" y2="385.8" stroke="#d06a20" stroke-width="1.5" stroke-linecap="round" opacity="0.42"/>
<line x1="433.9" y1="365.3" x2="437.8" y2="362.0" stroke="#c04418" stroke-width="1.7" stroke-linecap="round" opacity="0.46"/>
<line x1="437.8" y1="371.8" x2="441.1" y2="376.1" stroke="#e07a24" stroke-width="1.9" stroke-linecap="round" opacity="0.59"/>
<line x1="428.2" y1="380.8" x2="432.8" y2="386.9" stroke="#c04418" stroke-width="2.0" stroke-linecap="round" opacity="0.45"/>
<line x1="436.1" y1="384.7" x2="441.8" y2="387.2" stroke="#e07a24" stroke-width="1.4" stroke-linecap="round" opacity="0.45"/>
<line x1="431.6" y1="362.2" x2="436.7" y2="365.3" stroke="#c84a16" stroke-width="2.0" stroke-linecap="round" opacity="0.36"/>
<line x1="425.0" y1="379.9" x2="429.1" y2="381.1" stroke="#d85a1c" stroke-width="2.2" stroke-linecap="round" opacity="0.45"/>
<line x1="444.4" y1="379.4" x2="449.6" y2="379.4" stroke="#c04418" stroke-width="2.1" stroke-linecap="round" opacity="0.64"/>
<line x1="424.1" y1="375.3" x2="429.4" y2="379.2" stroke="#d06a20" stroke-width="1.6" stroke-linecap="round" opacity="0.52"/>
<line x1="419.2" y1="377.7" x2="422.6" y2="374.0" stroke="#c04418" stroke-width="1.4" stroke-linecap="round" opacity="0.62"/>
<line x1="421.7" y1="378.9" x2="428.3" y2="374.9" stroke="#c84a16" stroke-width="1.6" stroke-linecap="round" opacity="0.68"/>
<line x1="421.8" y1="384.0" x2="428.7" y2="383.9" stroke="#e07a24" stroke-width="1.5" stroke-linecap="round" opacity="0.63"/>
<line x1="425.1" y1="363.8" x2="431.1" y2="363.2" stroke="#c84a16" stroke-width="1.8" stroke-linecap="round" opacity="0.50"/>
<line x1="410.8" y1="367.5" x2="413.3" y2="363.0" stroke="#c04418" stroke-width="1.5" stroke-linecap="round" opacity="0.59"/>
<line x1="434.8" y1="381.5" x2="439.0" y2="379.0" stroke="#a83414" stroke-width="1.8" stroke-linecap="round" opacity="0.53"/>
<line x1="429.4" y1="370.3" x2="433.3" y2="373.5" stroke="#d06a20" stroke-width="2.2" stroke-linecap="round" opacity="0.68"/>
<line x1="419.0" y1="364.6" x2="420.9" y2="361.6" stroke="#c04418" stroke-width="2.0" stroke-linecap="round" opacity="0.44"/>
<line x1="427.6" y1="378.1" x2="429.9" y2="380.3" stroke="#a83414" stroke-width="1.4" stroke-linecap="round" opacity="0.60"/>
<line x1="435.2" y1="368.8" x2="440.9" y2="364.1" stroke="#e07a24" stroke-width="2.0" stroke-linecap="round" opacity="0.36"/>
<line x1="443.0" y1="380.5" x2="447.4" y2="380.5" stroke="#a83414" stroke-width="1.4" stroke-linecap="round" opacity="0.43"/>
<line x1="432.3" y1="363.9" x2="439.6" y2="361.0" stroke="#e07a24" stroke-width="2.2" stroke-linecap="round" opacity="0.41"/>
<line x1="416.6" y1="375.4" x2="423.4" y2="375.0" stroke="#c84a16" stroke-width="2.0" stroke-linecap="round" opacity="0.43"/>
<line x1="441.8" y1="382.7" x2="445.7" y2="381.4" stroke="#d85a1c" stroke-width="1.7" stroke-linecap="round" opacity="0.58"/>
<line x1="440.6" y1="379.4" x2="446.8" y2="382.2" stroke="#c84a16" stroke-width="1.2" stroke-linecap="round" opacity="0.46"/>
<line x1="431.4" y1="379.8" x2="436.8" y2="380.2" stroke="#e07a24" stroke-width="1.3" stroke-linecap="round" opacity="0.39"/>
<line x1="410.8" y1="378.1" x2="414.1" y2="376.1" stroke="#d06a20" stroke-width="1.4" stroke-linecap="round" opacity="0.59"/>
<line x1="411.9" y1="380.3" x2="413.6" y2="376.5" stroke="#d85a1c" stroke-width="1.6" stroke-linecap="round" opacity="0.44"/>
<line x1="420.5" y1="366.8" x2="423.3" y2="365.4" stroke="#c84a16" stroke-width="1.4" stroke-linecap="round" opacity="0.41"/>
<line x1="415.8" y1="362.5" x2="420.5" y2="358.2" stroke="#c84a16" stroke-width="2.2" stroke-linecap="round" opacity="0.61"/>
<line x1="432.4" y1="377.1" x2="438.9" y2="377.2" stroke="#e07a24" stroke-width="2.1" stroke-linecap="round" opacity="0.48"/>
<line x1="419.6" y1="371.5" x2="421.7" y2="377.0" stroke="#d85a1c" stroke-width="1.5" stroke-linecap="round" opacity="0.45"/>
<line x1="424.1" y1="376.8" x2="427.3" y2="376.5" stroke="#c84a16" stroke-width="1.4" stroke-linecap="round" opacity="0.65"/>
<line x1="440.1" y1="377.8" x2="445.5" y2="381.4" stroke="#e07a24" stroke-width="1.3" stroke-linecap="round" opacity="0.53"/>
<line x1="418.2" y1="375.1" x2="422.1" y2="380.0" stroke="#d85a1c" stroke-width="1.3" stroke-linecap="round" opacity="0.44"/>
<line x1="445.0" y1="374.1" x2="450.0" y2="371.7" stroke="#a83414" stroke-width="1.8" stroke-linecap="round" opacity="0.70"/>
<line x1="412.7" y1="385.8" x2="414.8" y2="383.5" stroke="#e07a24" stroke-width="2.0" stroke-linecap="round" opacity="0.61"/>
<line x1="426.1" y1="385.7" x2="433.4" y2="387.4" stroke="#c84a16" stroke-width="1.9" stroke-linecap="round" opacity="0.55"/>
<line x1="416.2" y1="372.1" x2="423.1" y2="375.1" stroke="#d85a1c" stroke-width="2.2" stroke-linecap="round" opacity="0.58"/>
<line x1="439.2" y1="385.7" x2="446.6" y2="387.8" stroke="#c04418" stroke-width="1.4" stroke-linecap="round" opacity="0.58"/>
<line x1="417.7" y1="361.9" x2="424.0" y2="359.2" stroke="#c84a16" stroke-width="1.8" stroke-linecap="round" opacity="0.69"/>
<line x1="416.6" y1="364.9" x2="422.1" y2="360.6" stroke="#d85a1c" stroke-width="1.3" stroke-linecap="round" opacity="0.36"/>
<line x1="438.7" y1="363.7" x2="440.4" y2="360.0" stroke="#d85a1c" stroke-width="2.2" stroke-linecap="round" opacity="0.58"/>
<line x1="445.4" y1="380.9" x2="451.7" y2="385.0" stroke="#a83414" stroke-width="1.9" stroke-linecap="round" opacity="0.57"/>
</g>
<circle cx="446" cy="352" r="2.5" fill="#6a8a20" opacity="0.5" filter="url(#bl6)"/>
<circle cx="425" cy="364" r="2.5" fill="#6a8a20" opacity="0.5" filter="url(#bl6)"/>
<circle cx="416" cy="350" r="2.5" fill="#6a8a20" opacity="0.5" filter="url(#bl6)"/>
<path d="M426,360 C436,359 443,366 448,372 C452,377 455,383 455,388 C450,382 444,378 436,374 C430,371 427,366 426,360 Z" fill="#d88a2c" opacity="0.7" filter="url(#bl6)"/>
<ellipse cx="459" cy="367" rx="11" ry="15" fill="#30220a" opacity="0.8" filter="url(#bl2)"/>
<ellipse cx="428" cy="403" rx="13" ry="11" fill="#30220a" opacity="0.8" filter="url(#bl2)"/>
<path d="M457,312 C459,316 461,320 460,325" stroke="#c0581c" stroke-width="2.5" fill="none" opacity="0.7" filter="url(#bl3)"/>
<circle cx="418" cy="314" r="0.8" fill="#c8b060" opacity="0.8"/>
</g>
<rect x="451.2" y="310.2" width="15.40" height="15.20" fill="none" stroke="#aaa" stroke-width="0.8"/>
<rect x="442.6" y="391.1" width="29" height="27.3" fill="#2e1e08"/>
<path d="M452,393 C456,397 460,401 460,406 C459,411 456,414 452,418" stroke="#a04a18" stroke-width="3" fill="none" opacity="0.8" filter="url(#bl6)"/>
<path d="M463,395 C464,400 462,404 466,410" stroke="#8a4014" stroke-width="2" fill="none" opacity="0.6" filter="url(#bl6)"/>
<rect x="442.6" y="391.1" width="29.20" height="27.30" fill="none" stroke="#ddd" stroke-width="1"/>
<line x1="447" y1="317.8" x2="455" y2="317.8" stroke="#fff" stroke-width="1.3"/>
<line x1="452" y1="312.5" x2="452" y2="324" stroke="#eee" stroke-width="0.9"/>
<polygon points="424.9,342.4 424.9,346.4 428.5,344.4" fill="#fff"/>
<polygon points="438.3,343 438.3,347 434.7,345" fill="#fff"/>
<polygon points="414.2,380.8 414.2,384.8 417.8,382.8" fill="#fff"/>
<circle cx="456.5" cy="367.5" r="1.1" fill="#fff" filter="url(#bl5)"/>
<circle cx="427.6" cy="400.5" r="1.1" fill="#fff" filter="url(#bl5)"/>
<text x="409.2" y="416.0" font-size="4.5" text-anchor="start" font-weight="bold" fill="#ddd"  >HLA-G / CD8</text>
</svg>
</body></html>
